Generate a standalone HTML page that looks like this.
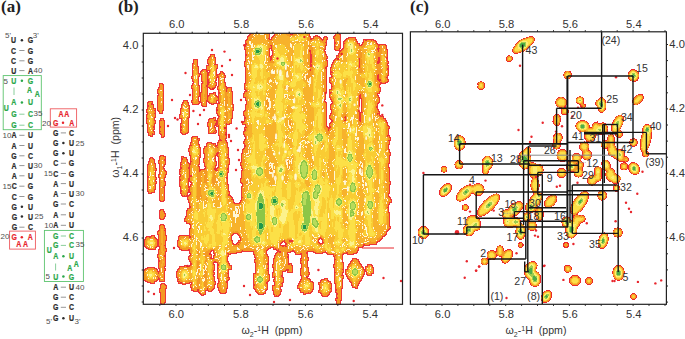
<!DOCTYPE html>
<html><head><meta charset="utf-8"><style>
html,body{margin:0;padding:0;background:#fff;}
body{width:685px;height:339px;overflow:hidden;}
svg{display:block;}
</style></head><body>
<svg width="685" height="339" viewBox="0 0 685 339">
<defs><filter id="fb" filterUnits="userSpaceOnUse" x="143" y="33" width="260" height="272" color-interpolation-filters="sRGB"><feTurbulence type="fractalNoise" baseFrequency="0.3 0.2" numOctaves="2" seed="3" result="t1"/><feGaussianBlur in="SourceAlpha" stdDeviation="1.0" result="b"/><feDisplacementMap in="b" in2="t1" scale="3" xChannelSelector="R" yChannelSelector="G" result="bd"/><feColorMatrix in="bd" type="matrix" values="0 0 0 1 0  0 0 0 1 0  0 0 0 1 0  0 0 0 0 1" result="g"/><feTurbulence type="fractalNoise" baseFrequency="0.18 0.045" numOctaves="3" seed="11" result="t"/><feColorMatrix in="t" type="matrix" values="1 0 0 0 0  1 0 0 0 0  1 0 0 0 0  0 0 0 0 1" result="n"/><feComposite in="g" in2="n" operator="arithmetic" k1="0.5" k2="0.75" k3="0" k4="0" result="d"/><feComponentTransfer in="d" result="col"><feFuncR type="discrete" tableValues="1.000 1.000 1.000 1.000 1.000 1.000 1.000 1.000 1.000 1.000 1.000 1.000 1.000 1.000 1.000 1.000 1.000 1.000 1.000 1.000 1.000 1.000 1.000 1.000 1.000 1.000 0.960 0.960 0.960 0.960 0.960 0.960 0.960 0.960 0.960 0.960 0.960 0.960 0.960 0.960 0.960 0.960 0.960 0.960 0.960 0.960 0.960 0.960 0.960 0.960 0.960 0.960 0.960 0.960 0.960 0.960 0.960 0.960 0.960 0.960 0.960 0.960 0.960 0.960 0.960 0.960 0.960 0.960 0.960 0.960 0.960 0.960 0.960 0.960 0.960 0.960 0.960 0.960 0.960 0.960 1.000 1.000 1.000 1.000 0.970 0.970 0.970 0.970 0.970 0.970 0.970 0.970 0.970 0.970 0.970 0.970 0.970 0.970 0.970 0.970 0.970 0.970 0.970 0.970 1.000 1.000 1.000 1.000 0.980 0.980 0.980 0.980 0.980 0.980 0.980 0.980 0.980 0.980 0.980 0.980 0.980 0.980 0.980 0.980 0.990 0.990 0.990 0.990 0.990 0.990 0.990 0.990 0.990 0.990 0.990 0.990 0.990 0.990 0.990 0.990 0.990 0.990 0.990 0.990 0.990 0.990 0.990 0.990 0.990 0.990 0.990 0.990 0.990 0.990 0.990 0.990 0.990 0.990 0.990 0.990 0.990 0.990 0.990 0.990 0.990 0.990 0.620 0.620 0.620 0.620 0.620 0.620 0.620 0.620 0.620 0.620 0.620 0.620 0.620 0.620 0.620 0.620 0.200 0.200 0.200 0.200 0.200 0.200 0.200 0.200 0.200 0.200 0.200 0.200 0.200 0.200 0.200 0.200 0.200 0.200"/><feFuncG type="discrete" tableValues="1.000 1.000 1.000 1.000 1.000 1.000 1.000 1.000 1.000 1.000 1.000 1.000 1.000 1.000 1.000 1.000 1.000 1.000 1.000 1.000 1.000 1.000 1.000 1.000 1.000 1.000 0.600 0.600 0.600 0.600 0.600 0.600 0.600 0.600 0.600 0.600 0.600 0.600 0.600 0.600 0.600 0.600 0.600 0.600 0.600 0.600 0.600 0.600 0.600 0.600 0.600 0.600 0.600 0.600 0.600 0.600 0.600 0.600 0.600 0.600 0.600 0.600 0.600 0.600 0.600 0.600 0.600 0.600 0.600 0.600 0.600 0.600 0.600 0.600 0.600 0.600 0.600 0.600 0.600 0.600 0.970 0.970 0.970 0.970 0.700 0.700 0.700 0.700 0.700 0.700 0.700 0.700 0.700 0.700 0.700 0.700 0.700 0.700 0.700 0.700 0.700 0.700 0.700 0.700 0.970 0.970 0.970 0.970 0.800 0.800 0.800 0.800 0.800 0.800 0.800 0.800 0.800 0.800 0.800 0.800 0.800 0.800 0.800 0.800 0.880 0.880 0.880 0.880 0.880 0.880 0.880 0.880 0.880 0.880 0.880 0.880 0.880 0.880 0.880 0.880 0.880 0.880 0.880 0.880 0.880 0.880 0.880 0.880 0.950 0.950 0.950 0.950 0.950 0.950 0.950 0.950 0.950 0.950 0.950 0.950 0.950 0.950 0.950 0.950 0.950 0.950 0.800 0.800 0.800 0.800 0.800 0.800 0.800 0.800 0.800 0.800 0.800 0.800 0.800 0.800 0.800 0.800 0.620 0.620 0.620 0.620 0.620 0.620 0.620 0.620 0.620 0.620 0.620 0.620 0.620 0.620 0.620 0.620 0.620 0.620"/><feFuncB type="discrete" tableValues="1.000 1.000 1.000 1.000 1.000 1.000 1.000 1.000 1.000 1.000 1.000 1.000 1.000 1.000 1.000 1.000 1.000 1.000 1.000 1.000 1.000 1.000 1.000 1.000 1.000 1.000 0.140 0.140 0.140 0.140 0.140 0.140 0.140 0.140 0.140 0.140 0.140 0.140 0.140 0.140 0.140 0.140 0.140 0.140 0.140 0.140 0.140 0.140 0.140 0.140 0.140 0.140 0.140 0.140 0.140 0.140 0.140 0.140 0.140 0.140 0.140 0.140 0.140 0.140 0.140 0.140 0.140 0.140 0.140 0.140 0.140 0.140 0.140 0.140 0.140 0.140 0.140 0.140 0.140 0.140 0.850 0.850 0.850 0.850 0.170 0.170 0.170 0.170 0.170 0.170 0.170 0.170 0.170 0.170 0.170 0.170 0.170 0.170 0.170 0.170 0.170 0.170 0.170 0.170 0.850 0.850 0.850 0.850 0.200 0.200 0.200 0.200 0.200 0.200 0.200 0.200 0.200 0.200 0.200 0.200 0.200 0.200 0.200 0.200 0.280 0.280 0.280 0.280 0.280 0.280 0.280 0.280 0.280 0.280 0.280 0.280 0.280 0.280 0.280 0.280 0.280 0.280 0.280 0.280 0.280 0.280 0.280 0.280 0.550 0.550 0.550 0.550 0.550 0.550 0.550 0.550 0.550 0.550 0.550 0.550 0.550 0.550 0.550 0.550 0.550 0.550 0.300 0.300 0.300 0.300 0.300 0.300 0.300 0.300 0.300 0.300 0.300 0.300 0.300 0.300 0.300 0.300 0.300 0.300 0.300 0.300 0.300 0.300 0.300 0.300 0.300 0.300 0.300 0.300 0.300 0.300 0.300 0.300 0.300 0.300"/></feComponentTransfer><feColorMatrix in="d" type="matrix" values="0 0 0 0 0  0 0 0 0 0  0 0 0 0 0  1 0 0 0 0" result="da"/><feComponentTransfer in="da" result="m"><feFuncA type="discrete" tableValues="0 0 0 0 0 0 0 0 0 0 0 0 0 1 1 1 1 1 1 1 1 1 1 1 1 1 1 1 1 1 1 1 1 1 1 1 1 1 1 1 1 1 1 1 1 1 1 1 1 1 1 1 1 1 1 1 1 1 1 1 1 1 1 1 1 1 1 1 1 1 1 1 1 1 1 1 1 1 1 1 1 1 1 1 1 1 1 1 1 1 1 1 1 1 1 1 1 1 1 1"/></feComponentTransfer><feMorphology in="m" operator="dilate" radius="1" result="dil"/><feComposite in="dil" in2="m" operator="out" result="ring"/><feFlood flood-color="#ec2a2e" flood-opacity="0.95" result="rf"/><feComposite in="rf" in2="ring" operator="in" result="red"/><feMerge><feMergeNode in="col"/><feMergeNode in="red"/></feMerge></filter><mask id="mb" maskUnits="userSpaceOnUse" x="143" y="33" width="260" height="272"><rect x="143" y="33" width="260" height="272" fill="#fff"/><ellipse cx="202.3" cy="156" rx="1.6" ry="16" fill="#000"/><ellipse cx="216.5" cy="162" rx="1.3" ry="10" fill="#000"/><ellipse cx="216.5" cy="288" rx="2.2" ry="14" fill="#000"/><ellipse cx="234" cy="280" rx="4" ry="22" fill="#000"/><ellipse cx="378.2" cy="62" rx="0.9" ry="13" fill="#000"/><ellipse cx="271" cy="53" rx="2.6" ry="10" fill="#000"/><ellipse cx="310.8" cy="60" rx="1.8" ry="16" fill="#000"/><ellipse cx="329" cy="50" rx="4.5" ry="15" fill="#000"/><ellipse cx="328" cy="100" rx="3.2" ry="36" fill="#000"/><ellipse cx="345" cy="118.6" rx="1.8" ry="4.5" fill="#000"/><ellipse cx="360.2" cy="108" rx="2.2" ry="18" fill="#000"/><ellipse cx="382" cy="100" rx="4" ry="17" fill="#000"/><ellipse cx="359.5" cy="62" rx="1.5" ry="12" fill="#000"/><ellipse cx="237.5" cy="200" rx="5" ry="5" fill="#000"/><ellipse cx="235.6" cy="239" rx="6" ry="7" fill="#000"/><ellipse cx="235" cy="277" rx="2.5" ry="10" fill="#000"/><ellipse cx="283.4" cy="244" rx="4.5" ry="4" fill="#000"/><ellipse cx="290.5" cy="241" rx="2.5" ry="2.5" fill="#000"/><ellipse cx="272" cy="252" rx="6" ry="6" fill="#000"/><ellipse cx="320.6" cy="241" rx="3.5" ry="5" fill="#000"/><ellipse cx="314.5" cy="264" rx="8.5" ry="9.5" fill="#000"/><ellipse cx="296" cy="264" rx="5" ry="10.5" fill="#000"/><ellipse cx="241" cy="300" rx="8" ry="6" fill="#000"/><ellipse cx="283" cy="292" rx="4" ry="12" fill="#000"/><ellipse cx="212" cy="254" rx="3.5" ry="5.5" fill="#000"/><ellipse cx="237.5" cy="166" rx="4.2" ry="30" fill="#000"/></mask></defs><g filter="url(#fb)"><g mask="url(#mb)"><rect x="143" y="33" width="260" height="272" fill="#fff" fill-opacity="0"/><g opacity="0.45"><rect x="194.3" y="62.5" width="2.5" height="40.0" rx="1.2" ry="1.2"/><ellipse cx="195.8" cy="63.0" rx="1.0" ry="4.0"/><ellipse cx="195.6" cy="67.7" rx="1.4" ry="3.9"/><ellipse cx="195.5" cy="72.2" rx="1.8" ry="3.3"/><ellipse cx="195.9" cy="76.6" rx="1.8" ry="4.4"/><ellipse cx="195.5" cy="80.8" rx="1.8" ry="5.4"/><ellipse cx="195.4" cy="85.2" rx="1.6" ry="4.8"/><ellipse cx="195.9" cy="89.2" rx="2.4" ry="3.8"/><ellipse cx="195.8" cy="95.1" rx="2.2" ry="3.0"/><ellipse cx="195.4" cy="101.0" rx="1.1" ry="3.4"/><rect x="202.8" y="72.5" width="2.4" height="32.0" rx="1.2" ry="1.2"/><ellipse cx="204.3" cy="73.0" rx="1.5" ry="3.2"/><ellipse cx="204.1" cy="79.0" rx="1.5" ry="4.9"/><ellipse cx="204.1" cy="84.9" rx="1.4" ry="4.2"/><ellipse cx="204.3" cy="89.7" rx="1.7" ry="4.5"/><ellipse cx="204.0" cy="94.2" rx="2.0" ry="4.9"/><ellipse cx="203.8" cy="98.4" rx="2.0" ry="3.4"/><ellipse cx="204.0" cy="102.8" rx="1.3" ry="3.7"/><rect x="210.5" y="58.5" width="3.7" height="30.0" rx="1.9" ry="1.9"/><ellipse cx="212.2" cy="59.0" rx="2.1" ry="4.0"/><ellipse cx="212.5" cy="63.2" rx="2.0" ry="4.2"/><ellipse cx="212.2" cy="67.7" rx="3.4" ry="3.3"/><ellipse cx="212.6" cy="72.4" rx="3.1" ry="4.3"/><ellipse cx="212.2" cy="78.4" rx="2.7" ry="3.6"/><ellipse cx="211.9" cy="83.7" rx="2.6" ry="4.4"/><ellipse cx="212.4" cy="98.5" rx="3.6" ry="4.5"/><rect x="220.5" y="76.5" width="4.0" height="62.0" rx="2.0" ry="2.0"/><ellipse cx="222.2" cy="77.0" rx="2.4" ry="3.2"/><ellipse cx="222.5" cy="82.1" rx="2.1" ry="3.0"/><ellipse cx="221.9" cy="88.0" rx="2.8" ry="3.9"/><ellipse cx="222.6" cy="92.3" rx="2.6" ry="3.4"/><ellipse cx="223.0" cy="97.2" rx="2.7" ry="5.4"/><ellipse cx="222.7" cy="101.4" rx="3.1" ry="4.3"/><ellipse cx="222.1" cy="106.4" rx="3.5" ry="4.3"/><ellipse cx="222.1" cy="111.8" rx="3.5" ry="4.5"/><ellipse cx="223.0" cy="116.8" rx="3.3" ry="3.1"/><ellipse cx="221.9" cy="121.7" rx="3.3" ry="5.0"/><ellipse cx="222.9" cy="126.9" rx="2.7" ry="3.1"/><ellipse cx="222.0" cy="131.2" rx="2.2" ry="4.4"/><ellipse cx="223.1" cy="137.6" rx="1.8" ry="3.2"/><rect x="227.5" y="91.5" width="3.0" height="32.0" rx="1.5" ry="1.5"/><ellipse cx="229.2" cy="92.0" rx="1.3" ry="4.4"/><ellipse cx="229.1" cy="98.4" rx="2.2" ry="4.0"/><ellipse cx="229.2" cy="104.4" rx="2.3" ry="4.6"/><ellipse cx="229.2" cy="108.5" rx="2.8" ry="5.3"/><ellipse cx="228.9" cy="113.0" rx="1.7" ry="4.6"/><ellipse cx="228.6" cy="117.5" rx="1.8" ry="4.4"/><rect x="159.6" y="87.5" width="2.1" height="24.0" rx="1.1" ry="1.1"/><ellipse cx="161.0" cy="88.0" rx="1.1" ry="5.0"/><ellipse cx="161.0" cy="93.3" rx="1.6" ry="4.3"/><ellipse cx="160.6" cy="99.0" rx="1.3" ry="5.3"/><ellipse cx="160.5" cy="104.8" rx="1.8" ry="4.8"/><ellipse cx="160.4" cy="109.6" rx="1.1" ry="4.0"/><rect x="149.2" y="105.5" width="3.2" height="27.0" rx="1.6" ry="1.6"/><ellipse cx="150.3" cy="106.0" rx="1.5" ry="4.6"/><ellipse cx="150.6" cy="110.6" rx="2.1" ry="4.5"/><ellipse cx="150.7" cy="115.6" rx="2.8" ry="3.3"/><ellipse cx="151.1" cy="121.3" rx="3.0" ry="4.4"/><ellipse cx="151.1" cy="125.6" rx="1.7" ry="4.1"/><ellipse cx="150.8" cy="130.2" rx="1.6" ry="5.4"/><rect x="183.0" y="103.5" width="3.7" height="29.0" rx="1.9" ry="1.9"/><ellipse cx="185.1" cy="104.0" rx="1.5" ry="3.3"/><ellipse cx="185.1" cy="108.0" rx="2.5" ry="3.8"/><ellipse cx="184.7" cy="113.5" rx="3.6" ry="5.4"/><ellipse cx="184.8" cy="118.3" rx="2.3" ry="3.1"/><ellipse cx="185.1" cy="123.9" rx="2.2" ry="3.6"/><ellipse cx="184.5" cy="129.6" rx="1.8" ry="4.3"/><rect x="161.1" y="123.5" width="1.7" height="11.0" rx="0.9" ry="0.9"/><ellipse cx="162.0" cy="124.0" rx="1.0" ry="5.4"/><ellipse cx="162.1" cy="129.2" rx="1.5" ry="3.3"/><ellipse cx="162.2" cy="133.3" rx="0.9" ry="5.0"/><rect x="149.4" y="161.5" width="4.2" height="31.0" rx="2.1" ry="2.1"/><ellipse cx="151.3" cy="162.0" rx="1.8" ry="3.5"/><ellipse cx="151.6" cy="166.2" rx="2.7" ry="3.4"/><ellipse cx="151.0" cy="171.6" rx="2.4" ry="3.3"/><ellipse cx="151.6" cy="177.8" rx="3.5" ry="3.3"/><ellipse cx="151.8" cy="183.3" rx="2.8" ry="5.3"/><ellipse cx="151.1" cy="188.6" rx="2.5" ry="3.9"/><rect x="161.0" y="158.5" width="2.0" height="43.0" rx="1.0" ry="1.0"/><ellipse cx="161.8" cy="159.0" rx="0.8" ry="4.1"/><ellipse cx="162.2" cy="163.3" rx="1.5" ry="4.3"/><ellipse cx="162.2" cy="168.9" rx="1.3" ry="4.1"/><ellipse cx="162.2" cy="174.6" rx="1.6" ry="4.7"/><ellipse cx="161.9" cy="180.1" rx="1.4" ry="3.7"/><ellipse cx="162.1" cy="184.8" rx="1.7" ry="5.2"/><ellipse cx="162.0" cy="189.9" rx="1.2" ry="4.2"/><ellipse cx="162.3" cy="195.4" rx="1.4" ry="3.9"/><rect x="182.5" y="161.5" width="4.0" height="34.0" rx="2.0" ry="2.0"/><ellipse cx="184.4" cy="162.0" rx="1.6" ry="4.1"/><ellipse cx="184.7" cy="166.4" rx="2.6" ry="3.8"/><ellipse cx="184.4" cy="172.0" rx="3.6" ry="4.3"/><ellipse cx="185.1" cy="176.3" rx="2.8" ry="4.7"/><ellipse cx="185.1" cy="181.3" rx="2.8" ry="3.0"/><ellipse cx="184.6" cy="186.5" rx="2.8" ry="5.1"/><ellipse cx="184.4" cy="190.7" rx="2.1" ry="3.5"/><rect x="210.1" y="123.5" width="3.7" height="8.0" rx="1.9" ry="1.9"/><ellipse cx="211.8" cy="124.0" rx="2.6" ry="5.3"/><ellipse cx="212.1" cy="128.0" rx="2.7" ry="4.9"/><ellipse cx="194.8" cy="150.9" rx="5.0" ry="7.0"/><ellipse cx="210.7" cy="151.0" rx="5.5" ry="6.5"/><ellipse cx="222.6" cy="148.0" rx="5.0" ry="7.0"/><rect x="192.4" y="141.5" width="4.7" height="149.0" rx="2.4" ry="2.4"/><ellipse cx="194.7" cy="142.0" rx="2.5" ry="5.0"/><ellipse cx="194.3" cy="146.3" rx="2.5" ry="3.1"/><ellipse cx="194.5" cy="152.7" rx="2.7" ry="4.4"/><ellipse cx="194.9" cy="157.7" rx="3.4" ry="5.1"/><ellipse cx="195.2" cy="162.4" rx="2.8" ry="3.8"/><ellipse cx="194.2" cy="167.6" rx="3.7" ry="4.8"/><ellipse cx="194.6" cy="172.3" rx="4.1" ry="3.8"/><ellipse cx="194.8" cy="178.7" rx="4.0" ry="5.0"/><ellipse cx="195.3" cy="184.4" rx="2.9" ry="3.8"/><ellipse cx="194.9" cy="189.6" rx="4.1" ry="5.4"/><ellipse cx="194.6" cy="194.6" rx="3.1" ry="4.7"/><ellipse cx="194.2" cy="199.4" rx="4.5" ry="5.0"/><ellipse cx="194.7" cy="203.5" rx="4.0" ry="3.9"/><ellipse cx="195.1" cy="209.4" rx="3.9" ry="5.4"/><ellipse cx="194.3" cy="213.7" rx="3.9" ry="4.5"/><ellipse cx="195.0" cy="217.8" rx="4.5" ry="4.7"/><ellipse cx="194.6" cy="222.3" rx="3.3" ry="5.2"/><ellipse cx="195.4" cy="228.3" rx="4.4" ry="5.0"/><ellipse cx="194.4" cy="232.4" rx="3.8" ry="3.6"/><ellipse cx="195.5" cy="238.5" rx="4.1" ry="4.8"/><ellipse cx="194.2" cy="244.2" rx="3.5" ry="5.4"/><ellipse cx="194.5" cy="249.5" rx="3.8" ry="5.4"/><ellipse cx="195.1" cy="253.8" rx="2.9" ry="3.3"/><ellipse cx="194.5" cy="258.6" rx="4.5" ry="4.1"/><ellipse cx="194.7" cy="264.2" rx="3.4" ry="3.9"/><ellipse cx="194.9" cy="269.4" rx="3.9" ry="3.3"/><ellipse cx="194.5" cy="273.6" rx="4.5" ry="5.4"/><ellipse cx="194.9" cy="278.5" rx="3.6" ry="5.0"/><ellipse cx="194.8" cy="284.4" rx="2.9" ry="4.9"/><rect x="207.4" y="146.5" width="5.2" height="142.0" rx="2.6" ry="2.6"/><ellipse cx="209.5" cy="147.0" rx="2.1" ry="3.4"/><ellipse cx="210.4" cy="152.3" rx="4.2" ry="4.7"/><ellipse cx="209.8" cy="157.9" rx="4.3" ry="4.5"/><ellipse cx="210.4" cy="163.6" rx="4.7" ry="5.1"/><ellipse cx="209.9" cy="169.3" rx="3.6" ry="3.2"/><ellipse cx="210.6" cy="174.0" rx="3.7" ry="3.5"/><ellipse cx="209.9" cy="178.7" rx="3.0" ry="5.3"/><ellipse cx="209.4" cy="184.5" rx="3.0" ry="4.9"/><ellipse cx="209.8" cy="188.7" rx="3.1" ry="4.4"/><ellipse cx="209.9" cy="193.4" rx="3.7" ry="3.3"/><ellipse cx="209.7" cy="198.8" rx="3.1" ry="3.9"/><ellipse cx="209.2" cy="204.6" rx="4.0" ry="3.0"/><ellipse cx="209.3" cy="210.7" rx="4.1" ry="3.5"/><ellipse cx="210.5" cy="216.1" rx="4.9" ry="5.0"/><ellipse cx="209.2" cy="222.3" rx="4.6" ry="3.0"/><ellipse cx="210.2" cy="228.5" rx="4.4" ry="5.5"/><ellipse cx="209.3" cy="234.3" rx="4.8" ry="3.2"/><ellipse cx="209.8" cy="238.9" rx="4.4" ry="3.7"/><ellipse cx="210.6" cy="243.9" rx="4.5" ry="4.3"/><ellipse cx="209.3" cy="250.0" rx="3.1" ry="3.7"/><ellipse cx="210.4" cy="254.3" rx="3.1" ry="4.9"/><ellipse cx="210.2" cy="258.3" rx="3.5" ry="4.7"/><ellipse cx="209.2" cy="264.2" rx="3.1" ry="4.6"/><ellipse cx="209.6" cy="269.2" rx="3.9" ry="5.3"/><ellipse cx="209.4" cy="274.3" rx="3.4" ry="5.1"/><ellipse cx="209.7" cy="280.6" rx="3.8" ry="4.1"/><ellipse cx="209.6" cy="285.2" rx="3.7" ry="5.2"/><rect x="220.4" y="145.5" width="5.2" height="145.0" rx="2.6" ry="2.6"/><ellipse cx="223.7" cy="146.0" rx="2.8" ry="3.4"/><ellipse cx="223.5" cy="150.7" rx="3.9" ry="3.5"/><ellipse cx="223.5" cy="157.0" rx="3.1" ry="4.6"/><ellipse cx="223.8" cy="161.7" rx="4.5" ry="4.4"/><ellipse cx="223.1" cy="167.1" rx="4.0" ry="3.4"/><ellipse cx="222.2" cy="173.0" rx="4.1" ry="3.5"/><ellipse cx="222.5" cy="179.4" rx="4.1" ry="3.1"/><ellipse cx="222.6" cy="184.1" rx="3.5" ry="4.0"/><ellipse cx="222.5" cy="188.9" rx="4.9" ry="4.2"/><ellipse cx="223.5" cy="193.3" rx="4.9" ry="3.1"/><ellipse cx="223.3" cy="199.4" rx="3.9" ry="3.4"/><ellipse cx="223.7" cy="204.7" rx="3.3" ry="4.8"/><ellipse cx="222.9" cy="210.2" rx="4.2" ry="4.5"/><ellipse cx="222.3" cy="214.3" rx="4.0" ry="3.4"/><ellipse cx="222.8" cy="219.7" rx="4.4" ry="3.5"/><ellipse cx="223.3" cy="225.4" rx="3.2" ry="3.7"/><ellipse cx="223.6" cy="231.5" rx="3.0" ry="3.5"/><ellipse cx="222.9" cy="237.3" rx="4.6" ry="4.9"/><ellipse cx="223.7" cy="243.7" rx="4.5" ry="5.0"/><ellipse cx="223.2" cy="250.0" rx="3.1" ry="4.4"/><ellipse cx="223.5" cy="255.2" rx="3.6" ry="3.0"/><ellipse cx="222.5" cy="260.8" rx="4.5" ry="5.3"/><ellipse cx="222.7" cy="266.6" rx="4.8" ry="3.1"/><ellipse cx="222.3" cy="273.0" rx="4.5" ry="3.1"/><ellipse cx="223.1" cy="279.2" rx="4.0" ry="5.0"/><ellipse cx="222.8" cy="283.7" rx="3.0" ry="3.9"/><ellipse cx="222.8" cy="288.0" rx="3.0" ry="4.6"/><rect x="200.8" y="173.5" width="4.3" height="85.0" rx="2.2" ry="2.2"/><ellipse cx="203.4" cy="174.0" rx="2.7" ry="3.9"/><ellipse cx="202.3" cy="178.8" rx="2.3" ry="4.0"/><ellipse cx="202.5" cy="185.2" rx="3.9" ry="3.5"/><ellipse cx="202.7" cy="190.3" rx="2.8" ry="4.4"/><ellipse cx="203.5" cy="194.7" rx="3.1" ry="3.0"/><ellipse cx="203.0" cy="199.2" rx="3.1" ry="4.1"/><ellipse cx="203.7" cy="203.7" rx="3.0" ry="3.1"/><ellipse cx="203.3" cy="209.2" rx="3.0" ry="4.1"/><ellipse cx="202.4" cy="213.6" rx="3.3" ry="4.5"/><ellipse cx="202.9" cy="218.8" rx="2.5" ry="3.8"/><ellipse cx="203.1" cy="223.3" rx="3.7" ry="3.3"/><ellipse cx="202.8" cy="228.3" rx="4.0" ry="4.8"/><ellipse cx="202.9" cy="233.6" rx="2.9" ry="5.2"/><ellipse cx="203.4" cy="238.8" rx="3.4" ry="3.9"/><ellipse cx="203.4" cy="245.0" rx="2.9" ry="4.0"/><ellipse cx="202.6" cy="250.8" rx="3.1" ry="3.7"/><ellipse cx="202.7" cy="256.1" rx="1.9" ry="3.5"/><rect x="214.8" y="173.5" width="4.3" height="85.0" rx="2.2" ry="2.2"/><ellipse cx="216.7" cy="174.0" rx="2.1" ry="3.7"/><ellipse cx="217.6" cy="180.3" rx="2.7" ry="4.9"/><ellipse cx="216.4" cy="185.5" rx="3.3" ry="3.0"/><ellipse cx="217.7" cy="190.2" rx="3.4" ry="5.4"/><ellipse cx="216.6" cy="195.3" rx="2.9" ry="3.8"/><ellipse cx="217.0" cy="201.3" rx="4.0" ry="4.5"/><ellipse cx="217.2" cy="207.4" rx="2.6" ry="5.3"/><ellipse cx="217.2" cy="211.6" rx="2.7" ry="3.9"/><ellipse cx="217.2" cy="215.9" rx="3.7" ry="3.2"/><ellipse cx="217.5" cy="222.0" rx="3.7" ry="5.3"/><ellipse cx="216.9" cy="226.8" rx="3.4" ry="4.1"/><ellipse cx="216.4" cy="231.9" rx="3.4" ry="4.2"/><ellipse cx="216.6" cy="236.3" rx="4.0" ry="4.9"/><ellipse cx="216.9" cy="240.6" rx="4.0" ry="3.6"/><ellipse cx="217.4" cy="247.0" rx="2.7" ry="4.2"/><ellipse cx="217.3" cy="251.3" rx="4.0" ry="4.7"/><ellipse cx="216.6" cy="257.3" rx="1.8" ry="4.1"/><rect x="227.1" y="201.5" width="3.7" height="52.0" rx="1.9" ry="1.9"/><ellipse cx="228.6" cy="202.0" rx="2.0" ry="5.0"/><ellipse cx="229.5" cy="207.2" rx="2.0" ry="5.0"/><ellipse cx="229.4" cy="211.4" rx="2.1" ry="4.8"/><ellipse cx="229.2" cy="216.2" rx="2.2" ry="4.4"/><ellipse cx="228.6" cy="222.7" rx="3.4" ry="3.8"/><ellipse cx="229.3" cy="226.8" rx="2.5" ry="4.7"/><ellipse cx="229.0" cy="230.9" rx="2.6" ry="3.3"/><ellipse cx="228.8" cy="235.5" rx="2.3" ry="3.3"/><ellipse cx="229.0" cy="239.7" rx="2.1" ry="4.4"/><ellipse cx="229.1" cy="244.5" rx="2.1" ry="3.1"/><ellipse cx="228.5" cy="250.3" rx="2.3" ry="3.5"/><ellipse cx="221.2" cy="174.0" rx="5.2" ry="5.8"/><ellipse cx="211.8" cy="193.3" rx="5.6" ry="6.2"/><ellipse cx="223.6" cy="217.2" rx="6.0" ry="7.0"/><ellipse cx="223.6" cy="267.4" rx="5.4" ry="5.9"/><ellipse cx="210.6" cy="193.0" rx="5.2" ry="5.8"/><ellipse cx="184.7" cy="129.7" rx="3.0" ry="3.5"/><ellipse cx="210.6" cy="128.5" rx="1.8" ry="2.5"/><polygon points="196,205 200,201 247,200 247,250 236,252 200,252 196,240"/><rect x="199.8" y="201.5" width="4.3" height="93.0" rx="2.2" ry="2.2"/><ellipse cx="202.0" cy="202.0" rx="1.9" ry="5.0"/><ellipse cx="201.4" cy="208.3" rx="3.6" ry="3.7"/><ellipse cx="201.7" cy="212.9" rx="4.0" ry="4.9"/><ellipse cx="201.8" cy="218.0" rx="2.8" ry="3.8"/><ellipse cx="202.1" cy="224.1" rx="3.9" ry="4.4"/><ellipse cx="202.0" cy="229.8" rx="2.8" ry="4.4"/><ellipse cx="202.6" cy="234.6" rx="3.0" ry="3.6"/><ellipse cx="201.7" cy="241.0" rx="3.4" ry="5.4"/><ellipse cx="202.5" cy="245.9" rx="4.1" ry="3.7"/><ellipse cx="202.3" cy="251.9" rx="3.3" ry="4.3"/><ellipse cx="202.1" cy="258.1" rx="4.1" ry="4.8"/><ellipse cx="202.4" cy="264.2" rx="3.4" ry="4.5"/><ellipse cx="202.7" cy="269.3" rx="2.9" ry="5.1"/><ellipse cx="201.7" cy="275.2" rx="3.6" ry="3.5"/><ellipse cx="202.6" cy="279.4" rx="3.2" ry="3.3"/><ellipse cx="201.5" cy="284.0" rx="3.2" ry="4.4"/><ellipse cx="202.5" cy="289.8" rx="2.1" ry="3.8"/><rect x="160.8" y="227.5" width="2.4" height="53.0" rx="1.2" ry="1.2"/><ellipse cx="162.1" cy="228.0" rx="1.3" ry="3.8"/><ellipse cx="162.1" cy="232.6" rx="1.9" ry="4.9"/><ellipse cx="161.9" cy="238.5" rx="2.1" ry="3.7"/><ellipse cx="162.0" cy="243.3" rx="1.9" ry="4.4"/><ellipse cx="162.3" cy="249.4" rx="1.8" ry="4.9"/><ellipse cx="161.9" cy="254.4" rx="2.3" ry="4.0"/><ellipse cx="161.9" cy="258.7" rx="2.0" ry="5.1"/><ellipse cx="162.0" cy="264.7" rx="1.8" ry="4.7"/><ellipse cx="162.0" cy="271.1" rx="1.4" ry="4.4"/><ellipse cx="161.9" cy="275.8" rx="1.5" ry="5.4"/><rect x="160.9" y="213.5" width="2.2" height="6.0" rx="1.1" ry="1.1"/><ellipse cx="162.2" cy="214.0" rx="1.2" ry="4.6"/><ellipse cx="151.0" cy="243.0" rx="5.8" ry="5.8"/><ellipse cx="151.0" cy="275.0" rx="6.8" ry="6.8"/><rect x="161.9" y="288.5" width="2.2" height="15.0" rx="1.1" ry="1.1"/><ellipse cx="162.8" cy="289.0" rx="1.2" ry="5.5"/><ellipse cx="163.3" cy="295.0" rx="1.3" ry="4.1"/><ellipse cx="162.8" cy="300.2" rx="1.2" ry="3.4"/><ellipse cx="185.0" cy="243.0" rx="6.8" ry="6.8"/><ellipse cx="185.0" cy="275.0" rx="7.5" ry="8.0"/><ellipse cx="193.0" cy="271.0" rx="3.2" ry="5.0"/><rect x="187.5" y="213.5" width="3.0" height="7.0" rx="1.5" ry="1.5"/><ellipse cx="189.2" cy="214.0" rx="1.3" ry="5.0"/><ellipse cx="188.8" cy="218.8" rx="2.2" ry="4.1"/><polygon points="248,44 252,38 258,36 265,39 270,42 275,37 290,35 300,38 305,36 311,41 318,43 325,45 325,250 248,250"/><polygon points="334,64 345,47 358,46 376,48 376,243 360,245 345,252 334,254"/><polygon points="325,128 335,128 335,254 325,252"/><polygon points="376,124 387,127 388,230 376,243"/><rect x="251.4" y="36.5" width="14.3" height="212.0" rx="7.1" ry="7.1"/><ellipse cx="260.0" cy="37.0" rx="8.6" ry="5.3"/><ellipse cx="259.6" cy="42.9" rx="11.3" ry="5.4"/><ellipse cx="258.8" cy="47.6" rx="13.4" ry="4.8"/><ellipse cx="258.6" cy="53.4" rx="10.7" ry="3.4"/><ellipse cx="260.7" cy="59.2" rx="9.4" ry="4.3"/><ellipse cx="257.9" cy="64.4" rx="12.9" ry="3.3"/><ellipse cx="259.3" cy="70.8" rx="12.4" ry="3.1"/><ellipse cx="258.5" cy="76.6" rx="10.9" ry="3.1"/><ellipse cx="257.9" cy="81.3" rx="11.6" ry="3.2"/><ellipse cx="259.2" cy="87.8" rx="10.3" ry="3.6"/><ellipse cx="260.1" cy="92.1" rx="8.6" ry="3.4"/><ellipse cx="259.2" cy="98.1" rx="9.7" ry="3.3"/><ellipse cx="259.8" cy="102.2" rx="9.1" ry="3.2"/><ellipse cx="259.1" cy="106.9" rx="9.0" ry="4.9"/><ellipse cx="258.3" cy="112.5" rx="9.1" ry="4.6"/><ellipse cx="260.4" cy="117.2" rx="10.0" ry="3.8"/><ellipse cx="256.6" cy="121.6" rx="12.5" ry="4.0"/><ellipse cx="260.5" cy="127.6" rx="11.6" ry="5.3"/><ellipse cx="258.5" cy="132.7" rx="13.8" ry="4.9"/><ellipse cx="258.5" cy="137.9" rx="12.1" ry="5.4"/><ellipse cx="258.5" cy="142.8" rx="13.6" ry="4.8"/><ellipse cx="260.0" cy="148.0" rx="8.3" ry="4.3"/><ellipse cx="259.9" cy="153.8" rx="12.1" ry="4.6"/><ellipse cx="258.8" cy="158.9" rx="9.4" ry="4.4"/><ellipse cx="257.5" cy="164.5" rx="9.2" ry="4.4"/><ellipse cx="257.8" cy="168.6" rx="11.4" ry="4.1"/><ellipse cx="257.1" cy="174.3" rx="10.8" ry="4.0"/><ellipse cx="258.2" cy="179.6" rx="9.3" ry="3.5"/><ellipse cx="258.8" cy="185.2" rx="9.4" ry="4.3"/><ellipse cx="260.2" cy="191.0" rx="8.7" ry="3.5"/><ellipse cx="258.6" cy="195.8" rx="10.9" ry="4.4"/><ellipse cx="259.3" cy="200.6" rx="12.1" ry="3.4"/><ellipse cx="258.5" cy="207.0" rx="12.9" ry="4.2"/><ellipse cx="259.7" cy="213.4" rx="9.8" ry="3.4"/><ellipse cx="257.2" cy="218.5" rx="13.1" ry="4.4"/><ellipse cx="260.5" cy="222.6" rx="11.6" ry="3.0"/><ellipse cx="258.5" cy="227.2" rx="10.5" ry="4.3"/><ellipse cx="258.4" cy="233.3" rx="11.4" ry="5.2"/><ellipse cx="258.4" cy="239.6" rx="9.8" ry="4.1"/><ellipse cx="257.9" cy="245.2" rx="9.8" ry="3.6"/><rect x="274.6" y="35.5" width="11.8" height="213.0" rx="5.9" ry="5.9"/><ellipse cx="281.9" cy="36.0" rx="7.0" ry="4.8"/><ellipse cx="280.3" cy="41.2" rx="8.4" ry="4.6"/><ellipse cx="279.9" cy="45.5" rx="9.2" ry="4.4"/><ellipse cx="280.0" cy="51.3" rx="9.1" ry="5.2"/><ellipse cx="281.7" cy="56.6" rx="8.1" ry="4.8"/><ellipse cx="278.9" cy="62.3" rx="9.5" ry="4.8"/><ellipse cx="281.8" cy="67.9" rx="9.8" ry="5.2"/><ellipse cx="282.2" cy="72.2" rx="10.1" ry="4.1"/><ellipse cx="279.6" cy="76.4" rx="7.8" ry="3.5"/><ellipse cx="281.2" cy="82.1" rx="11.0" ry="4.0"/><ellipse cx="278.7" cy="87.8" rx="10.7" ry="5.3"/><ellipse cx="282.0" cy="92.9" rx="10.1" ry="4.6"/><ellipse cx="279.3" cy="97.4" rx="10.9" ry="4.2"/><ellipse cx="278.7" cy="101.5" rx="7.5" ry="4.1"/><ellipse cx="281.9" cy="106.5" rx="9.7" ry="4.6"/><ellipse cx="278.8" cy="111.2" rx="10.9" ry="3.7"/><ellipse cx="279.0" cy="116.7" rx="10.3" ry="3.3"/><ellipse cx="281.0" cy="122.7" rx="11.1" ry="3.7"/><ellipse cx="281.1" cy="128.7" rx="9.8" ry="3.5"/><ellipse cx="281.8" cy="133.7" rx="9.2" ry="4.4"/><ellipse cx="279.0" cy="140.2" rx="9.0" ry="5.0"/><ellipse cx="279.1" cy="145.7" rx="7.7" ry="5.4"/><ellipse cx="279.4" cy="150.2" rx="9.1" ry="3.2"/><ellipse cx="280.6" cy="156.4" rx="10.8" ry="5.2"/><ellipse cx="280.7" cy="161.6" rx="8.6" ry="4.7"/><ellipse cx="279.4" cy="165.7" rx="9.3" ry="4.4"/><ellipse cx="282.4" cy="170.2" rx="10.9" ry="4.1"/><ellipse cx="282.1" cy="175.9" rx="8.2" ry="3.8"/><ellipse cx="279.7" cy="180.6" rx="10.1" ry="4.5"/><ellipse cx="281.3" cy="186.9" rx="11.4" ry="3.6"/><ellipse cx="281.9" cy="192.2" rx="10.9" ry="4.4"/><ellipse cx="280.2" cy="196.3" rx="6.7" ry="3.8"/><ellipse cx="279.2" cy="202.1" rx="9.3" ry="4.0"/><ellipse cx="281.3" cy="206.6" rx="7.9" ry="3.8"/><ellipse cx="279.9" cy="212.6" rx="10.6" ry="3.8"/><ellipse cx="281.5" cy="218.7" rx="9.0" ry="4.8"/><ellipse cx="279.9" cy="224.6" rx="10.9" ry="3.6"/><ellipse cx="281.1" cy="228.8" rx="11.4" ry="5.5"/><ellipse cx="281.2" cy="232.9" rx="10.4" ry="3.0"/><ellipse cx="281.7" cy="239.0" rx="9.6" ry="5.4"/><ellipse cx="279.8" cy="243.9" rx="8.1" ry="4.0"/><rect x="292.7" y="35.5" width="10.5" height="213.0" rx="5.3" ry="5.3"/><ellipse cx="299.2" cy="36.0" rx="4.7" ry="4.8"/><ellipse cx="297.0" cy="40.7" rx="8.0" ry="3.5"/><ellipse cx="297.6" cy="45.4" rx="7.6" ry="4.7"/><ellipse cx="298.2" cy="51.7" rx="10.2" ry="5.2"/><ellipse cx="299.6" cy="56.6" rx="7.7" ry="4.5"/><ellipse cx="297.2" cy="61.3" rx="9.3" ry="5.1"/><ellipse cx="298.1" cy="67.2" rx="9.3" ry="4.7"/><ellipse cx="299.4" cy="71.6" rx="10.0" ry="4.2"/><ellipse cx="298.7" cy="76.4" rx="6.1" ry="4.6"/><ellipse cx="296.6" cy="81.8" rx="7.1" ry="4.0"/><ellipse cx="296.8" cy="86.4" rx="7.8" ry="4.1"/><ellipse cx="297.3" cy="92.2" rx="6.7" ry="3.0"/><ellipse cx="297.9" cy="96.6" rx="10.0" ry="5.0"/><ellipse cx="298.5" cy="101.5" rx="9.2" ry="5.1"/><ellipse cx="297.2" cy="107.8" rx="8.5" ry="3.2"/><ellipse cx="299.4" cy="114.2" rx="9.7" ry="3.2"/><ellipse cx="299.4" cy="118.3" rx="8.1" ry="5.2"/><ellipse cx="297.0" cy="123.5" rx="7.3" ry="5.4"/><ellipse cx="298.6" cy="129.1" rx="7.0" ry="5.4"/><ellipse cx="298.9" cy="133.7" rx="8.6" ry="3.9"/><ellipse cx="296.4" cy="139.0" rx="8.7" ry="5.3"/><ellipse cx="298.1" cy="144.5" rx="7.0" ry="3.1"/><ellipse cx="299.1" cy="149.5" rx="7.7" ry="4.7"/><ellipse cx="298.0" cy="154.9" rx="8.6" ry="4.5"/><ellipse cx="297.4" cy="160.3" rx="6.6" ry="3.0"/><ellipse cx="297.8" cy="164.8" rx="8.9" ry="3.5"/><ellipse cx="297.3" cy="169.2" rx="6.7" ry="4.6"/><ellipse cx="296.3" cy="173.7" rx="8.1" ry="4.7"/><ellipse cx="296.7" cy="179.5" rx="7.1" ry="3.4"/><ellipse cx="299.7" cy="185.0" rx="7.0" ry="4.4"/><ellipse cx="298.0" cy="190.0" rx="9.4" ry="3.3"/><ellipse cx="297.8" cy="195.1" rx="8.0" ry="4.5"/><ellipse cx="298.7" cy="199.3" rx="8.3" ry="5.0"/><ellipse cx="298.1" cy="203.4" rx="7.4" ry="4.2"/><ellipse cx="298.7" cy="209.1" rx="9.1" ry="3.6"/><ellipse cx="297.2" cy="213.3" rx="8.6" ry="5.1"/><ellipse cx="299.2" cy="219.5" rx="8.4" ry="3.1"/><ellipse cx="299.4" cy="225.4" rx="8.0" ry="5.3"/><ellipse cx="298.5" cy="229.5" rx="6.8" ry="5.1"/><ellipse cx="298.6" cy="236.0" rx="9.5" ry="4.2"/><ellipse cx="298.5" cy="242.1" rx="7.4" ry="3.0"/><ellipse cx="298.1" cy="247.9" rx="4.6" ry="5.3"/><rect x="313.0" y="41.5" width="9.9" height="209.0" rx="5.0" ry="5.0"/><ellipse cx="316.6" cy="42.0" rx="4.1" ry="5.3"/><ellipse cx="317.4" cy="46.0" rx="7.6" ry="5.0"/><ellipse cx="318.4" cy="50.5" rx="7.3" ry="3.7"/><ellipse cx="319.4" cy="55.2" rx="8.5" ry="4.9"/><ellipse cx="318.9" cy="61.5" rx="9.4" ry="4.9"/><ellipse cx="319.4" cy="66.5" rx="6.5" ry="3.1"/><ellipse cx="318.9" cy="72.2" rx="5.8" ry="5.0"/><ellipse cx="319.1" cy="76.9" rx="7.3" ry="3.7"/><ellipse cx="317.8" cy="82.6" rx="5.6" ry="5.5"/><ellipse cx="319.3" cy="88.2" rx="7.2" ry="4.1"/><ellipse cx="317.7" cy="93.4" rx="7.2" ry="3.4"/><ellipse cx="318.6" cy="98.2" rx="8.9" ry="3.2"/><ellipse cx="319.3" cy="104.6" rx="7.6" ry="4.7"/><ellipse cx="317.9" cy="110.1" rx="9.2" ry="5.2"/><ellipse cx="317.7" cy="114.7" rx="9.1" ry="3.9"/><ellipse cx="316.4" cy="119.6" rx="8.7" ry="3.6"/><ellipse cx="317.3" cy="125.8" rx="6.5" ry="3.4"/><ellipse cx="317.9" cy="130.9" rx="8.6" ry="4.5"/><ellipse cx="318.3" cy="136.6" rx="8.1" ry="3.1"/><ellipse cx="317.9" cy="140.7" rx="8.0" ry="5.4"/><ellipse cx="318.6" cy="145.3" rx="9.0" ry="4.3"/><ellipse cx="316.7" cy="149.5" rx="9.3" ry="3.8"/><ellipse cx="318.4" cy="155.1" rx="8.3" ry="5.2"/><ellipse cx="317.2" cy="159.2" rx="6.5" ry="3.7"/><ellipse cx="316.6" cy="164.8" rx="5.7" ry="3.8"/><ellipse cx="317.4" cy="169.8" rx="7.8" ry="4.1"/><ellipse cx="319.4" cy="175.8" rx="9.2" ry="5.3"/><ellipse cx="316.9" cy="180.8" rx="9.1" ry="4.1"/><ellipse cx="316.4" cy="187.0" rx="6.8" ry="5.0"/><ellipse cx="317.6" cy="192.4" rx="6.3" ry="3.5"/><ellipse cx="319.0" cy="197.4" rx="8.4" ry="4.9"/><ellipse cx="317.6" cy="203.3" rx="7.0" ry="4.0"/><ellipse cx="319.3" cy="208.6" rx="7.9" ry="4.2"/><ellipse cx="318.2" cy="213.5" rx="6.4" ry="4.4"/><ellipse cx="316.8" cy="219.0" rx="7.4" ry="4.7"/><ellipse cx="319.4" cy="223.9" rx="6.3" ry="3.7"/><ellipse cx="317.3" cy="229.6" rx="9.4" ry="5.4"/><ellipse cx="317.7" cy="234.4" rx="7.2" ry="4.2"/><ellipse cx="318.3" cy="238.6" rx="9.0" ry="5.3"/><ellipse cx="317.6" cy="243.5" rx="7.3" ry="4.5"/><ellipse cx="319.1" cy="249.3" rx="5.0" ry="3.6"/><rect x="303.5" y="35.5" width="5.0" height="213.0" rx="2.5" ry="2.5"/><ellipse cx="306.2" cy="36.0" rx="2.6" ry="3.2"/><ellipse cx="306.2" cy="40.6" rx="2.5" ry="4.3"/><ellipse cx="306.1" cy="46.1" rx="2.9" ry="4.6"/><ellipse cx="306.0" cy="51.0" rx="4.8" ry="3.6"/><ellipse cx="305.5" cy="56.7" rx="4.6" ry="4.2"/><ellipse cx="305.4" cy="61.9" rx="3.1" ry="4.8"/><ellipse cx="306.2" cy="67.2" rx="4.5" ry="4.3"/><ellipse cx="305.5" cy="71.8" rx="4.5" ry="3.8"/><ellipse cx="306.3" cy="76.5" rx="4.0" ry="3.8"/><ellipse cx="306.3" cy="80.9" rx="4.5" ry="4.1"/><ellipse cx="305.6" cy="87.1" rx="3.9" ry="5.1"/><ellipse cx="305.6" cy="91.9" rx="4.6" ry="4.3"/><ellipse cx="305.3" cy="97.8" rx="3.3" ry="3.6"/><ellipse cx="306.2" cy="102.8" rx="3.6" ry="5.0"/><ellipse cx="305.2" cy="107.0" rx="3.8" ry="3.8"/><ellipse cx="306.5" cy="111.7" rx="3.0" ry="5.0"/><ellipse cx="306.3" cy="117.3" rx="3.2" ry="3.6"/><ellipse cx="306.1" cy="122.7" rx="4.4" ry="3.9"/><ellipse cx="306.5" cy="129.1" rx="3.7" ry="3.9"/><ellipse cx="306.3" cy="133.8" rx="4.4" ry="4.9"/><ellipse cx="306.7" cy="139.3" rx="3.1" ry="5.2"/><ellipse cx="306.8" cy="145.5" rx="2.8" ry="3.9"/><ellipse cx="305.5" cy="151.7" rx="4.7" ry="4.6"/><ellipse cx="305.5" cy="156.5" rx="3.1" ry="4.0"/><ellipse cx="305.9" cy="162.7" rx="3.6" ry="4.3"/><ellipse cx="305.4" cy="168.4" rx="3.6" ry="4.8"/><ellipse cx="306.1" cy="173.2" rx="3.2" ry="3.8"/><ellipse cx="305.4" cy="179.6" rx="2.9" ry="4.4"/><ellipse cx="305.9" cy="185.9" rx="3.6" ry="5.4"/><ellipse cx="306.1" cy="190.6" rx="4.6" ry="4.7"/><ellipse cx="306.1" cy="196.4" rx="4.5" ry="3.0"/><ellipse cx="305.5" cy="200.5" rx="4.3" ry="3.8"/><ellipse cx="306.6" cy="206.5" rx="4.1" ry="4.5"/><ellipse cx="306.3" cy="212.8" rx="3.1" ry="3.8"/><ellipse cx="306.6" cy="218.6" rx="3.6" ry="3.7"/><ellipse cx="305.2" cy="223.1" rx="4.7" ry="3.2"/><ellipse cx="306.3" cy="227.6" rx="3.7" ry="3.1"/><ellipse cx="305.5" cy="232.1" rx="3.8" ry="3.3"/><ellipse cx="306.5" cy="237.6" rx="3.3" ry="4.1"/><ellipse cx="306.6" cy="242.2" rx="2.6" ry="4.4"/><ellipse cx="305.6" cy="246.7" rx="3.5" ry="4.7"/><rect x="324.6" y="39.5" width="3.7" height="19.0" rx="1.9" ry="1.9"/><ellipse cx="326.7" cy="40.0" rx="2.4" ry="3.2"/><ellipse cx="326.6" cy="45.8" rx="2.4" ry="3.1"/><ellipse cx="326.2" cy="50.4" rx="2.9" ry="4.9"/><ellipse cx="326.3" cy="56.6" rx="1.8" ry="4.6"/><rect x="323.7" y="131.5" width="5.6" height="119.0" rx="2.8" ry="2.8"/><ellipse cx="326.8" cy="132.0" rx="2.8" ry="4.6"/><ellipse cx="326.8" cy="136.2" rx="2.8" ry="3.6"/><ellipse cx="326.2" cy="142.0" rx="4.6" ry="4.8"/><ellipse cx="327.1" cy="147.2" rx="3.5" ry="4.1"/><ellipse cx="327.2" cy="151.6" rx="4.8" ry="3.7"/><ellipse cx="327.2" cy="155.8" rx="3.7" ry="4.9"/><ellipse cx="326.1" cy="160.0" rx="3.8" ry="5.5"/><ellipse cx="326.1" cy="166.1" rx="3.5" ry="3.8"/><ellipse cx="326.6" cy="172.5" rx="4.2" ry="4.4"/><ellipse cx="325.6" cy="176.7" rx="4.8" ry="4.4"/><ellipse cx="326.1" cy="181.2" rx="4.3" ry="5.3"/><ellipse cx="327.3" cy="186.7" rx="3.3" ry="4.0"/><ellipse cx="327.1" cy="191.6" rx="4.0" ry="4.2"/><ellipse cx="327.4" cy="196.5" rx="4.2" ry="3.8"/><ellipse cx="326.7" cy="202.7" rx="5.2" ry="3.1"/><ellipse cx="327.3" cy="207.1" rx="4.7" ry="3.8"/><ellipse cx="327.0" cy="213.1" rx="4.2" ry="3.9"/><ellipse cx="325.9" cy="218.5" rx="3.3" ry="4.3"/><ellipse cx="326.6" cy="222.9" rx="4.7" ry="3.6"/><ellipse cx="325.9" cy="228.1" rx="3.5" ry="4.4"/><ellipse cx="326.6" cy="233.6" rx="3.6" ry="5.4"/><ellipse cx="327.0" cy="238.1" rx="5.4" ry="3.2"/><ellipse cx="326.2" cy="244.1" rx="3.0" ry="4.6"/><rect x="324.8" y="101.5" width="1.9" height="19.0" rx="0.9" ry="0.9"/><ellipse cx="325.5" cy="102.0" rx="1.1" ry="4.0"/><ellipse cx="325.8" cy="108.1" rx="1.3" ry="5.1"/><ellipse cx="325.9" cy="113.9" rx="1.1" ry="3.0"/><ellipse cx="325.8" cy="118.6" rx="1.2" ry="4.0"/><rect x="333.9" y="63.5" width="9.3" height="189.0" rx="4.7" ry="4.7"/><ellipse cx="338.3" cy="64.0" rx="4.1" ry="4.0"/><ellipse cx="338.4" cy="69.0" rx="7.2" ry="3.9"/><ellipse cx="338.4" cy="74.6" rx="6.4" ry="3.5"/><ellipse cx="338.1" cy="80.1" rx="8.2" ry="4.1"/><ellipse cx="339.5" cy="84.7" rx="7.0" ry="3.8"/><ellipse cx="339.7" cy="90.5" rx="8.9" ry="3.5"/><ellipse cx="339.0" cy="96.1" rx="8.5" ry="4.3"/><ellipse cx="339.5" cy="101.6" rx="7.2" ry="3.1"/><ellipse cx="338.3" cy="106.7" rx="6.7" ry="5.4"/><ellipse cx="338.9" cy="112.7" rx="6.0" ry="4.1"/><ellipse cx="338.6" cy="116.9" rx="7.6" ry="3.3"/><ellipse cx="339.6" cy="121.2" rx="5.3" ry="4.0"/><ellipse cx="337.7" cy="127.3" rx="6.6" ry="3.2"/><ellipse cx="339.6" cy="133.0" rx="7.3" ry="4.3"/><ellipse cx="337.7" cy="138.4" rx="8.0" ry="4.4"/><ellipse cx="339.7" cy="144.3" rx="7.6" ry="5.3"/><ellipse cx="337.2" cy="149.1" rx="7.4" ry="3.8"/><ellipse cx="339.8" cy="154.4" rx="7.5" ry="3.3"/><ellipse cx="338.0" cy="158.4" rx="5.3" ry="3.8"/><ellipse cx="338.9" cy="163.3" rx="5.8" ry="3.0"/><ellipse cx="339.1" cy="168.5" rx="6.6" ry="4.7"/><ellipse cx="338.5" cy="174.1" rx="6.4" ry="4.9"/><ellipse cx="339.5" cy="178.3" rx="7.1" ry="3.8"/><ellipse cx="338.2" cy="184.6" rx="6.3" ry="4.8"/><ellipse cx="338.1" cy="190.5" rx="8.8" ry="5.2"/><ellipse cx="339.5" cy="195.3" rx="7.1" ry="4.9"/><ellipse cx="338.6" cy="200.4" rx="6.7" ry="3.4"/><ellipse cx="337.4" cy="206.2" rx="8.9" ry="3.9"/><ellipse cx="339.6" cy="211.1" rx="5.9" ry="3.5"/><ellipse cx="337.1" cy="217.4" rx="7.3" ry="5.4"/><ellipse cx="338.0" cy="221.5" rx="8.8" ry="3.6"/><ellipse cx="339.4" cy="227.9" rx="5.4" ry="3.9"/><ellipse cx="339.1" cy="233.7" rx="7.3" ry="4.5"/><ellipse cx="337.4" cy="238.2" rx="6.7" ry="3.9"/><ellipse cx="339.6" cy="243.7" rx="5.8" ry="4.4"/><ellipse cx="339.3" cy="247.9" rx="5.1" ry="3.9"/><rect x="336.1" y="35.5" width="2.7" height="15.0" rx="1.4" ry="1.4"/><ellipse cx="337.7" cy="36.0" rx="1.2" ry="4.9"/><ellipse cx="337.4" cy="41.2" rx="1.8" ry="5.4"/><ellipse cx="337.2" cy="46.0" rx="1.9" ry="3.5"/><rect x="347.2" y="42.5" width="8.7" height="207.0" rx="4.3" ry="4.3"/><ellipse cx="350.7" cy="43.0" rx="5.4" ry="4.3"/><ellipse cx="351.2" cy="47.4" rx="6.3" ry="5.3"/><ellipse cx="350.3" cy="51.6" rx="5.6" ry="3.8"/><ellipse cx="352.8" cy="56.4" rx="7.5" ry="4.0"/><ellipse cx="350.6" cy="61.1" rx="5.6" ry="3.6"/><ellipse cx="351.3" cy="66.9" rx="5.5" ry="4.4"/><ellipse cx="352.5" cy="71.8" rx="7.5" ry="4.2"/><ellipse cx="352.9" cy="77.9" rx="7.5" ry="4.2"/><ellipse cx="350.5" cy="84.3" rx="7.9" ry="4.3"/><ellipse cx="351.7" cy="89.5" rx="6.5" ry="4.2"/><ellipse cx="352.4" cy="95.8" rx="6.3" ry="3.8"/><ellipse cx="350.1" cy="101.1" rx="8.1" ry="4.4"/><ellipse cx="351.1" cy="106.2" rx="6.7" ry="5.0"/><ellipse cx="350.5" cy="110.5" rx="7.0" ry="4.7"/><ellipse cx="352.3" cy="114.5" rx="6.8" ry="4.3"/><ellipse cx="351.0" cy="120.0" rx="7.4" ry="3.1"/><ellipse cx="350.9" cy="125.8" rx="7.7" ry="4.7"/><ellipse cx="351.1" cy="130.9" rx="6.5" ry="4.1"/><ellipse cx="350.7" cy="135.0" rx="6.4" ry="3.5"/><ellipse cx="350.7" cy="140.4" rx="7.1" ry="3.9"/><ellipse cx="352.2" cy="145.9" rx="8.2" ry="4.4"/><ellipse cx="350.2" cy="152.1" rx="6.8" ry="4.3"/><ellipse cx="351.3" cy="157.3" rx="5.1" ry="4.1"/><ellipse cx="350.3" cy="162.5" rx="8.4" ry="4.2"/><ellipse cx="351.3" cy="167.9" rx="6.1" ry="3.8"/><ellipse cx="350.9" cy="174.1" rx="5.5" ry="5.2"/><ellipse cx="350.8" cy="179.6" rx="7.0" ry="4.7"/><ellipse cx="352.7" cy="185.3" rx="6.5" ry="4.2"/><ellipse cx="352.0" cy="190.0" rx="7.3" ry="5.1"/><ellipse cx="351.7" cy="194.9" rx="7.3" ry="3.8"/><ellipse cx="350.2" cy="199.0" rx="7.3" ry="3.3"/><ellipse cx="350.9" cy="204.3" rx="7.3" ry="3.3"/><ellipse cx="350.2" cy="209.8" rx="7.8" ry="3.9"/><ellipse cx="350.3" cy="216.2" rx="4.9" ry="4.8"/><ellipse cx="350.1" cy="221.4" rx="6.1" ry="5.2"/><ellipse cx="352.3" cy="227.4" rx="5.7" ry="3.4"/><ellipse cx="350.2" cy="232.9" rx="7.8" ry="5.2"/><ellipse cx="352.3" cy="238.5" rx="6.9" ry="5.0"/><ellipse cx="352.0" cy="244.2" rx="6.9" ry="4.3"/><ellipse cx="351.9" cy="248.9" rx="5.5" ry="4.4"/><rect x="363.9" y="44.5" width="11.2" height="197.0" rx="5.6" ry="5.6"/><ellipse cx="369.9" cy="45.0" rx="6.6" ry="4.3"/><ellipse cx="369.8" cy="49.0" rx="5.5" ry="4.9"/><ellipse cx="370.0" cy="54.3" rx="10.1" ry="5.1"/><ellipse cx="370.7" cy="59.5" rx="7.6" ry="3.3"/><ellipse cx="368.4" cy="64.4" rx="8.1" ry="5.0"/><ellipse cx="369.8" cy="69.6" rx="10.3" ry="5.3"/><ellipse cx="368.9" cy="74.1" rx="8.1" ry="5.5"/><ellipse cx="369.1" cy="78.8" rx="6.5" ry="3.6"/><ellipse cx="369.6" cy="83.8" rx="9.5" ry="5.2"/><ellipse cx="371.2" cy="90.2" rx="8.7" ry="3.5"/><ellipse cx="368.3" cy="94.3" rx="7.0" ry="3.4"/><ellipse cx="369.0" cy="99.5" rx="10.7" ry="4.5"/><ellipse cx="370.0" cy="105.8" rx="6.7" ry="3.5"/><ellipse cx="369.5" cy="111.9" rx="7.8" ry="4.6"/><ellipse cx="369.9" cy="118.2" rx="10.4" ry="3.8"/><ellipse cx="370.0" cy="122.8" rx="9.0" ry="3.4"/><ellipse cx="370.2" cy="128.2" rx="8.2" ry="3.6"/><ellipse cx="368.4" cy="133.4" rx="9.3" ry="3.2"/><ellipse cx="370.4" cy="139.6" rx="8.7" ry="3.9"/><ellipse cx="371.2" cy="145.0" rx="8.6" ry="3.3"/><ellipse cx="370.0" cy="150.2" rx="10.3" ry="3.2"/><ellipse cx="370.2" cy="155.0" rx="7.3" ry="5.3"/><ellipse cx="369.8" cy="159.8" rx="7.3" ry="3.5"/><ellipse cx="369.7" cy="165.7" rx="10.5" ry="3.8"/><ellipse cx="370.4" cy="170.8" rx="8.8" ry="4.6"/><ellipse cx="370.6" cy="177.1" rx="6.5" ry="5.1"/><ellipse cx="368.4" cy="181.6" rx="6.5" ry="4.8"/><ellipse cx="369.9" cy="186.5" rx="9.2" ry="3.5"/><ellipse cx="369.7" cy="192.1" rx="6.6" ry="5.4"/><ellipse cx="370.4" cy="196.4" rx="8.1" ry="3.7"/><ellipse cx="369.1" cy="202.2" rx="9.8" ry="4.3"/><ellipse cx="370.4" cy="207.0" rx="10.3" ry="4.1"/><ellipse cx="368.8" cy="212.2" rx="8.2" ry="4.0"/><ellipse cx="368.5" cy="217.5" rx="10.5" ry="3.0"/><ellipse cx="369.5" cy="222.1" rx="6.7" ry="5.2"/><ellipse cx="368.4" cy="226.7" rx="7.2" ry="3.4"/><ellipse cx="370.1" cy="231.7" rx="10.5" ry="5.2"/><ellipse cx="369.0" cy="236.4" rx="6.4" ry="3.8"/><rect x="381.3" y="49.5" width="4.5" height="33.0" rx="2.2" ry="2.2"/><ellipse cx="382.9" cy="50.0" rx="2.9" ry="4.7"/><ellipse cx="383.9" cy="54.3" rx="2.4" ry="3.8"/><ellipse cx="383.4" cy="60.4" rx="2.6" ry="3.5"/><ellipse cx="383.5" cy="64.9" rx="4.2" ry="4.5"/><ellipse cx="384.2" cy="70.3" rx="2.7" ry="4.6"/><ellipse cx="383.5" cy="74.6" rx="3.5" ry="3.8"/><ellipse cx="383.3" cy="78.7" rx="3.0" ry="3.7"/><rect x="378.3" y="121.5" width="7.4" height="103.0" rx="3.7" ry="3.7"/><ellipse cx="381.1" cy="122.0" rx="3.9" ry="3.1"/><ellipse cx="381.3" cy="127.9" rx="5.8" ry="4.8"/><ellipse cx="380.8" cy="133.0" rx="6.3" ry="3.5"/><ellipse cx="382.5" cy="139.1" rx="6.7" ry="5.4"/><ellipse cx="382.0" cy="144.6" rx="5.9" ry="4.1"/><ellipse cx="381.0" cy="149.5" rx="4.6" ry="4.4"/><ellipse cx="383.0" cy="154.2" rx="6.0" ry="5.4"/><ellipse cx="382.3" cy="160.0" rx="5.7" ry="4.9"/><ellipse cx="381.8" cy="164.1" rx="4.2" ry="3.2"/><ellipse cx="383.1" cy="168.2" rx="4.5" ry="3.4"/><ellipse cx="382.3" cy="172.9" rx="6.6" ry="3.6"/><ellipse cx="381.2" cy="177.8" rx="6.9" ry="3.7"/><ellipse cx="382.5" cy="181.9" rx="6.3" ry="4.0"/><ellipse cx="382.5" cy="186.1" rx="5.9" ry="4.1"/><ellipse cx="382.0" cy="191.8" rx="6.5" ry="4.1"/><ellipse cx="382.4" cy="196.1" rx="4.6" ry="3.4"/><ellipse cx="382.8" cy="200.2" rx="7.2" ry="3.6"/><ellipse cx="381.3" cy="205.4" rx="5.3" ry="3.2"/><ellipse cx="381.1" cy="210.1" rx="6.8" ry="4.3"/><ellipse cx="382.0" cy="215.7" rx="4.6" ry="3.3"/><ellipse cx="383.0" cy="221.7" rx="4.7" ry="3.7"/><rect x="358.1" y="121.5" width="3.7" height="122.0" rx="1.9" ry="1.9"/><ellipse cx="359.4" cy="122.0" rx="1.8" ry="3.8"/><ellipse cx="359.5" cy="128.0" rx="3.0" ry="3.0"/><ellipse cx="359.6" cy="132.4" rx="2.5" ry="3.6"/><ellipse cx="359.5" cy="137.4" rx="2.2" ry="3.2"/><ellipse cx="360.1" cy="142.1" rx="3.1" ry="3.2"/><ellipse cx="359.6" cy="148.2" rx="3.1" ry="3.1"/><ellipse cx="360.5" cy="154.7" rx="2.5" ry="3.4"/><ellipse cx="359.4" cy="160.9" rx="2.1" ry="5.1"/><ellipse cx="359.6" cy="164.9" rx="3.5" ry="4.3"/><ellipse cx="360.5" cy="169.7" rx="2.9" ry="4.2"/><ellipse cx="359.9" cy="174.4" rx="3.1" ry="3.9"/><ellipse cx="359.8" cy="179.2" rx="2.4" ry="4.4"/><ellipse cx="360.2" cy="185.7" rx="2.4" ry="3.2"/><ellipse cx="359.6" cy="190.4" rx="3.1" ry="4.3"/><ellipse cx="360.1" cy="194.8" rx="3.2" ry="3.6"/><ellipse cx="359.6" cy="201.3" rx="2.8" ry="3.9"/><ellipse cx="359.6" cy="207.7" rx="3.1" ry="4.7"/><ellipse cx="359.6" cy="213.7" rx="2.3" ry="5.1"/><ellipse cx="360.5" cy="219.9" rx="3.2" ry="4.3"/><ellipse cx="360.2" cy="225.9" rx="2.4" ry="3.4"/><ellipse cx="359.8" cy="231.4" rx="3.2" ry="5.2"/><ellipse cx="360.6" cy="237.0" rx="3.3" ry="4.5"/><ellipse cx="360.0" cy="242.2" rx="2.2" ry="4.1"/><rect x="329.1" y="131.5" width="3.7" height="119.0" rx="1.9" ry="1.9"/><ellipse cx="331.0" cy="132.0" rx="1.6" ry="3.5"/><ellipse cx="330.6" cy="137.0" rx="2.8" ry="4.3"/><ellipse cx="330.8" cy="141.7" rx="2.6" ry="5.0"/><ellipse cx="330.6" cy="147.9" rx="2.7" ry="3.0"/><ellipse cx="331.0" cy="154.4" rx="3.5" ry="5.3"/><ellipse cx="331.3" cy="159.8" rx="3.2" ry="4.5"/><ellipse cx="331.3" cy="166.0" rx="2.2" ry="4.5"/><ellipse cx="331.5" cy="171.0" rx="3.2" ry="4.3"/><ellipse cx="330.4" cy="176.7" rx="3.6" ry="4.6"/><ellipse cx="330.7" cy="182.5" rx="2.9" ry="3.2"/><ellipse cx="331.5" cy="187.4" rx="2.6" ry="5.1"/><ellipse cx="331.1" cy="193.0" rx="3.0" ry="5.3"/><ellipse cx="330.5" cy="198.4" rx="2.1" ry="5.3"/><ellipse cx="330.6" cy="202.9" rx="3.5" ry="5.2"/><ellipse cx="330.7" cy="207.6" rx="2.4" ry="4.2"/><ellipse cx="331.1" cy="212.1" rx="2.3" ry="5.0"/><ellipse cx="330.4" cy="218.2" rx="2.7" ry="3.5"/><ellipse cx="330.6" cy="222.5" rx="3.0" ry="4.1"/><ellipse cx="331.0" cy="228.8" rx="3.6" ry="4.4"/><ellipse cx="331.1" cy="234.3" rx="3.1" ry="4.7"/><ellipse cx="331.3" cy="239.8" rx="3.2" ry="3.6"/><ellipse cx="330.7" cy="245.3" rx="2.3" ry="3.9"/><ellipse cx="331.1" cy="249.4" rx="2.4" ry="4.4"/><rect x="243.6" y="151.5" width="3.7" height="97.0" rx="1.9" ry="1.9"/><ellipse cx="245.6" cy="152.0" rx="1.5" ry="4.4"/><ellipse cx="245.9" cy="156.1" rx="3.0" ry="3.9"/><ellipse cx="245.1" cy="161.0" rx="2.2" ry="3.5"/><ellipse cx="245.9" cy="165.6" rx="2.6" ry="5.1"/><ellipse cx="245.8" cy="171.9" rx="2.6" ry="5.5"/><ellipse cx="245.6" cy="177.6" rx="3.3" ry="3.4"/><ellipse cx="245.5" cy="181.9" rx="2.5" ry="4.0"/><ellipse cx="245.7" cy="186.5" rx="2.1" ry="3.5"/><ellipse cx="245.8" cy="191.2" rx="3.1" ry="3.8"/><ellipse cx="245.2" cy="196.2" rx="2.3" ry="5.4"/><ellipse cx="245.8" cy="202.2" rx="2.3" ry="4.0"/><ellipse cx="245.8" cy="206.4" rx="2.6" ry="5.2"/><ellipse cx="245.9" cy="211.4" rx="2.5" ry="4.3"/><ellipse cx="245.8" cy="216.3" rx="3.5" ry="3.3"/><ellipse cx="245.1" cy="221.1" rx="2.7" ry="4.1"/><ellipse cx="245.1" cy="227.0" rx="3.3" ry="4.9"/><ellipse cx="245.8" cy="232.0" rx="2.2" ry="4.7"/><ellipse cx="246.0" cy="236.8" rx="2.6" ry="3.0"/><ellipse cx="245.4" cy="241.7" rx="2.1" ry="3.8"/><ellipse cx="245.9" cy="246.0" rx="2.3" ry="3.0"/><rect x="248.1" y="41.5" width="3.7" height="207.0" rx="1.9" ry="1.9"/><ellipse cx="250.0" cy="42.0" rx="1.9" ry="5.3"/><ellipse cx="249.9" cy="47.2" rx="2.5" ry="5.2"/><ellipse cx="249.9" cy="51.9" rx="3.0" ry="4.3"/><ellipse cx="249.5" cy="58.2" rx="2.8" ry="3.1"/><ellipse cx="249.8" cy="63.1" rx="3.6" ry="5.1"/><ellipse cx="249.4" cy="68.7" rx="2.2" ry="3.6"/><ellipse cx="250.3" cy="74.2" rx="3.3" ry="4.4"/><ellipse cx="249.7" cy="78.7" rx="3.2" ry="3.2"/><ellipse cx="249.6" cy="84.7" rx="3.3" ry="4.4"/><ellipse cx="250.0" cy="89.6" rx="2.3" ry="5.2"/><ellipse cx="250.2" cy="94.7" rx="2.4" ry="5.3"/><ellipse cx="249.6" cy="99.1" rx="2.6" ry="4.1"/><ellipse cx="250.5" cy="104.9" rx="3.2" ry="4.1"/><ellipse cx="249.9" cy="109.2" rx="3.5" ry="5.3"/><ellipse cx="249.6" cy="113.3" rx="2.3" ry="3.6"/><ellipse cx="250.5" cy="118.0" rx="2.2" ry="4.4"/><ellipse cx="250.1" cy="123.2" rx="2.1" ry="3.6"/><ellipse cx="250.1" cy="129.2" rx="3.0" ry="5.1"/><ellipse cx="249.6" cy="133.2" rx="3.6" ry="4.0"/><ellipse cx="250.0" cy="139.3" rx="3.1" ry="4.6"/><ellipse cx="250.0" cy="144.3" rx="3.2" ry="4.9"/><ellipse cx="249.5" cy="148.3" rx="2.5" ry="4.1"/><ellipse cx="249.8" cy="153.6" rx="3.6" ry="4.0"/><ellipse cx="249.8" cy="159.7" rx="2.9" ry="3.4"/><ellipse cx="250.4" cy="163.8" rx="3.0" ry="3.2"/><ellipse cx="250.2" cy="167.9" rx="3.3" ry="3.5"/><ellipse cx="250.0" cy="173.6" rx="2.5" ry="4.3"/><ellipse cx="249.4" cy="177.7" rx="2.1" ry="5.1"/><ellipse cx="250.3" cy="183.1" rx="2.6" ry="3.2"/><ellipse cx="250.6" cy="188.1" rx="2.5" ry="4.7"/><ellipse cx="249.9" cy="192.3" rx="2.4" ry="4.5"/><ellipse cx="250.2" cy="197.0" rx="3.6" ry="3.0"/><ellipse cx="250.2" cy="203.0" rx="3.1" ry="3.0"/><ellipse cx="249.9" cy="207.5" rx="3.1" ry="3.2"/><ellipse cx="249.6" cy="212.4" rx="3.4" ry="5.3"/><ellipse cx="249.4" cy="218.3" rx="2.5" ry="3.1"/><ellipse cx="249.8" cy="224.0" rx="2.8" ry="3.5"/><ellipse cx="250.2" cy="228.5" rx="2.5" ry="4.9"/><ellipse cx="249.5" cy="234.0" rx="2.4" ry="5.3"/><ellipse cx="249.8" cy="239.9" rx="3.3" ry="3.9"/><ellipse cx="250.6" cy="244.1" rx="2.7" ry="5.3"/><rect x="268.1" y="73.5" width="3.7" height="175.0" rx="1.9" ry="1.9"/><ellipse cx="269.7" cy="74.0" rx="1.5" ry="3.5"/><ellipse cx="269.7" cy="78.7" rx="2.7" ry="5.0"/><ellipse cx="270.4" cy="84.4" rx="3.5" ry="3.9"/><ellipse cx="270.4" cy="88.7" rx="2.3" ry="4.4"/><ellipse cx="269.6" cy="95.1" rx="3.3" ry="4.8"/><ellipse cx="270.4" cy="100.0" rx="2.6" ry="5.5"/><ellipse cx="270.4" cy="105.2" rx="3.5" ry="5.2"/><ellipse cx="270.3" cy="111.5" rx="2.3" ry="3.9"/><ellipse cx="270.2" cy="117.7" rx="2.7" ry="4.1"/><ellipse cx="270.4" cy="124.1" rx="3.3" ry="3.3"/><ellipse cx="270.4" cy="129.8" rx="3.0" ry="5.0"/><ellipse cx="269.5" cy="135.3" rx="3.5" ry="5.2"/><ellipse cx="269.4" cy="140.8" rx="2.7" ry="5.4"/><ellipse cx="270.5" cy="145.8" rx="2.5" ry="4.5"/><ellipse cx="269.7" cy="149.8" rx="3.3" ry="3.7"/><ellipse cx="270.3" cy="154.3" rx="2.4" ry="3.8"/><ellipse cx="270.4" cy="160.5" rx="3.4" ry="3.6"/><ellipse cx="269.7" cy="165.5" rx="3.4" ry="4.0"/><ellipse cx="269.7" cy="171.2" rx="3.0" ry="5.4"/><ellipse cx="269.6" cy="176.5" rx="2.8" ry="4.4"/><ellipse cx="270.2" cy="180.6" rx="2.1" ry="5.1"/><ellipse cx="270.1" cy="185.3" rx="2.2" ry="3.8"/><ellipse cx="269.9" cy="189.8" rx="2.9" ry="3.4"/><ellipse cx="270.3" cy="194.6" rx="2.8" ry="3.6"/><ellipse cx="269.6" cy="201.0" rx="2.6" ry="4.3"/><ellipse cx="270.1" cy="206.9" rx="2.3" ry="3.5"/><ellipse cx="269.4" cy="212.1" rx="2.1" ry="3.1"/><ellipse cx="269.8" cy="216.8" rx="3.3" ry="5.1"/><ellipse cx="270.3" cy="223.1" rx="3.0" ry="4.1"/><ellipse cx="269.7" cy="227.4" rx="3.4" ry="3.5"/><ellipse cx="270.5" cy="233.3" rx="2.6" ry="4.1"/><ellipse cx="269.7" cy="238.9" rx="2.5" ry="3.2"/><ellipse cx="269.9" cy="245.2" rx="1.9" ry="4.6"/><rect x="286.6" y="37.5" width="3.7" height="211.0" rx="1.9" ry="1.9"/><ellipse cx="288.4" cy="38.0" rx="2.0" ry="3.0"/><ellipse cx="288.9" cy="42.9" rx="2.9" ry="5.1"/><ellipse cx="288.4" cy="48.6" rx="3.4" ry="5.3"/><ellipse cx="287.9" cy="54.4" rx="2.2" ry="3.5"/><ellipse cx="288.7" cy="59.5" rx="2.7" ry="3.7"/><ellipse cx="287.9" cy="63.6" rx="2.7" ry="4.7"/><ellipse cx="288.8" cy="68.8" rx="2.3" ry="4.9"/><ellipse cx="288.2" cy="75.0" rx="3.5" ry="3.6"/><ellipse cx="288.4" cy="80.0" rx="2.4" ry="4.7"/><ellipse cx="288.8" cy="85.6" rx="2.2" ry="3.8"/><ellipse cx="288.2" cy="91.4" rx="2.6" ry="3.5"/><ellipse cx="288.8" cy="96.7" rx="3.1" ry="5.1"/><ellipse cx="288.0" cy="102.3" rx="2.5" ry="4.0"/><ellipse cx="288.3" cy="108.0" rx="2.1" ry="3.9"/><ellipse cx="288.0" cy="114.3" rx="2.7" ry="4.6"/><ellipse cx="288.7" cy="120.2" rx="2.3" ry="4.4"/><ellipse cx="288.6" cy="126.1" rx="3.5" ry="3.5"/><ellipse cx="288.5" cy="132.6" rx="3.0" ry="3.6"/><ellipse cx="289.0" cy="137.0" rx="2.2" ry="3.3"/><ellipse cx="288.6" cy="143.4" rx="2.8" ry="3.1"/><ellipse cx="288.2" cy="148.8" rx="3.1" ry="4.5"/><ellipse cx="289.0" cy="152.8" rx="3.6" ry="4.8"/><ellipse cx="288.7" cy="159.3" rx="3.2" ry="3.7"/><ellipse cx="288.8" cy="163.4" rx="2.4" ry="4.1"/><ellipse cx="288.6" cy="168.0" rx="2.9" ry="4.4"/><ellipse cx="288.5" cy="174.3" rx="3.2" ry="3.3"/><ellipse cx="288.6" cy="178.6" rx="2.6" ry="5.3"/><ellipse cx="288.0" cy="183.3" rx="3.3" ry="3.3"/><ellipse cx="288.0" cy="189.1" rx="2.4" ry="5.4"/><ellipse cx="288.0" cy="193.9" rx="3.6" ry="3.3"/><ellipse cx="288.6" cy="198.3" rx="3.6" ry="3.1"/><ellipse cx="288.2" cy="202.5" rx="2.7" ry="3.0"/><ellipse cx="287.9" cy="208.6" rx="2.5" ry="5.0"/><ellipse cx="288.2" cy="213.3" rx="2.4" ry="3.4"/><ellipse cx="288.9" cy="219.0" rx="3.5" ry="4.1"/><ellipse cx="289.1" cy="224.2" rx="2.9" ry="4.2"/><ellipse cx="289.0" cy="229.2" rx="2.3" ry="4.1"/><ellipse cx="288.4" cy="235.2" rx="3.3" ry="4.7"/><ellipse cx="288.7" cy="241.3" rx="2.0" ry="3.5"/><ellipse cx="288.6" cy="247.1" rx="2.1" ry="4.4"/><ellipse cx="292.0" cy="39.3" rx="4.0" ry="4.0"/><ellipse cx="257.8" cy="51.5" rx="6.2" ry="6.7"/><ellipse cx="257.7" cy="104.0" rx="6.2" ry="6.6"/><ellipse cx="283.0" cy="64.0" rx="4.8" ry="4.9"/><ellipse cx="369.9" cy="84.0" rx="5.4" ry="5.8"/><ellipse cx="259.6" cy="171.6" rx="6.4" ry="7.2"/><ellipse cx="274.7" cy="201.0" rx="6.4" ry="7.4"/><ellipse cx="304.0" cy="169.6" rx="6.8" ry="12.4"/><ellipse cx="314.4" cy="174.8" rx="5.8" ry="8.4"/><ellipse cx="319.5" cy="137.6" rx="6.0" ry="7.0"/><ellipse cx="305.4" cy="196.0" rx="6.0" ry="7.4"/><ellipse cx="317.5" cy="189.0" rx="6.0" ry="7.4"/><ellipse cx="249.0" cy="195.7" rx="5.0" ry="5.4"/><ellipse cx="350.0" cy="157.7" rx="5.4" ry="7.0"/><ellipse cx="370.8" cy="148.8" rx="4.7" ry="4.7"/><ellipse cx="369.6" cy="171.9" rx="6.2" ry="9.6"/><ellipse cx="352.8" cy="187.4" rx="5.8" ry="7.8"/><ellipse cx="339.0" cy="202.0" rx="5.6" ry="6.4"/><ellipse cx="352.8" cy="206.0" rx="5.8" ry="7.4"/><ellipse cx="370.2" cy="204.8" rx="5.6" ry="7.0"/><ellipse cx="248.6" cy="217.0" rx="5.2" ry="6.0"/><ellipse cx="260.7" cy="206.0" rx="6.8" ry="8.0"/><ellipse cx="260.7" cy="226.0" rx="6.8" ry="8.0"/><ellipse cx="274.7" cy="221.0" rx="5.4" ry="6.9"/><ellipse cx="304.4" cy="202.0" rx="5.8" ry="7.4"/><ellipse cx="304.4" cy="227.0" rx="6.2" ry="7.4"/><ellipse cx="314.4" cy="222.0" rx="5.2" ry="6.9"/><ellipse cx="257.3" cy="239.6" rx="6.0" ry="6.0"/><ellipse cx="315.6" cy="195.0" rx="5.8" ry="6.8"/><ellipse cx="352.0" cy="214.0" rx="5.0" ry="5.0"/><ellipse cx="316.0" cy="224.0" rx="5.4" ry="6.4"/><rect x="257.3" y="251.5" width="7.4" height="42.0" rx="3.7" ry="3.7"/><ellipse cx="259.8" cy="252.0" rx="4.6" ry="4.4"/><ellipse cx="261.4" cy="256.6" rx="4.7" ry="4.3"/><ellipse cx="261.7" cy="261.0" rx="5.7" ry="4.5"/><ellipse cx="262.0" cy="266.6" rx="5.1" ry="4.7"/><ellipse cx="261.8" cy="271.5" rx="5.2" ry="4.5"/><ellipse cx="262.0" cy="277.3" rx="7.0" ry="4.4"/><ellipse cx="260.4" cy="282.3" rx="5.2" ry="3.7"/><ellipse cx="260.7" cy="287.0" rx="6.0" ry="3.3"/><ellipse cx="260.0" cy="279.4" rx="5.6" ry="6.0"/><rect x="275.5" y="256.5" width="5.0" height="38.0" rx="2.5" ry="2.5"/><ellipse cx="278.7" cy="257.0" rx="2.5" ry="4.6"/><ellipse cx="277.7" cy="263.0" rx="3.4" ry="3.0"/><ellipse cx="278.7" cy="269.0" rx="3.5" ry="3.8"/><ellipse cx="277.2" cy="274.4" rx="3.3" ry="3.8"/><ellipse cx="278.7" cy="278.9" rx="4.3" ry="3.5"/><ellipse cx="278.8" cy="283.9" rx="2.8" ry="3.2"/><ellipse cx="278.0" cy="290.1" rx="3.5" ry="5.2"/><rect x="282.6" y="253.5" width="3.7" height="17.0" rx="1.9" ry="1.9"/><ellipse cx="284.4" cy="254.0" rx="2.3" ry="4.8"/><ellipse cx="284.9" cy="259.5" rx="3.1" ry="3.7"/><ellipse cx="284.3" cy="264.7" rx="3.2" ry="4.6"/><ellipse cx="290.8" cy="267.7" rx="2.0" ry="3.0"/><ellipse cx="306.0" cy="286.0" rx="6.5" ry="6.5"/><rect x="303.1" y="256.5" width="3.7" height="22.0" rx="1.9" ry="1.9"/><ellipse cx="304.5" cy="257.0" rx="2.0" ry="5.2"/><ellipse cx="304.5" cy="261.5" rx="2.3" ry="3.2"/><ellipse cx="304.5" cy="267.3" rx="2.1" ry="3.4"/><ellipse cx="304.8" cy="271.4" rx="2.0" ry="5.1"/><ellipse cx="304.4" cy="277.5" rx="1.8" ry="5.1"/><ellipse cx="325.3" cy="287.5" rx="5.0" ry="8.0"/><rect x="336.9" y="255.5" width="3.7" height="33.0" rx="1.9" ry="1.9"/><ellipse cx="339.0" cy="256.0" rx="2.4" ry="4.6"/><ellipse cx="338.9" cy="261.9" rx="2.9" ry="4.5"/><ellipse cx="339.3" cy="266.2" rx="3.2" ry="3.6"/><ellipse cx="338.9" cy="270.6" rx="2.6" ry="3.5"/><ellipse cx="338.8" cy="276.8" rx="3.5" ry="3.4"/><ellipse cx="338.7" cy="280.9" rx="2.5" ry="4.3"/><ellipse cx="338.9" cy="287.2" rx="1.8" ry="3.1"/><rect x="337.8" y="289.5" width="2.0" height="14.0" rx="1.0" ry="1.0"/><ellipse cx="338.6" cy="290.0" rx="1.1" ry="3.8"/><ellipse cx="338.8" cy="295.4" rx="1.4" ry="5.2"/><ellipse cx="338.5" cy="300.4" rx="1.3" ry="3.3"/><polygon points="355,258 364,272 355,288 346,272"/><ellipse cx="355.0" cy="272.0" rx="5.8" ry="6.6"/><ellipse cx="369.4" cy="270.0" rx="3.0" ry="4.5"/></g><g opacity="0.3"><rect x="194.7" y="64.6" width="1.6" height="35.8" rx="0.8" ry="0.8"/><ellipse cx="195.5" cy="72.9" rx="1.6" ry="4.6"/><ellipse cx="195.9" cy="81.2" rx="1.2" ry="4.5"/><ellipse cx="195.6" cy="88.4" rx="1.4" ry="4.9"/><ellipse cx="196.1" cy="93.6" rx="1.7" ry="2.9"/><ellipse cx="195.1" cy="99.5" rx="1.3" ry="2.6"/><rect x="203.2" y="74.5" width="1.5" height="28.0" rx="0.8" ry="0.8"/><ellipse cx="204.0" cy="75.0" rx="1.1" ry="4.0"/><ellipse cx="204.0" cy="83.2" rx="1.3" ry="4.5"/><ellipse cx="203.7" cy="92.0" rx="1.6" ry="2.6"/><ellipse cx="203.6" cy="98.3" rx="1.5" ry="3.8"/><rect x="211.2" y="61.4" width="2.4" height="24.2" rx="1.2" ry="1.2"/><ellipse cx="212.8" cy="67.8" rx="2.1" ry="3.2"/><ellipse cx="213.1" cy="81.0" rx="2.4" ry="4.6"/><ellipse cx="212.4" cy="98.5" rx="2.2" ry="2.7"/><rect x="221.2" y="79.6" width="2.6" height="55.9" rx="1.3" ry="1.3"/><ellipse cx="221.7" cy="79.0" rx="2.2" ry="2.6"/><ellipse cx="223.0" cy="111.8" rx="2.6" ry="3.9"/><ellipse cx="222.9" cy="117.7" rx="2.4" ry="3.9"/><ellipse cx="222.9" cy="132.6" rx="2.1" ry="2.8"/><rect x="228.0" y="93.9" width="1.9" height="27.2" rx="1.0" ry="1.0"/><ellipse cx="229.1" cy="94.0" rx="1.2" ry="3.9"/><ellipse cx="229.2" cy="108.5" rx="1.5" ry="3.2"/><ellipse cx="229.3" cy="114.3" rx="1.6" ry="4.1"/><rect x="160.0" y="89.4" width="1.4" height="20.3" rx="0.7" ry="0.7"/><ellipse cx="160.8" cy="98.0" rx="1.4" ry="2.9"/><ellipse cx="160.9" cy="103.0" rx="1.5" ry="3.5"/><rect x="149.8" y="108.1" width="2.1" height="21.8" rx="1.0" ry="1.0"/><ellipse cx="150.3" cy="121.7" rx="1.3" ry="4.3"/><rect x="183.7" y="106.4" width="2.4" height="23.2" rx="1.2" ry="1.2"/><ellipse cx="185.7" cy="114.7" rx="2.6" ry="4.5"/><ellipse cx="184.1" cy="128.9" rx="2.0" ry="3.9"/><rect x="150.1" y="164.7" width="2.7" height="24.6" rx="1.4" ry="1.4"/><ellipse cx="152.1" cy="171.6" rx="2.0" ry="4.2"/><rect x="161.3" y="160.3" width="1.4" height="39.4" rx="0.7" ry="0.7"/><ellipse cx="162.4" cy="161.0" rx="1.3" ry="4.5"/><ellipse cx="161.6" cy="169.2" rx="1.2" ry="4.6"/><ellipse cx="162.4" cy="174.6" rx="1.4" ry="3.2"/><ellipse cx="162.3" cy="182.9" rx="1.0" ry="4.0"/><rect x="183.2" y="164.6" width="2.6" height="27.9" rx="1.3" ry="1.3"/><ellipse cx="184.1" cy="171.6" rx="1.6" ry="2.8"/><ellipse cx="183.6" cy="183.9" rx="2.4" ry="3.6"/><ellipse cx="184.1" cy="190.2" rx="2.1" ry="3.0"/><ellipse cx="194.8" cy="150.9" rx="3.0" ry="4.2"/><ellipse cx="210.7" cy="151.0" rx="3.3" ry="3.9"/><ellipse cx="222.6" cy="148.0" rx="3.0" ry="4.2"/><rect x="193.3" y="145.0" width="3.0" height="141.9" rx="1.5" ry="1.5"/><ellipse cx="195.2" cy="192.2" rx="2.1" ry="3.6"/><ellipse cx="195.8" cy="215.6" rx="3.0" ry="4.8"/><ellipse cx="195.8" cy="233.3" rx="2.5" ry="4.9"/><ellipse cx="194.4" cy="240.8" rx="2.3" ry="2.5"/><ellipse cx="194.2" cy="246.9" rx="3.2" ry="3.0"/><ellipse cx="195.3" cy="255.8" rx="2.1" ry="3.0"/><rect x="208.3" y="150.4" width="3.4" height="134.3" rx="1.7" ry="1.7"/><ellipse cx="210.9" cy="157.9" rx="3.5" ry="3.1"/><ellipse cx="210.8" cy="164.0" rx="3.3" ry="4.5"/><ellipse cx="209.4" cy="170.1" rx="3.4" ry="2.5"/><ellipse cx="209.6" cy="176.3" rx="3.1" ry="2.9"/><ellipse cx="210.3" cy="190.5" rx="2.7" ry="4.3"/><ellipse cx="209.5" cy="202.5" rx="2.4" ry="4.6"/><ellipse cx="209.1" cy="208.7" rx="2.8" ry="4.9"/><ellipse cx="211.1" cy="217.5" rx="3.6" ry="4.5"/><ellipse cx="211.0" cy="224.5" rx="3.1" ry="3.3"/><ellipse cx="209.9" cy="230.1" rx="3.5" ry="3.7"/><ellipse cx="209.7" cy="238.7" rx="2.2" ry="4.2"/><ellipse cx="209.8" cy="247.4" rx="2.8" ry="3.5"/><ellipse cx="210.9" cy="253.7" rx="2.4" ry="3.8"/><ellipse cx="210.4" cy="261.1" rx="2.3" ry="4.1"/><ellipse cx="210.6" cy="283.2" rx="3.7" ry="2.7"/><rect x="221.3" y="149.4" width="3.4" height="137.3" rx="1.7" ry="1.7"/><ellipse cx="221.9" cy="156.9" rx="2.4" ry="4.7"/><ellipse cx="222.0" cy="177.4" rx="2.8" ry="4.1"/><ellipse cx="223.6" cy="191.1" rx="3.1" ry="4.3"/><ellipse cx="223.9" cy="198.4" rx="3.7" ry="4.9"/><ellipse cx="223.5" cy="204.2" rx="3.7" ry="3.1"/><ellipse cx="223.1" cy="211.4" rx="2.7" ry="4.0"/><ellipse cx="222.3" cy="225.1" rx="3.4" ry="3.1"/><ellipse cx="222.3" cy="233.8" rx="3.6" ry="4.9"/><ellipse cx="222.3" cy="240.2" rx="3.4" ry="3.6"/><ellipse cx="222.4" cy="252.9" rx="3.4" ry="4.8"/><ellipse cx="223.8" cy="266.5" rx="2.7" ry="2.9"/><ellipse cx="223.1" cy="278.9" rx="2.5" ry="4.8"/><ellipse cx="221.2" cy="174.0" rx="4.2" ry="4.8"/><ellipse cx="211.8" cy="193.3" rx="4.6" ry="5.2"/><ellipse cx="223.6" cy="217.2" rx="5.0" ry="6.0"/><ellipse cx="223.6" cy="267.4" rx="4.4" ry="4.9"/><ellipse cx="210.6" cy="193.0" rx="4.2" ry="4.8"/><ellipse cx="184.7" cy="129.7" rx="1.8" ry="2.1"/><polygon points="199,212 230,205 232,245 200,248"/><rect x="200.6" y="204.8" width="2.8" height="86.4" rx="1.4" ry="1.4"/><ellipse cx="201.9" cy="204.0" rx="2.2" ry="4.1"/><ellipse cx="202.9" cy="211.8" rx="2.7" ry="3.5"/><ellipse cx="201.1" cy="219.8" rx="2.6" ry="3.6"/><ellipse cx="202.2" cy="231.2" rx="2.1" ry="3.7"/><ellipse cx="201.5" cy="237.7" rx="2.9" ry="4.5"/><ellipse cx="201.6" cy="262.2" rx="3.0" ry="4.2"/><ellipse cx="201.3" cy="269.4" rx="1.8" ry="4.6"/><ellipse cx="201.3" cy="274.7" rx="2.5" ry="3.4"/><ellipse cx="202.7" cy="282.6" rx="1.9" ry="3.5"/><ellipse cx="202.5" cy="287.7" rx="2.7" ry="4.5"/><rect x="161.2" y="229.5" width="1.5" height="49.0" rx="0.8" ry="0.8"/><ellipse cx="161.5" cy="258.2" rx="1.2" ry="2.6"/><ellipse cx="151.0" cy="243.0" rx="3.5" ry="3.5"/><ellipse cx="151.0" cy="275.0" rx="4.1" ry="4.1"/><ellipse cx="185.0" cy="243.0" rx="4.1" ry="4.1"/><ellipse cx="185.0" cy="275.0" rx="4.5" ry="4.8"/><ellipse cx="193.0" cy="271.0" rx="1.9" ry="3.0"/><rect x="252.1" y="46.2" width="12.9" height="192.6" rx="6.4" ry="6.4"/><ellipse cx="260.0" cy="66.7" rx="8.1" ry="3.9"/><ellipse cx="261.0" cy="74.7" rx="10.6" ry="4.2"/><ellipse cx="259.3" cy="81.0" rx="8.4" ry="3.7"/><ellipse cx="258.4" cy="87.1" rx="13.7" ry="4.5"/><ellipse cx="256.0" cy="94.6" rx="13.1" ry="3.2"/><ellipse cx="256.8" cy="114.7" rx="13.6" ry="4.2"/><ellipse cx="259.6" cy="121.3" rx="13.7" ry="3.2"/><ellipse cx="257.4" cy="139.9" rx="10.1" ry="3.6"/><ellipse cx="258.0" cy="146.1" rx="10.2" ry="3.5"/><ellipse cx="256.3" cy="159.5" rx="12.8" ry="4.7"/><ellipse cx="257.1" cy="167.4" rx="12.5" ry="2.6"/><ellipse cx="260.0" cy="181.5" rx="9.1" ry="4.1"/><ellipse cx="257.3" cy="186.8" rx="13.7" ry="2.7"/><ellipse cx="261.6" cy="195.7" rx="8.5" ry="3.9"/><ellipse cx="258.3" cy="203.5" rx="13.6" ry="2.9"/><ellipse cx="256.6" cy="208.8" rx="11.5" ry="3.3"/><ellipse cx="255.1" cy="214.1" rx="8.8" ry="4.1"/><ellipse cx="260.3" cy="220.9" rx="8.7" ry="4.2"/><ellipse cx="257.5" cy="229.4" rx="8.3" ry="4.8"/><ellipse cx="261.2" cy="235.8" rx="10.3" ry="2.8"/><rect x="275.9" y="43.6" width="9.1" height="196.8" rx="4.6" ry="4.6"/><ellipse cx="281.0" cy="51.8" rx="8.4" ry="2.9"/><ellipse cx="278.3" cy="58.1" rx="8.9" ry="3.1"/><ellipse cx="281.3" cy="63.3" rx="8.9" ry="3.7"/><ellipse cx="278.6" cy="77.6" rx="7.9" ry="2.7"/><ellipse cx="281.1" cy="82.8" rx="8.3" ry="4.0"/><ellipse cx="280.5" cy="91.6" rx="6.0" ry="4.4"/><ellipse cx="280.7" cy="100.5" rx="6.9" ry="3.5"/><ellipse cx="280.0" cy="106.4" rx="6.9" ry="4.4"/><ellipse cx="282.2" cy="128.6" rx="6.5" ry="2.6"/><ellipse cx="279.8" cy="147.0" rx="9.0" ry="4.9"/><ellipse cx="282.5" cy="154.2" rx="9.3" ry="4.9"/><ellipse cx="279.0" cy="189.9" rx="7.9" ry="2.9"/><ellipse cx="279.1" cy="198.2" rx="6.3" ry="3.0"/><ellipse cx="282.7" cy="212.0" rx="8.0" ry="3.4"/><ellipse cx="278.7" cy="219.0" rx="6.2" ry="3.3"/><ellipse cx="279.3" cy="226.0" rx="6.3" ry="3.2"/><ellipse cx="280.6" cy="233.0" rx="8.0" ry="2.9"/><rect x="293.2" y="42.8" width="9.5" height="198.4" rx="4.8" ry="4.8"/><ellipse cx="300.1" cy="38.0" rx="8.3" ry="2.7"/><ellipse cx="299.3" cy="69.4" rx="9.6" ry="4.4"/><ellipse cx="297.5" cy="84.7" rx="9.7" ry="4.1"/><ellipse cx="295.9" cy="93.5" rx="7.7" ry="3.4"/><ellipse cx="296.9" cy="102.2" rx="9.0" ry="4.3"/><ellipse cx="296.5" cy="116.2" rx="10.3" ry="4.3"/><ellipse cx="299.5" cy="127.4" rx="8.2" ry="4.8"/><ellipse cx="296.1" cy="134.8" rx="8.5" ry="4.6"/><ellipse cx="300.1" cy="142.7" rx="8.8" ry="2.8"/><ellipse cx="298.4" cy="151.5" rx="8.9" ry="4.0"/><ellipse cx="295.9" cy="175.5" rx="10.0" ry="4.5"/><ellipse cx="295.5" cy="184.4" rx="9.9" ry="4.4"/><ellipse cx="297.6" cy="200.0" rx="6.7" ry="4.0"/><ellipse cx="297.3" cy="207.7" rx="9.0" ry="2.9"/><ellipse cx="297.5" cy="214.4" rx="6.3" ry="4.2"/><ellipse cx="299.7" cy="220.4" rx="9.5" ry="2.5"/><ellipse cx="299.3" cy="234.3" rx="6.6" ry="3.0"/><ellipse cx="299.8" cy="241.7" rx="9.4" ry="4.9"/><rect x="313.5" y="48.4" width="9.0" height="195.2" rx="4.5" ry="4.5"/><ellipse cx="317.2" cy="44.0" rx="7.9" ry="2.9"/><ellipse cx="317.2" cy="51.5" rx="6.4" ry="3.0"/><ellipse cx="317.7" cy="104.6" rx="7.8" ry="4.0"/><ellipse cx="317.5" cy="129.8" rx="6.4" ry="3.3"/><ellipse cx="316.1" cy="137.4" rx="9.4" ry="4.8"/><ellipse cx="317.4" cy="151.3" rx="6.3" ry="4.3"/><ellipse cx="318.4" cy="181.0" rx="9.5" ry="4.4"/><ellipse cx="316.3" cy="201.4" rx="6.9" ry="3.0"/><ellipse cx="318.3" cy="210.2" rx="8.1" ry="4.2"/><ellipse cx="318.0" cy="218.5" rx="7.7" ry="2.9"/><ellipse cx="317.7" cy="223.7" rx="8.2" ry="4.8"/><ellipse cx="316.9" cy="244.6" rx="6.5" ry="4.6"/><rect x="324.7" y="135.6" width="3.6" height="110.8" rx="1.8" ry="1.8"/><ellipse cx="327.1" cy="134.0" rx="4.0" ry="4.3"/><ellipse cx="325.3" cy="147.7" rx="2.8" ry="3.6"/><ellipse cx="326.4" cy="153.7" rx="2.6" ry="4.7"/><ellipse cx="325.3" cy="168.7" rx="2.8" ry="3.9"/><ellipse cx="325.6" cy="192.9" rx="2.3" ry="4.4"/><ellipse cx="325.5" cy="200.4" rx="2.3" ry="3.6"/><ellipse cx="326.4" cy="211.6" rx="3.4" ry="3.0"/><ellipse cx="326.2" cy="219.0" rx="2.7" ry="4.6"/><ellipse cx="326.4" cy="226.1" rx="3.8" ry="2.8"/><ellipse cx="327.4" cy="247.5" rx="3.5" ry="4.4"/><rect x="334.3" y="70.0" width="8.4" height="176.0" rx="4.2" ry="4.2"/><ellipse cx="339.9" cy="66.0" rx="6.8" ry="4.4"/><ellipse cx="339.9" cy="74.5" rx="7.4" ry="4.6"/><ellipse cx="337.8" cy="92.3" rx="7.0" ry="4.0"/><ellipse cx="339.6" cy="125.2" rx="9.1" ry="4.7"/><ellipse cx="336.4" cy="141.9" rx="5.7" ry="4.1"/><ellipse cx="340.0" cy="162.9" rx="7.7" ry="3.9"/><ellipse cx="338.1" cy="187.1" rx="8.1" ry="4.8"/><ellipse cx="337.5" cy="204.6" rx="6.6" ry="3.7"/><ellipse cx="340.7" cy="234.8" rx="7.4" ry="4.9"/><ellipse cx="340.1" cy="249.7" rx="6.2" ry="3.3"/><rect x="347.6" y="48.6" width="7.8" height="194.8" rx="3.9" ry="3.9"/><ellipse cx="350.4" cy="45.0" rx="6.3" ry="4.0"/><ellipse cx="352.2" cy="57.6" rx="5.5" ry="4.9"/><ellipse cx="353.5" cy="64.2" rx="5.3" ry="4.3"/><ellipse cx="351.6" cy="71.7" rx="8.1" ry="2.6"/><ellipse cx="353.2" cy="86.4" rx="7.9" ry="3.8"/><ellipse cx="352.5" cy="91.7" rx="7.5" ry="4.9"/><ellipse cx="351.2" cy="99.3" rx="8.6" ry="3.2"/><ellipse cx="353.4" cy="105.5" rx="5.8" ry="4.7"/><ellipse cx="350.5" cy="122.5" rx="7.9" ry="4.4"/><ellipse cx="352.1" cy="146.1" rx="5.6" ry="2.9"/><ellipse cx="352.1" cy="164.8" rx="8.8" ry="3.4"/><ellipse cx="352.2" cy="178.7" rx="5.0" ry="4.4"/><ellipse cx="351.9" cy="185.4" rx="8.8" ry="4.7"/><ellipse cx="351.9" cy="192.4" rx="5.7" ry="2.7"/><ellipse cx="351.7" cy="197.6" rx="8.1" ry="3.3"/><ellipse cx="350.7" cy="203.8" rx="6.6" ry="2.7"/><ellipse cx="351.9" cy="212.4" rx="7.1" ry="3.9"/><ellipse cx="352.5" cy="222.6" rx="7.5" ry="3.5"/><ellipse cx="350.2" cy="229.8" rx="8.2" ry="3.1"/><ellipse cx="351.2" cy="243.6" rx="7.4" ry="4.4"/><rect x="365.2" y="52.2" width="8.6" height="181.6" rx="4.3" ry="4.3"/><ellipse cx="371.0" cy="47.0" rx="7.5" ry="2.5"/><ellipse cx="370.6" cy="66.6" rx="8.3" ry="4.2"/><ellipse cx="366.9" cy="75.5" rx="6.4" ry="2.9"/><ellipse cx="369.7" cy="89.1" rx="9.5" ry="4.2"/><ellipse cx="370.2" cy="106.8" rx="5.5" ry="3.7"/><ellipse cx="368.1" cy="129.1" rx="9.2" ry="4.0"/><ellipse cx="368.9" cy="134.4" rx="5.6" ry="4.6"/><ellipse cx="370.1" cy="154.8" rx="7.1" ry="4.7"/><ellipse cx="370.7" cy="175.8" rx="6.5" ry="4.4"/><ellipse cx="369.8" cy="191.1" rx="7.4" ry="3.1"/><ellipse cx="369.9" cy="198.3" rx="5.6" ry="3.0"/><ellipse cx="368.9" cy="233.9" rx="7.7" ry="4.4"/><rect x="382.1" y="52.9" width="2.9" height="26.2" rx="1.4" ry="1.4"/><ellipse cx="382.8" cy="57.4" rx="3.2" ry="3.9"/><ellipse cx="383.5" cy="77.4" rx="2.2" ry="4.2"/><rect x="379.1" y="126.8" width="5.8" height="92.4" rx="2.9" ry="2.9"/><ellipse cx="381.3" cy="124.0" rx="5.8" ry="4.2"/><ellipse cx="383.7" cy="139.2" rx="3.9" ry="2.6"/><ellipse cx="382.9" cy="159.6" rx="6.3" ry="3.8"/><ellipse cx="382.7" cy="214.4" rx="4.7" ry="3.5"/><ellipse cx="382.2" cy="220.0" rx="4.8" ry="4.9"/><ellipse cx="292.0" cy="39.3" rx="2.4" ry="2.4"/><polygon points="246,186 335,186 336,232 322,244 300,246 250,246 245,230"/><ellipse cx="257.8" cy="51.5" rx="5.2" ry="5.7"/><ellipse cx="257.7" cy="104.0" rx="5.2" ry="5.6"/><ellipse cx="283.0" cy="64.0" rx="3.8" ry="3.9"/><ellipse cx="369.9" cy="84.0" rx="4.4" ry="4.8"/><ellipse cx="259.6" cy="171.6" rx="5.4" ry="6.2"/><ellipse cx="274.7" cy="201.0" rx="5.4" ry="6.4"/><ellipse cx="304.0" cy="169.6" rx="5.8" ry="11.4"/><ellipse cx="314.4" cy="174.8" rx="4.8" ry="7.4"/><ellipse cx="319.5" cy="137.6" rx="5.0" ry="6.0"/><ellipse cx="305.4" cy="196.0" rx="5.0" ry="6.4"/><ellipse cx="317.5" cy="189.0" rx="5.0" ry="6.4"/><ellipse cx="249.0" cy="195.7" rx="4.0" ry="4.4"/><ellipse cx="350.0" cy="157.7" rx="4.4" ry="6.0"/><ellipse cx="370.8" cy="148.8" rx="3.7" ry="3.7"/><ellipse cx="369.6" cy="171.9" rx="5.2" ry="8.6"/><ellipse cx="352.8" cy="187.4" rx="4.8" ry="6.8"/><ellipse cx="339.0" cy="202.0" rx="4.6" ry="5.4"/><ellipse cx="352.8" cy="206.0" rx="4.8" ry="6.4"/><ellipse cx="370.2" cy="204.8" rx="4.6" ry="6.0"/><ellipse cx="248.6" cy="217.0" rx="4.2" ry="5.0"/><ellipse cx="260.7" cy="206.0" rx="5.8" ry="7.0"/><ellipse cx="260.7" cy="226.0" rx="5.8" ry="7.0"/><ellipse cx="274.7" cy="221.0" rx="4.4" ry="5.9"/><ellipse cx="304.4" cy="202.0" rx="4.8" ry="6.4"/><ellipse cx="304.4" cy="227.0" rx="5.2" ry="6.4"/><ellipse cx="314.4" cy="222.0" rx="4.2" ry="5.9"/><ellipse cx="257.3" cy="239.6" rx="5.0" ry="5.0"/><ellipse cx="315.6" cy="195.0" rx="4.8" ry="5.8"/><ellipse cx="352.0" cy="214.0" rx="4.0" ry="4.0"/><ellipse cx="316.0" cy="224.0" rx="4.4" ry="5.4"/><rect x="258.6" y="256.8" width="4.8" height="31.4" rx="2.4" ry="2.4"/><ellipse cx="260.3" cy="254.0" rx="5.3" ry="4.7"/><ellipse cx="260.9" cy="271.7" rx="4.4" ry="4.5"/><ellipse cx="262.7" cy="285.1" rx="3.1" ry="5.0"/><ellipse cx="260.0" cy="279.4" rx="4.6" ry="5.0"/><rect x="276.4" y="260.2" width="3.2" height="30.6" rx="1.6" ry="1.6"/><ellipse cx="278.0" cy="259.0" rx="2.3" ry="3.6"/><ellipse cx="278.0" cy="267.8" rx="2.8" ry="3.8"/><ellipse cx="306.0" cy="286.0" rx="3.9" ry="3.9"/><ellipse cx="325.3" cy="287.5" rx="3.0" ry="4.8"/><rect x="337.6" y="258.4" width="2.4" height="27.2" rx="1.2" ry="1.2"/><ellipse cx="339.1" cy="258.0" rx="2.1" ry="2.7"/><ellipse cx="338.5" cy="265.2" rx="2.4" ry="3.1"/><ellipse cx="337.9" cy="271.1" rx="2.2" ry="3.0"/><ellipse cx="338.1" cy="279.1" rx="2.3" ry="4.0"/><ellipse cx="339.4" cy="285.2" rx="2.2" ry="3.7"/><polygon points="355,262 361,272 355,284 349,272"/><ellipse cx="355.0" cy="272.0" rx="4.8" ry="5.6"/><ellipse cx="369.4" cy="270.0" rx="1.8" ry="2.7"/></g><g opacity="0.5"><ellipse cx="212.7" cy="61.0" rx="1.0" ry="2.3"/><ellipse cx="212.2" cy="67.8" rx="1.2" ry="2.9"/><ellipse cx="212.5" cy="75.3" rx="0.8" ry="2.3"/><ellipse cx="212.2" cy="81.0" rx="1.1" ry="1.6"/><ellipse cx="212.4" cy="98.5" rx="1.2" ry="1.4"/><ellipse cx="222.6" cy="84.9" rx="0.8" ry="3.5"/><ellipse cx="222.2" cy="111.8" rx="0.8" ry="3.5"/><ellipse cx="221.9" cy="126.1" rx="1.2" ry="3.3"/><ellipse cx="194.8" cy="150.9" rx="1.6" ry="2.2"/><ellipse cx="210.7" cy="151.0" rx="1.8" ry="2.1"/><ellipse cx="194.6" cy="152.2" rx="1.3" ry="2.0"/><ellipse cx="194.5" cy="178.6" rx="1.2" ry="3.1"/><ellipse cx="195.4" cy="200.6" rx="1.1" ry="1.8"/><ellipse cx="195.2" cy="264.5" rx="0.8" ry="2.2"/><ellipse cx="194.9" cy="273.5" rx="1.1" ry="2.9"/><ellipse cx="210.6" cy="176.3" rx="1.5" ry="2.2"/><ellipse cx="210.6" cy="217.5" rx="1.7" ry="3.0"/><ellipse cx="209.2" cy="224.5" rx="1.4" ry="2.1"/><ellipse cx="210.6" cy="230.1" rx="1.4" ry="2.6"/><ellipse cx="210.5" cy="247.4" rx="0.9" ry="2.8"/><ellipse cx="223.1" cy="162.5" rx="1.2" ry="1.8"/><ellipse cx="223.5" cy="233.8" rx="1.7" ry="2.1"/><ellipse cx="222.3" cy="252.9" rx="1.1" ry="3.2"/><ellipse cx="221.2" cy="174.0" rx="3.3" ry="3.9"/><ellipse cx="211.8" cy="193.3" rx="3.7" ry="4.3"/><ellipse cx="223.6" cy="217.2" rx="4.1" ry="5.1"/><ellipse cx="223.6" cy="267.4" rx="3.5" ry="4.0"/><ellipse cx="210.6" cy="193.0" rx="3.3" ry="3.9"/><ellipse cx="202.3" cy="237.7" rx="1.3" ry="2.7"/><ellipse cx="201.8" cy="269.4" rx="0.9" ry="2.9"/><ellipse cx="201.7" cy="274.7" rx="0.9" ry="3.0"/><ellipse cx="162.1" cy="230.0" rx="0.8" ry="2.7"/><ellipse cx="162.0" cy="236.1" rx="0.8" ry="2.6"/><ellipse cx="162.0" cy="242.7" rx="0.8" ry="1.7"/><ellipse cx="162.3" cy="258.2" rx="0.8" ry="2.1"/><ellipse cx="161.8" cy="263.3" rx="0.8" ry="2.6"/><ellipse cx="162.0" cy="277.4" rx="0.8" ry="3.2"/><ellipse cx="151.0" cy="243.0" rx="1.9" ry="1.9"/><ellipse cx="151.0" cy="275.0" rx="2.2" ry="2.2"/><ellipse cx="185.0" cy="243.0" rx="2.2" ry="2.2"/><ellipse cx="185.0" cy="275.0" rx="2.4" ry="2.6"/><ellipse cx="260.7" cy="47.6" rx="6.1" ry="3.3"/><ellipse cx="260.3" cy="52.7" rx="4.1" ry="1.6"/><ellipse cx="258.3" cy="66.7" rx="5.1" ry="2.0"/><ellipse cx="258.9" cy="87.1" rx="5.3" ry="2.9"/><ellipse cx="256.4" cy="99.8" rx="3.3" ry="2.0"/><ellipse cx="258.5" cy="106.9" rx="4.3" ry="2.7"/><ellipse cx="258.7" cy="114.7" rx="4.4" ry="1.8"/><ellipse cx="258.0" cy="167.4" rx="5.8" ry="1.6"/><ellipse cx="257.6" cy="173.5" rx="5.6" ry="2.4"/><ellipse cx="259.7" cy="242.2" rx="6.1" ry="1.6"/><ellipse cx="282.0" cy="58.1" rx="3.0" ry="3.1"/><ellipse cx="280.7" cy="63.3" rx="4.3" ry="2.1"/><ellipse cx="280.2" cy="77.6" rx="3.1" ry="3.1"/><ellipse cx="278.8" cy="112.5" rx="2.7" ry="2.7"/><ellipse cx="280.1" cy="120.6" rx="4.1" ry="2.8"/><ellipse cx="281.2" cy="169.1" rx="4.4" ry="3.1"/><ellipse cx="280.7" cy="204.4" rx="4.1" ry="2.0"/><ellipse cx="281.9" cy="219.0" rx="4.3" ry="3.2"/><ellipse cx="298.7" cy="60.7" rx="4.4" ry="3.0"/><ellipse cx="297.4" cy="76.4" rx="2.8" ry="3.2"/><ellipse cx="298.4" cy="93.5" rx="3.7" ry="2.9"/><ellipse cx="296.5" cy="107.4" rx="4.7" ry="1.7"/><ellipse cx="297.4" cy="184.4" rx="2.6" ry="2.6"/><ellipse cx="298.2" cy="207.7" rx="4.0" ry="1.7"/><ellipse cx="297.9" cy="241.7" rx="3.3" ry="2.3"/><ellipse cx="317.8" cy="66.6" rx="4.2" ry="3.1"/><ellipse cx="317.1" cy="104.6" rx="4.1" ry="1.6"/><ellipse cx="317.0" cy="142.6" rx="3.3" ry="2.1"/><ellipse cx="316.4" cy="187.0" rx="2.3" ry="1.9"/><ellipse cx="319.0" cy="218.5" rx="3.2" ry="1.8"/><ellipse cx="316.9" cy="230.3" rx="3.2" ry="2.7"/><ellipse cx="337.3" cy="74.5" rx="3.4" ry="3.3"/><ellipse cx="337.1" cy="92.3" rx="4.0" ry="2.6"/><ellipse cx="339.1" cy="99.0" rx="3.9" ry="2.3"/><ellipse cx="338.9" cy="105.6" rx="3.1" ry="2.5"/><ellipse cx="339.1" cy="148.8" rx="3.4" ry="1.8"/><ellipse cx="338.2" cy="213.1" rx="3.6" ry="3.2"/><ellipse cx="337.4" cy="242.9" rx="4.0" ry="1.6"/><ellipse cx="350.4" cy="45.0" rx="3.4" ry="2.4"/><ellipse cx="352.0" cy="50.7" rx="3.7" ry="3.0"/><ellipse cx="350.8" cy="64.2" rx="2.4" ry="2.8"/><ellipse cx="350.1" cy="99.3" rx="2.1" ry="3.2"/><ellipse cx="352.8" cy="129.4" rx="2.4" ry="2.9"/><ellipse cx="350.6" cy="153.3" rx="3.4" ry="2.5"/><ellipse cx="351.9" cy="164.8" rx="3.3" ry="2.8"/><ellipse cx="352.4" cy="171.5" rx="3.8" ry="3.4"/><ellipse cx="352.6" cy="178.7" rx="2.0" ry="3.4"/><ellipse cx="350.2" cy="212.4" rx="2.5" ry="3.2"/><ellipse cx="350.1" cy="217.5" rx="2.2" ry="2.9"/><ellipse cx="351.2" cy="243.6" rx="2.3" ry="3.2"/><ellipse cx="368.8" cy="53.8" rx="2.6" ry="3.0"/><ellipse cx="369.1" cy="129.1" rx="3.1" ry="2.2"/><ellipse cx="368.0" cy="134.4" rx="4.3" ry="3.2"/><ellipse cx="370.6" cy="146.1" rx="3.0" ry="2.0"/><ellipse cx="367.8" cy="198.3" rx="2.2" ry="2.5"/><ellipse cx="368.6" cy="212.3" rx="2.3" ry="3.3"/><ellipse cx="292.0" cy="39.3" rx="1.3" ry="1.3"/><ellipse cx="260.7" cy="211.0" rx="5.0" ry="21.0"/><ellipse cx="305.0" cy="211.0" rx="4.5" ry="21.0"/><ellipse cx="284.0" cy="212.0" rx="3.0" ry="14.0"/><ellipse cx="274.0" cy="212.0" rx="3.0" ry="14.0"/><ellipse cx="318.0" cy="205.0" rx="3.0" ry="12.0"/><ellipse cx="257.8" cy="51.5" rx="4.3" ry="4.8"/><ellipse cx="257.7" cy="104.0" rx="4.3" ry="4.7"/><ellipse cx="283.0" cy="64.0" rx="2.9" ry="3.0"/><ellipse cx="369.9" cy="84.0" rx="3.5" ry="3.9"/><ellipse cx="259.6" cy="171.6" rx="4.5" ry="5.3"/><ellipse cx="274.7" cy="201.0" rx="4.5" ry="5.5"/><ellipse cx="304.0" cy="169.6" rx="4.9" ry="10.5"/><ellipse cx="314.4" cy="174.8" rx="3.9" ry="6.5"/><ellipse cx="319.5" cy="137.6" rx="4.1" ry="5.1"/><ellipse cx="305.4" cy="196.0" rx="4.1" ry="5.5"/><ellipse cx="317.5" cy="189.0" rx="4.1" ry="5.5"/><ellipse cx="249.0" cy="195.7" rx="3.1" ry="3.5"/><ellipse cx="350.0" cy="157.7" rx="3.5" ry="5.1"/><ellipse cx="370.8" cy="148.8" rx="2.8" ry="2.8"/><ellipse cx="369.6" cy="171.9" rx="4.3" ry="7.7"/><ellipse cx="352.8" cy="187.4" rx="3.9" ry="5.9"/><ellipse cx="339.0" cy="202.0" rx="3.7" ry="4.5"/><ellipse cx="352.8" cy="206.0" rx="3.9" ry="5.5"/><ellipse cx="370.2" cy="204.8" rx="3.7" ry="5.1"/><ellipse cx="248.6" cy="217.0" rx="3.3" ry="4.1"/><ellipse cx="260.7" cy="206.0" rx="4.9" ry="6.1"/><ellipse cx="260.7" cy="226.0" rx="4.9" ry="6.1"/><ellipse cx="274.7" cy="221.0" rx="3.5" ry="5.0"/><ellipse cx="304.4" cy="202.0" rx="3.9" ry="5.5"/><ellipse cx="304.4" cy="227.0" rx="4.3" ry="5.5"/><ellipse cx="314.4" cy="222.0" rx="3.3" ry="5.0"/><ellipse cx="257.3" cy="239.6" rx="4.1" ry="4.1"/><ellipse cx="315.6" cy="195.0" rx="3.9" ry="4.9"/><ellipse cx="352.0" cy="214.0" rx="3.1" ry="3.1"/><ellipse cx="316.0" cy="224.0" rx="3.5" ry="4.5"/><ellipse cx="260.0" cy="279.4" rx="3.7" ry="4.1"/><ellipse cx="306.0" cy="286.0" rx="2.1" ry="2.1"/><ellipse cx="325.3" cy="287.5" rx="1.6" ry="2.6"/><ellipse cx="355.0" cy="272.0" rx="3.9" ry="4.7"/></g></g></g><g fill="#fffdf2" opacity="0.85"><ellipse cx="294.4" cy="100.5" rx="0.9" ry="3.1"/><ellipse cx="275.2" cy="118.2" rx="1.1" ry="2.6"/><ellipse cx="276.1" cy="136.4" rx="1.1" ry="3.2"/><ellipse cx="272.8" cy="174.9" rx="0.8" ry="3.1"/><ellipse cx="286.2" cy="160.6" rx="0.8" ry="1.9"/><ellipse cx="274.4" cy="153.9" rx="1.1" ry="1.7"/><ellipse cx="277.4" cy="71.6" rx="0.9" ry="2.5"/><ellipse cx="284.3" cy="145.1" rx="0.8" ry="3.1"/><ellipse cx="299.5" cy="149.3" rx="1.3" ry="3.2"/><ellipse cx="274.7" cy="116.4" rx="0.8" ry="3.0"/><ellipse cx="287.1" cy="74.6" rx="1.1" ry="3.0"/><ellipse cx="287.5" cy="76.3" rx="1.4" ry="1.3"/><ellipse cx="295.6" cy="176.9" rx="1.3" ry="3.4"/><ellipse cx="286.9" cy="87.9" rx="1.1" ry="2.9"/><ellipse cx="293.5" cy="107.4" rx="1.5" ry="1.3"/><ellipse cx="285.9" cy="66.7" rx="1.0" ry="3.5"/><ellipse cx="275.3" cy="178.3" rx="1.4" ry="2.8"/><ellipse cx="273.6" cy="117.6" rx="1.3" ry="1.4"/><ellipse cx="280.4" cy="72.8" rx="1.4" ry="3.3"/><ellipse cx="297.9" cy="150.6" rx="1.2" ry="1.3"/><ellipse cx="285.5" cy="151.8" rx="1.3" ry="1.3"/><ellipse cx="272.2" cy="72.4" rx="1.4" ry="1.5"/><ellipse cx="282.9" cy="118.2" rx="1.4" ry="1.5"/><ellipse cx="279.3" cy="153.1" rx="0.8" ry="1.6"/><ellipse cx="272.7" cy="175.1" rx="0.9" ry="2.4"/><ellipse cx="282.6" cy="177.8" rx="1.3" ry="2.6"/><ellipse cx="354.6" cy="104.8" rx="1.1" ry="1.4"/><ellipse cx="359.9" cy="108.4" rx="0.8" ry="2.0"/><ellipse cx="342.6" cy="146.9" rx="0.6" ry="1.2"/><ellipse cx="340.7" cy="81.7" rx="1.1" ry="2.1"/><ellipse cx="362.1" cy="171.3" rx="0.7" ry="2.9"/><ellipse cx="350.4" cy="129.8" rx="0.9" ry="2.5"/><ellipse cx="365.7" cy="95.2" rx="1.1" ry="2.0"/><ellipse cx="345.0" cy="182.4" rx="1.1" ry="2.7"/><ellipse cx="347.9" cy="188.8" rx="1.1" ry="2.9"/><ellipse cx="365.2" cy="200.0" rx="0.9" ry="2.5"/><ellipse cx="366.2" cy="138.2" rx="0.9" ry="1.9"/><ellipse cx="369.7" cy="119.2" rx="1.0" ry="2.2"/></g><line x1="362" y1="248" x2="394" y2="248" stroke="#e8262d" stroke-width="1"/><g fill="#e8262d"><circle cx="212.0" cy="50.0" r="1.2"/><circle cx="224.5" cy="51.6" r="1.2"/><circle cx="222.0" cy="66.0" r="1.2"/><circle cx="185.5" cy="73.0" r="1.2"/><circle cx="193.4" cy="111.0" r="1.2"/><circle cx="204.0" cy="110.0" r="1.2"/><circle cx="175.0" cy="118.0" r="1.2"/><circle cx="177.5" cy="119.5" r="1.2"/><circle cx="213.0" cy="88.7" r="1.2"/><circle cx="229.0" cy="135.0" r="1.2"/><circle cx="225.0" cy="128.0" r="1.2"/><circle cx="231.0" cy="141.0" r="1.2"/><circle cx="198.0" cy="124.0" r="1.2"/><circle cx="168.0" cy="126.0" r="1.2"/><circle cx="239.0" cy="160.0" r="1.2"/><circle cx="236.0" cy="170.0" r="1.2"/><circle cx="242.0" cy="122.0" r="1.2"/><circle cx="241.0" cy="100.0" r="1.2"/><circle cx="238.0" cy="150.0" r="1.2"/><circle cx="217.0" cy="110.0" r="1.2"/><circle cx="200.0" cy="115.0" r="1.2"/><circle cx="190.0" cy="95.0" r="1.2"/><circle cx="172.0" cy="100.0" r="1.2"/><circle cx="232.0" cy="75.0" r="1.2"/><circle cx="230.0" cy="60.0" r="1.2"/><circle cx="226.0" cy="134.4" r="1.2"/><circle cx="236.6" cy="128.5" r="1.2"/><circle cx="229.0" cy="137.0" r="1.2"/><circle cx="148.4" cy="291.6" r="1.2"/><circle cx="154.0" cy="294.0" r="1.2"/><circle cx="174.0" cy="248.0" r="1.2"/><circle cx="187.7" cy="266.0" r="1.2"/><circle cx="304.4" cy="37.0" r="1.2"/><circle cx="341.6" cy="54.0" r="1.2"/><circle cx="338.0" cy="59.0" r="1.2"/><circle cx="382.3" cy="105.4" r="1.2"/><circle cx="382.3" cy="115.0" r="1.2"/><circle cx="325.7" cy="93.0" r="1.2"/><circle cx="244.3" cy="45.3" r="1.2"/><circle cx="277.5" cy="58.5" r="1.2"/><circle cx="318.4" cy="270.0" r="1.2"/><circle cx="383.5" cy="278.0" r="1.2"/><circle cx="353.7" cy="301.0" r="1.2"/><circle cx="250.0" cy="295.0" r="1.2"/><circle cx="244.0" cy="286.0" r="1.2"/><circle cx="290.0" cy="300.0" r="1.2"/><circle cx="274.0" cy="302.0" r="1.2"/><circle cx="401.0" cy="281.0" r="1.2"/></g><defs><filter id="fp" filterUnits="userSpaceOnUse" x="143" y="33" width="260" height="272" color-interpolation-filters="sRGB"><feGaussianBlur in="SourceAlpha" stdDeviation="0.7" result="b"/><feColorMatrix in="b" type="matrix" values="0 0 0 1 0  0 0 0 1 0  0 0 0 1 0  0 0 0 0 1" result="g"/><feComponentTransfer in="g" result="c"><feFuncR type="discrete" tableValues="0.000 0.000 0.000 0.000 0.000 0.000 0.000 0.000 0.000 0.000 0.000 0.000 0.000 0.000 0.000 0.000 0.000 0.000 0.000 0.000 0.000 0.000 0.000 0.000 0.000 0.990 0.990 0.990 0.990 0.990 0.990 0.990 0.990 0.990 0.990 0.990 0.990 0.990 0.550 0.550 0.550 0.550 0.550 0.550 0.550 0.550 0.550 0.550 0.550 0.550 0.550 0.550 0.550 0.550 0.550 0.550 0.550 0.550 0.550 0.550 0.550 0.550 0.720 0.720 0.720 0.720 0.720 0.720 0.720 0.720 0.720 0.720 0.720 0.720 0.720 0.720 0.720 0.720 0.720 0.720 0.720 0.720 0.720 0.720 0.720 0.130 0.130 0.130 0.130 0.130 0.130 0.130 0.130 0.130 0.130 0.130 0.130 0.130 0.130 0.130"/><feFuncG type="discrete" tableValues="0.000 0.000 0.000 0.000 0.000 0.000 0.000 0.000 0.000 0.000 0.000 0.000 0.000 0.000 0.000 0.000 0.000 0.000 0.000 0.000 0.000 0.000 0.000 0.000 0.000 0.950 0.950 0.950 0.950 0.950 0.950 0.950 0.950 0.950 0.950 0.950 0.950 0.950 0.780 0.780 0.780 0.780 0.780 0.780 0.780 0.780 0.780 0.780 0.780 0.780 0.780 0.780 0.780 0.780 0.780 0.780 0.780 0.780 0.780 0.780 0.780 0.780 0.860 0.860 0.860 0.860 0.860 0.860 0.860 0.860 0.860 0.860 0.860 0.860 0.860 0.860 0.860 0.860 0.860 0.860 0.860 0.860 0.860 0.860 0.860 0.600 0.600 0.600 0.600 0.600 0.600 0.600 0.600 0.600 0.600 0.600 0.600 0.600 0.600 0.600"/><feFuncB type="discrete" tableValues="0.000 0.000 0.000 0.000 0.000 0.000 0.000 0.000 0.000 0.000 0.000 0.000 0.000 0.000 0.000 0.000 0.000 0.000 0.000 0.000 0.000 0.000 0.000 0.000 0.000 0.450 0.450 0.450 0.450 0.450 0.450 0.450 0.450 0.450 0.450 0.450 0.450 0.450 0.280 0.280 0.280 0.280 0.280 0.280 0.280 0.280 0.280 0.280 0.280 0.280 0.280 0.280 0.280 0.280 0.280 0.280 0.280 0.280 0.280 0.280 0.280 0.280 0.360 0.360 0.360 0.360 0.360 0.360 0.360 0.360 0.360 0.360 0.360 0.360 0.360 0.360 0.360 0.360 0.360 0.360 0.360 0.360 0.360 0.360 0.360 0.300 0.300 0.300 0.300 0.300 0.300 0.300 0.300 0.300 0.300 0.300 0.300 0.300 0.300 0.300"/></feComponentTransfer><feColorMatrix in="b" type="matrix" values="0 0 0 0 0  0 0 0 0 0  0 0 0 0 0  0 0 0 1 0" result="a0"/><feComponentTransfer in="a0" result="a"><feFuncA type="discrete" tableValues="0.000 0.000 0.000 0.000 0.000 0.000 0.000 0.000 0.000 0.000 0.000 0.000 0.000 0.000 0.000 0.000 0.000 0.000 0.000 0.000 0.000 0.000 0.000 0.000 0.000 1.000 1.000 1.000 1.000 1.000 1.000 1.000 1.000 1.000 1.000 1.000 1.000 1.000 1.000 1.000 1.000 1.000 1.000 1.000 1.000 1.000 1.000 1.000 1.000 1.000 1.000 1.000 1.000 1.000 1.000 1.000 1.000 1.000 1.000 1.000 1.000 1.000 1.000 1.000 1.000 1.000 1.000 1.000 1.000 1.000 1.000 1.000 1.000 1.000 1.000 1.000 1.000 1.000 1.000 1.000 1.000 1.000 1.000 1.000 1.000 1.000 1.000 1.000 1.000 1.000 1.000 1.000 1.000 1.000 1.000 1.000 1.000 1.000 1.000 1.000"/></feComponentTransfer><feComposite in="c" in2="a" operator="in"/></filter></defs><g filter="url(#fp)"><g opacity="0.45"><ellipse cx="221.2" cy="174.0" rx="2.7" ry="3.3"/><ellipse cx="211.8" cy="193.3" rx="3.1" ry="3.7"/><ellipse cx="223.6" cy="217.2" rx="3.5" ry="4.5"/><ellipse cx="223.6" cy="267.4" rx="2.9" ry="3.4"/><ellipse cx="210.6" cy="193.0" rx="2.7" ry="3.3"/><ellipse cx="260.7" cy="214.0" rx="4.6" ry="21.0"/><ellipse cx="307.0" cy="209.0" rx="4.2" ry="19.0"/><ellipse cx="257.8" cy="51.5" rx="3.7" ry="4.2"/><ellipse cx="257.7" cy="104.0" rx="3.7" ry="4.1"/><ellipse cx="283.0" cy="64.0" rx="2.3" ry="2.4"/><ellipse cx="369.9" cy="84.0" rx="2.9" ry="3.3"/><ellipse cx="259.6" cy="171.6" rx="3.9" ry="4.7"/><ellipse cx="274.7" cy="201.0" rx="3.9" ry="4.9"/><ellipse cx="304.0" cy="169.6" rx="4.3" ry="9.9"/><ellipse cx="314.4" cy="174.8" rx="3.3" ry="5.9"/><ellipse cx="319.5" cy="137.6" rx="3.5" ry="4.5"/><ellipse cx="305.4" cy="196.0" rx="3.5" ry="4.9"/><ellipse cx="317.5" cy="189.0" rx="3.5" ry="4.9"/><ellipse cx="249.0" cy="195.7" rx="2.5" ry="2.9"/><ellipse cx="350.0" cy="157.7" rx="2.9" ry="4.5"/><ellipse cx="370.8" cy="148.8" rx="2.2" ry="2.2"/><ellipse cx="369.6" cy="171.9" rx="3.7" ry="7.1"/><ellipse cx="352.8" cy="187.4" rx="3.3" ry="5.3"/><ellipse cx="339.0" cy="202.0" rx="3.1" ry="3.9"/><ellipse cx="352.8" cy="206.0" rx="3.3" ry="4.9"/><ellipse cx="370.2" cy="204.8" rx="3.1" ry="4.5"/><ellipse cx="248.6" cy="217.0" rx="2.7" ry="3.5"/><ellipse cx="260.7" cy="206.0" rx="4.3" ry="5.5"/><ellipse cx="260.7" cy="226.0" rx="4.3" ry="5.5"/><ellipse cx="274.7" cy="221.0" rx="2.9" ry="4.4"/><ellipse cx="304.4" cy="202.0" rx="3.3" ry="4.9"/><ellipse cx="304.4" cy="227.0" rx="3.7" ry="4.9"/><ellipse cx="314.4" cy="222.0" rx="2.7" ry="4.4"/><ellipse cx="257.3" cy="239.6" rx="3.5" ry="3.5"/><ellipse cx="315.6" cy="195.0" rx="3.3" ry="4.3"/><ellipse cx="352.0" cy="214.0" rx="2.5" ry="2.5"/><ellipse cx="316.0" cy="224.0" rx="2.9" ry="3.9"/><ellipse cx="260.0" cy="279.4" rx="3.1" ry="3.5"/><ellipse cx="355.0" cy="272.0" rx="3.3" ry="4.1"/></g><g opacity="0.5"><ellipse cx="221.2" cy="174.0" rx="1.5" ry="2.0"/><ellipse cx="211.8" cy="193.3" rx="1.9" ry="2.4"/><ellipse cx="223.6" cy="217.2" rx="2.2" ry="3.1"/><ellipse cx="223.6" cy="267.4" rx="1.7" ry="2.1"/><ellipse cx="210.6" cy="193.0" rx="1.5" ry="2.0"/><ellipse cx="257.8" cy="51.5" rx="2.4" ry="2.8"/><ellipse cx="257.7" cy="104.0" rx="2.4" ry="2.7"/><ellipse cx="283.0" cy="64.0" rx="1.2" ry="1.3"/><ellipse cx="369.9" cy="84.0" rx="1.7" ry="2.0"/><ellipse cx="259.6" cy="171.6" rx="2.5" ry="3.2"/><ellipse cx="274.7" cy="201.0" rx="2.5" ry="3.4"/><ellipse cx="304.0" cy="169.6" rx="2.9" ry="7.6"/><ellipse cx="314.4" cy="174.8" rx="2.0" ry="4.2"/><ellipse cx="319.5" cy="137.6" rx="2.2" ry="3.1"/><ellipse cx="305.4" cy="196.0" rx="2.2" ry="3.4"/><ellipse cx="317.5" cy="189.0" rx="2.2" ry="3.4"/><ellipse cx="249.0" cy="195.7" rx="1.4" ry="1.7"/><ellipse cx="350.0" cy="157.7" rx="1.7" ry="3.1"/><ellipse cx="370.8" cy="148.8" rx="1.1" ry="1.1"/><ellipse cx="369.6" cy="171.9" rx="2.4" ry="5.3"/><ellipse cx="352.8" cy="187.4" rx="2.0" ry="3.7"/><ellipse cx="339.0" cy="202.0" rx="1.9" ry="2.5"/><ellipse cx="352.8" cy="206.0" rx="2.0" ry="3.4"/><ellipse cx="370.2" cy="204.8" rx="1.9" ry="3.1"/><ellipse cx="248.6" cy="217.0" rx="1.5" ry="2.2"/><ellipse cx="260.7" cy="206.0" rx="2.9" ry="3.9"/><ellipse cx="260.7" cy="226.0" rx="2.9" ry="3.9"/><ellipse cx="274.7" cy="221.0" rx="1.7" ry="3.0"/><ellipse cx="304.4" cy="202.0" rx="2.0" ry="3.4"/><ellipse cx="304.4" cy="227.0" rx="2.4" ry="3.4"/><ellipse cx="314.4" cy="222.0" rx="1.5" ry="3.0"/><ellipse cx="257.3" cy="239.6" rx="2.2" ry="2.2"/><ellipse cx="315.6" cy="195.0" rx="2.0" ry="2.9"/><ellipse cx="352.0" cy="214.0" rx="1.4" ry="1.4"/><ellipse cx="316.0" cy="224.0" rx="1.7" ry="2.5"/><ellipse cx="260.0" cy="279.4" rx="1.9" ry="2.2"/><ellipse cx="355.0" cy="272.0" rx="2.0" ry="2.7"/></g><g opacity="0.95"><ellipse cx="221.2" cy="174.0" rx="1.1" ry="1.5"/><ellipse cx="211.8" cy="193.3" rx="1.4" ry="1.7"/><ellipse cx="257.8" cy="51.5" rx="1.7" ry="2.0"/><ellipse cx="257.7" cy="104.0" rx="1.7" ry="2.0"/><ellipse cx="369.9" cy="84.0" rx="1.2" ry="1.5"/><ellipse cx="274.7" cy="201.0" rx="1.9" ry="2.5"/><ellipse cx="260.7" cy="206.0" rx="2.1" ry="2.9"/><ellipse cx="260.7" cy="226.0" rx="2.1" ry="2.9"/><ellipse cx="304.4" cy="227.0" rx="1.7" ry="2.5"/></g></g>
<defs><filter id="fc" filterUnits="userSpaceOnUse" x="411" y="32.5" width="255" height="271" color-interpolation-filters="sRGB"><feTurbulence type="fractalNoise" baseFrequency="0.3" numOctaves="2" seed="5" result="t1"/><feGaussianBlur in="SourceAlpha" stdDeviation="1.0" result="b"/><feDisplacementMap in="b" in2="t1" scale="1.6" xChannelSelector="R" yChannelSelector="G" result="bd"/><feColorMatrix in="bd" type="matrix" values="0 0 0 1 0  0 0 0 1 0  0 0 0 1 0  0 0 0 0 1" result="g"/><feComponentTransfer in="g"><feFuncR type="discrete" tableValues="1.000 1.000 1.000 1.000 1.000 1.000 1.000 1.000 1.000 0.930 0.930 0.930 0.930 0.930 0.930 0.930 0.930 0.930 0.930 0.960 0.960 0.960 0.960 0.960 0.960 0.960 0.960 0.960 0.960 0.960 0.960 0.960 0.960 0.960 0.960 0.960 0.960 0.960 0.960 0.960 0.980 0.980 0.980 0.980 0.980 0.980 0.980 0.980 0.980 0.980 0.990 0.990 0.990 0.990 0.990 0.990 0.990 0.990 0.990 0.990 0.990 0.990 0.990 0.990 0.990 0.990 0.990 0.990 0.990 0.990 0.990 0.990 0.990 0.990 0.990 0.620 0.620 0.620 0.620 0.620 0.620 0.620 0.620 0.620 0.620 0.620 0.300 0.300 0.300 0.300 0.300 0.300 0.300 0.300 0.300 0.300 0.300 0.300 0.300 0.300"/><feFuncG type="discrete" tableValues="1.000 1.000 1.000 1.000 1.000 1.000 1.000 1.000 1.000 0.160 0.160 0.160 0.160 0.160 0.160 0.160 0.160 0.160 0.160 0.600 0.600 0.600 0.600 0.600 0.600 0.600 0.600 0.600 0.600 0.600 0.600 0.600 0.600 0.600 0.600 0.600 0.600 0.600 0.600 0.600 0.760 0.760 0.760 0.760 0.760 0.760 0.760 0.760 0.760 0.760 0.880 0.880 0.880 0.880 0.880 0.880 0.880 0.880 0.880 0.880 0.880 0.880 0.940 0.940 0.940 0.940 0.940 0.940 0.940 0.940 0.940 0.940 0.940 0.940 0.940 0.800 0.800 0.800 0.800 0.800 0.800 0.800 0.800 0.800 0.800 0.800 0.680 0.680 0.680 0.680 0.680 0.680 0.680 0.680 0.680 0.680 0.680 0.680 0.680 0.680"/><feFuncB type="discrete" tableValues="1.000 1.000 1.000 1.000 1.000 1.000 1.000 1.000 1.000 0.170 0.170 0.170 0.170 0.170 0.170 0.170 0.170 0.170 0.170 0.140 0.140 0.140 0.140 0.140 0.140 0.140 0.140 0.140 0.140 0.140 0.140 0.140 0.140 0.140 0.140 0.140 0.140 0.140 0.140 0.140 0.200 0.200 0.200 0.200 0.200 0.200 0.200 0.200 0.200 0.200 0.280 0.280 0.280 0.280 0.280 0.280 0.280 0.280 0.280 0.280 0.280 0.280 0.450 0.450 0.450 0.450 0.450 0.450 0.450 0.450 0.450 0.450 0.450 0.450 0.450 0.300 0.300 0.300 0.300 0.300 0.300 0.300 0.300 0.300 0.300 0.300 0.280 0.280 0.280 0.280 0.280 0.280 0.280 0.280 0.280 0.280 0.280 0.280 0.280 0.280"/></feComponentTransfer></filter></defs><g filter="url(#fc)"><rect x="411" y="32.5" width="255" height="271" fill="#fff" fill-opacity="0"/><ellipse cx="523.5" cy="45" rx="12" ry="4.4" fill="#000" fill-opacity="0.6" transform="rotate(-34 523.5 45)"/><ellipse cx="522.5" cy="44.8" rx="4.6" ry="4.2" fill="#000" fill-opacity="0.62" transform="rotate(-34 522.5 44.8)"/><ellipse cx="522.5" cy="44.8" rx="2.07" ry="1.8900000000000001" fill="#000" fill-opacity="0.97" transform="rotate(-34 522.5 44.8)"/><ellipse cx="509.3" cy="58.7" rx="2.5" ry="2.5" fill="#000" fill-opacity="0.55"/><ellipse cx="481" cy="85.7" rx="3" ry="3.4" fill="#000" fill-opacity="0.55"/><ellipse cx="567.7" cy="75" rx="3.2" ry="3.6" fill="#000" fill-opacity="0.55"/><ellipse cx="633.5" cy="75.5" rx="4.8" ry="5.2" fill="#000" fill-opacity="0.62" transform="rotate(-20 633.5 75.5)"/><ellipse cx="633.5" cy="75.5" rx="2.16" ry="2.3400000000000003" fill="#000" fill-opacity="0.97" transform="rotate(-20 633.5 75.5)"/><ellipse cx="638" cy="99.6" rx="6" ry="3.2" fill="#000" fill-opacity="0.55" transform="rotate(-45 638 99.6)"/><ellipse cx="601.8" cy="105" rx="3.4" ry="7" fill="#000" fill-opacity="0.62"/><ellipse cx="601.8" cy="105" rx="1.53" ry="3.15" fill="#000" fill-opacity="0.97"/><ellipse cx="580" cy="100.3" rx="2.6" ry="2.6" fill="#000" fill-opacity="0.55"/><ellipse cx="583" cy="106" rx="2.0" ry="2.0" fill="#000" fill-opacity="0.55"/><ellipse cx="561.2" cy="102.4" rx="5" ry="4.6" fill="#000" fill-opacity="0.55"/><ellipse cx="564.8" cy="111.2" rx="3" ry="3" fill="#000" fill-opacity="0.55"/><ellipse cx="556.8" cy="120" rx="2.8" ry="5.5" fill="#000" fill-opacity="0.55"/><ellipse cx="579.8" cy="100.6" rx="3" ry="3" fill="#000" fill-opacity="0.55"/><ellipse cx="582.5" cy="126.3" rx="6" ry="5" fill="#000" fill-opacity="0.62"/><ellipse cx="582.5" cy="126.3" rx="2.7" ry="2.25" fill="#000" fill-opacity="0.97"/><ellipse cx="590" cy="135" rx="5" ry="6.5" fill="#000" fill-opacity="0.55"/><ellipse cx="596" cy="128" rx="3.5" ry="5" fill="#000" fill-opacity="0.55"/><ellipse cx="599.3" cy="103.3" rx="3" ry="3" fill="#000" fill-opacity="0.55"/><ellipse cx="599.3" cy="130.7" rx="3" ry="3" fill="#000" fill-opacity="0.55"/><ellipse cx="603" cy="128.6" rx="4.2" ry="5" fill="#000" fill-opacity="0.55"/><ellipse cx="617.4" cy="124" rx="9" ry="4" fill="#000" fill-opacity="0.62" transform="rotate(-65 617.4 124)"/><ellipse cx="617.4" cy="124" rx="3.15" ry="1.4" fill="#000" fill-opacity="0.97" transform="rotate(-65 617.4 124)"/><ellipse cx="619" cy="134" rx="3" ry="3" fill="#000" fill-opacity="0.55"/><ellipse cx="604.8" cy="144.5" rx="3.2" ry="3.2" fill="#000" fill-opacity="0.55"/><ellipse cx="646" cy="139" rx="4.2" ry="13" fill="#000" fill-opacity="0.6" transform="rotate(12 646 139)"/><ellipse cx="647" cy="129" rx="3.5" ry="4" fill="#000" fill-opacity="0.62"/><ellipse cx="647" cy="129" rx="1.575" ry="1.8" fill="#000" fill-opacity="0.97"/><ellipse cx="633.5" cy="142.5" rx="3.2" ry="3.2" fill="#000" fill-opacity="0.55"/><ellipse cx="617.4" cy="154.6" rx="4" ry="4" fill="#000" fill-opacity="0.55"/><ellipse cx="587" cy="155" rx="4.2" ry="4.2" fill="#000" fill-opacity="0.55"/><ellipse cx="557.7" cy="137.8" rx="4" ry="4" fill="#000" fill-opacity="0.55"/><ellipse cx="556.5" cy="145" rx="3.5" ry="3.5" fill="#000" fill-opacity="0.55"/><ellipse cx="562.5" cy="155.4" rx="5" ry="5.5" fill="#000" fill-opacity="0.55"/><ellipse cx="584.2" cy="146.6" rx="4.2" ry="4.2" fill="#000" fill-opacity="0.55"/><ellipse cx="576.6" cy="158" rx="4" ry="4" fill="#000" fill-opacity="0.55"/><ellipse cx="571.3" cy="166.2" rx="4.2" ry="4.4" fill="#000" fill-opacity="0.62"/><ellipse cx="571.3" cy="166.2" rx="1.8900000000000001" ry="1.9800000000000002" fill="#000" fill-opacity="0.97"/><ellipse cx="578.5" cy="172.4" rx="4" ry="4" fill="#000" fill-opacity="0.55"/><ellipse cx="459.6" cy="143" rx="5" ry="6.8" fill="#000" fill-opacity="0.62"/><ellipse cx="459.6" cy="143" rx="2.25" ry="3.06" fill="#000" fill-opacity="0.97"/><ellipse cx="459" cy="164.7" rx="3.5" ry="3.5" fill="#000" fill-opacity="0.55"/><ellipse cx="444" cy="169.3" rx="2.5" ry="2.5" fill="#000" fill-opacity="0.55"/><ellipse cx="487.5" cy="163" rx="4.6" ry="6.5" fill="#000" fill-opacity="0.62"/><ellipse cx="487.5" cy="163" rx="2.07" ry="2.9250000000000003" fill="#000" fill-opacity="0.97"/><ellipse cx="485.5" cy="170.3" rx="2.5" ry="4" fill="#000" fill-opacity="0.55"/><ellipse cx="524.7" cy="159.6" rx="5.5" ry="9" fill="#000" fill-opacity="0.62"/><ellipse cx="524.7" cy="159.6" rx="2.475" ry="4.05" fill="#000" fill-opacity="0.97"/><ellipse cx="538" cy="170" rx="4.5" ry="5.5" fill="#000" fill-opacity="0.55"/><ellipse cx="561.6" cy="173" rx="4" ry="4" fill="#000" fill-opacity="0.55"/><ellipse cx="528" cy="150" rx="2.5" ry="2.5" fill="#000" fill-opacity="0.55"/><ellipse cx="445.5" cy="190" rx="4" ry="7" fill="#000" fill-opacity="0.62" transform="rotate(40 445.5 190)"/><ellipse cx="445.5" cy="190" rx="1.8" ry="3.15" fill="#000" fill-opacity="0.97" transform="rotate(40 445.5 190)"/><ellipse cx="465" cy="193" rx="10" ry="4.6" fill="#000" fill-opacity="0.58" transform="rotate(-42 465 193)"/><ellipse cx="466" cy="192" rx="4" ry="2.5" fill="#000" fill-opacity="0.62" transform="rotate(-42 466 192)"/><ellipse cx="466" cy="192" rx="1.8" ry="1.125" fill="#000" fill-opacity="0.97" transform="rotate(-42 466 192)"/><ellipse cx="478" cy="189.5" rx="5.5" ry="5.5" fill="#000" fill-opacity="0.55"/><ellipse cx="465.3" cy="207.5" rx="2.5" ry="2.5" fill="#000" fill-opacity="0.55"/><ellipse cx="473" cy="222" rx="6.5" ry="6" fill="#000" fill-opacity="0.55"/><ellipse cx="468.8" cy="230.3" rx="5" ry="5" fill="#000" fill-opacity="0.62"/><ellipse cx="468.8" cy="230.3" rx="2.25" ry="2.25" fill="#000" fill-opacity="0.97"/><ellipse cx="476" cy="226" rx="4" ry="4" fill="#000" fill-opacity="0.55"/><ellipse cx="488.6" cy="205" rx="14" ry="5" fill="#000" fill-opacity="0.58" transform="rotate(-45 488.6 205)"/><ellipse cx="489" cy="205" rx="5" ry="2.2" fill="#000" fill-opacity="0.62" transform="rotate(-45 489 205)"/><ellipse cx="489" cy="205" rx="2.25" ry="0.9900000000000001" fill="#000" fill-opacity="0.97" transform="rotate(-45 489 205)"/><ellipse cx="514.4" cy="209.6" rx="5" ry="5.5" fill="#000" fill-opacity="0.62"/><ellipse cx="514.4" cy="209.6" rx="2.25" ry="2.475" fill="#000" fill-opacity="0.97"/><ellipse cx="519" cy="205.5" rx="3.5" ry="3.5" fill="#000" fill-opacity="0.55"/><ellipse cx="516.5" cy="222" rx="3.5" ry="3.5" fill="#000" fill-opacity="0.62"/><ellipse cx="516.5" cy="222" rx="1.575" ry="1.575" fill="#000" fill-opacity="0.97"/><ellipse cx="507" cy="221.5" rx="2.2" ry="2.2" fill="#000" fill-opacity="0.55"/><ellipse cx="520.6" cy="231.5" rx="4" ry="7.5" fill="#000" fill-opacity="0.62"/><ellipse cx="520.6" cy="231.5" rx="1.8" ry="3.375" fill="#000" fill-opacity="0.97"/><ellipse cx="520.6" cy="245" rx="2.6" ry="2.6" fill="#000" fill-opacity="0.3"/><ellipse cx="526.8" cy="217" rx="3" ry="3.5" fill="#000" fill-opacity="0.62"/><ellipse cx="526.8" cy="217" rx="1.35" ry="1.575" fill="#000" fill-opacity="0.97"/><ellipse cx="530" cy="207.5" rx="4" ry="4.5" fill="#000" fill-opacity="0.62"/><ellipse cx="530" cy="207.5" rx="1.8" ry="2.025" fill="#000" fill-opacity="0.97"/><ellipse cx="532" cy="226" rx="4" ry="4" fill="#000" fill-opacity="0.55"/><ellipse cx="539.3" cy="196" rx="2.5" ry="2.5" fill="#000" fill-opacity="0.62"/><ellipse cx="539.3" cy="196" rx="1.125" ry="1.125" fill="#000" fill-opacity="0.97"/><ellipse cx="550.6" cy="201.3" rx="7" ry="4" fill="#000" fill-opacity="0.55" transform="rotate(-45 550.6 201.3)"/><ellipse cx="533" cy="204" rx="3.2" ry="7" fill="#000" fill-opacity="0.55"/><ellipse cx="566.5" cy="222" rx="4" ry="4.5" fill="#000" fill-opacity="0.62"/><ellipse cx="566.5" cy="222" rx="1.8" ry="2.025" fill="#000" fill-opacity="0.97"/><ellipse cx="571.3" cy="229.5" rx="5" ry="8" fill="#000" fill-opacity="0.62"/><ellipse cx="571.3" cy="229.5" rx="2.25" ry="3.6" fill="#000" fill-opacity="0.97"/><ellipse cx="576.5" cy="221.2" rx="3" ry="6" fill="#000" fill-opacity="0.55"/><ellipse cx="579.5" cy="203" rx="13" ry="5.2" fill="#000" fill-opacity="0.58" transform="rotate(-56 579.5 203)"/><ellipse cx="580.5" cy="201.5" rx="4.5" ry="2.2" fill="#000" fill-opacity="0.62" transform="rotate(-56 580.5 201.5)"/><ellipse cx="580.5" cy="201.5" rx="2.025" ry="0.9900000000000001" fill="#000" fill-opacity="0.97" transform="rotate(-56 580.5 201.5)"/><ellipse cx="592" cy="180.6" rx="4" ry="4" fill="#000" fill-opacity="0.55"/><ellipse cx="581.6" cy="218.8" rx="3" ry="3" fill="#000" fill-opacity="0.55"/><ellipse cx="598" cy="170.3" rx="3" ry="3" fill="#000" fill-opacity="0.55"/><ellipse cx="566" cy="245" rx="2.8" ry="2.8" fill="#000" fill-opacity="0.3"/><ellipse cx="423.4" cy="232.4" rx="4.6" ry="5.6" fill="#000" fill-opacity="0.62"/><ellipse cx="423.4" cy="232.4" rx="2.07" ry="2.52" fill="#000" fill-opacity="0.97"/><ellipse cx="491.7" cy="255.3" rx="4" ry="4" fill="#000" fill-opacity="0.55"/><ellipse cx="500" cy="251" rx="3" ry="5" fill="#000" fill-opacity="0.55"/><ellipse cx="507.2" cy="256.3" rx="4" ry="7" fill="#000" fill-opacity="0.58" transform="rotate(30 507.2 256.3)"/><ellipse cx="484.6" cy="261.5" rx="3" ry="3" fill="#000" fill-opacity="0.55"/><ellipse cx="530" cy="271" rx="5" ry="7.5" fill="#000" fill-opacity="0.62"/><ellipse cx="530" cy="271" rx="2.25" ry="3.375" fill="#000" fill-opacity="0.97"/><ellipse cx="533" cy="265.6" rx="3.5" ry="3.5" fill="#000" fill-opacity="0.55"/><ellipse cx="535" cy="279" rx="5" ry="7" fill="#000" fill-opacity="0.62"/><ellipse cx="535" cy="279" rx="2.25" ry="3.15" fill="#000" fill-opacity="0.97"/><ellipse cx="546.5" cy="296.5" rx="4" ry="6" fill="#000" fill-opacity="0.62" transform="rotate(30 546.5 296.5)"/><ellipse cx="546.5" cy="296.5" rx="1.8" ry="2.7" fill="#000" fill-opacity="0.97" transform="rotate(30 546.5 296.5)"/><ellipse cx="567.8" cy="268.8" rx="3" ry="3" fill="#000" fill-opacity="0.55"/><ellipse cx="575" cy="280.5" rx="5" ry="4.5" fill="#000" fill-opacity="0.55"/><ellipse cx="589" cy="281" rx="3" ry="3" fill="#000" fill-opacity="0.55"/><ellipse cx="603.2" cy="240.8" rx="4" ry="7.5" fill="#000" fill-opacity="0.62" transform="rotate(15 603.2 240.8)"/><ellipse cx="603.2" cy="240.8" rx="1.8" ry="3.375" fill="#000" fill-opacity="0.97" transform="rotate(15 603.2 240.8)"/><ellipse cx="617.7" cy="232.6" rx="4" ry="4" fill="#000" fill-opacity="0.55"/><ellipse cx="618.5" cy="272.8" rx="5" ry="7" fill="#000" fill-opacity="0.62"/><ellipse cx="618.5" cy="272.8" rx="2.25" ry="3.15" fill="#000" fill-opacity="0.97"/><ellipse cx="633.5" cy="296.5" rx="2.5" ry="2.5" fill="#000" fill-opacity="0.55"/><ellipse cx="605.3" cy="163.4" rx="3" ry="3" fill="#000" fill-opacity="0.55"/><ellipse cx="610.5" cy="174.8" rx="4" ry="6" fill="#000" fill-opacity="0.55"/><ellipse cx="615.6" cy="179" rx="4" ry="4" fill="#000" fill-opacity="0.55"/><ellipse cx="616.6" cy="188.2" rx="2.5" ry="2.5" fill="#000" fill-opacity="0.62"/><ellipse cx="616.6" cy="188.2" rx="1.125" ry="1.125" fill="#000" fill-opacity="0.97"/><ellipse cx="602.2" cy="195.4" rx="4" ry="4" fill="#000" fill-opacity="0.55"/><ellipse cx="598" cy="176" rx="3" ry="5" fill="#000" fill-opacity="0.55"/><ellipse cx="634.2" cy="168.6" rx="4.5" ry="5.8" fill="#000" fill-opacity="0.62" transform="rotate(-30 634.2 168.6)"/><ellipse cx="634.2" cy="168.6" rx="2.025" ry="2.61" fill="#000" fill-opacity="0.97" transform="rotate(-30 634.2 168.6)"/><ellipse cx="645.6" cy="154" rx="2.5" ry="2.5" fill="#000" fill-opacity="0.55"/><ellipse cx="626" cy="159.3" rx="2" ry="2" fill="#000" fill-opacity="0.55"/><ellipse cx="620.8" cy="153" rx="3" ry="3" fill="#000" fill-opacity="0.55"/><ellipse cx="606.5" cy="166.6" rx="3.5" ry="3.5" fill="#000" fill-opacity="0.55"/><ellipse cx="620.7" cy="157.8" rx="3" ry="3" fill="#000" fill-opacity="0.55"/><ellipse cx="624" cy="166.6" rx="3" ry="3" fill="#000" fill-opacity="0.55"/><ellipse cx="580" cy="165" rx="3" ry="3" fill="#000" fill-opacity="0.55"/><ellipse cx="533" cy="170" rx="3.5" ry="7" fill="#000" fill-opacity="0.55"/><ellipse cx="535" cy="185" rx="3.5" ry="7" fill="#000" fill-opacity="0.55"/><ellipse cx="536.5" cy="199" rx="4" ry="6" fill="#000" fill-opacity="0.55"/><ellipse cx="539.5" cy="214" rx="3.5" ry="6" fill="#000" fill-opacity="0.55"/><ellipse cx="510" cy="222" rx="6" ry="5" fill="#000" fill-opacity="0.55"/><ellipse cx="507" cy="214" rx="4.5" ry="4" fill="#000" fill-opacity="0.55"/><ellipse cx="612" cy="150" rx="3.5" ry="6" fill="#000" fill-opacity="0.55"/><ellipse cx="611" cy="140" rx="3" ry="5" fill="#000" fill-opacity="0.55"/></g><g fill="#e8262d"><circle cx="520.0" cy="65.8" r="1.2"/><circle cx="616.0" cy="77.2" r="1.2"/><circle cx="578.0" cy="107.7" r="1.2"/><circle cx="581.6" cy="106.8" r="1.2"/><circle cx="572.4" cy="116.5" r="1.2"/><circle cx="542.7" cy="122.7" r="1.2"/><circle cx="562.0" cy="126.3" r="1.2"/><circle cx="556.0" cy="131.6" r="1.2"/><circle cx="423.4" cy="173.0" r="1.2"/><circle cx="518.5" cy="130.0" r="1.2"/><circle cx="531.5" cy="136.8" r="1.2"/><circle cx="530.0" cy="142.0" r="1.2"/><circle cx="470.0" cy="184.8" r="1.2"/><circle cx="485.5" cy="180.6" r="1.2"/><circle cx="470.0" cy="211.6" r="1.2"/><circle cx="493.7" cy="210.6" r="1.2"/><circle cx="577.5" cy="182.7" r="1.2"/><circle cx="556.8" cy="186.8" r="1.2"/><circle cx="560.0" cy="185.8" r="1.2"/><circle cx="573.4" cy="244.0" r="1.2"/><circle cx="586.8" cy="223.3" r="1.2"/><circle cx="457.0" cy="232.4" r="2.3"/><circle cx="466.8" cy="261.3" r="1.2"/><circle cx="476.0" cy="270.6" r="1.2"/><circle cx="464.7" cy="277.8" r="1.2"/><circle cx="479.0" cy="266.5" r="1.2"/><circle cx="479.3" cy="266.6" r="1.2"/><circle cx="476.2" cy="270.7" r="1.2"/><circle cx="516.5" cy="253.2" r="1.2"/><circle cx="544.5" cy="265.6" r="1.2"/><circle cx="536.0" cy="230.5" r="1.2"/><circle cx="535.0" cy="235.6" r="1.2"/><circle cx="538.0" cy="236.7" r="1.2"/><circle cx="506.5" cy="298.0" r="1.2"/><circle cx="563.4" cy="279.9" r="1.2"/><circle cx="615.6" cy="221.2" r="1.2"/><circle cx="614.5" cy="281.0" r="1.2"/><circle cx="612.5" cy="281.0" r="1.2"/><circle cx="637.9" cy="281.9" r="1.2"/><circle cx="655.4" cy="283.4" r="1.2"/><circle cx="661.2" cy="280.4" r="1.2"/><circle cx="642.5" cy="171.7" r="1.2"/><circle cx="637.3" cy="193.8" r="1.2"/><circle cx="629.0" cy="208.8" r="1.2"/><circle cx="631.0" cy="212.0" r="1.2"/><circle cx="626.0" cy="202.7" r="1.2"/><circle cx="544.0" cy="266.0" r="1.2"/></g><line x1="522.6" y1="44.6" x2="522.6" y2="160" stroke="#151515" stroke-width="1.4"/><line x1="601.6" y1="31.8" x2="601.6" y2="107" stroke="#151515" stroke-width="1.4"/><line x1="567.6" y1="76" x2="633" y2="76" stroke="#151515" stroke-width="1.4"/><line x1="567.4" y1="76" x2="567.4" y2="227" stroke="#151515" stroke-width="2.0"/><line x1="633" y1="76" x2="633" y2="142.5" stroke="#151515" stroke-width="1.4"/><line x1="556.6" y1="108.3" x2="601.6" y2="108.3" stroke="#151515" stroke-width="1.4"/><line x1="556.6" y1="108.3" x2="556.6" y2="144" stroke="#151515" stroke-width="1.4"/><line x1="459.6" y1="143.9" x2="567.4" y2="143.9" stroke="#151515" stroke-width="1.8"/><line x1="459.6" y1="143.9" x2="459.6" y2="164" stroke="#151515" stroke-width="1.4"/><line x1="459.6" y1="164" x2="530" y2="164" stroke="#151515" stroke-width="1.4"/><line x1="584" y1="132.4" x2="646.4" y2="132.4" stroke="#151515" stroke-width="1.4"/><line x1="584" y1="133.8" x2="617.5" y2="133.8" stroke="#151515" stroke-width="1.4"/><line x1="646.4" y1="132.4" x2="646.4" y2="153.8" stroke="#151515" stroke-width="1.4"/><line x1="646.4" y1="153.8" x2="666" y2="153.8" stroke="#151515" stroke-width="1.4"/><line x1="567.4" y1="142.5" x2="633" y2="142.5" stroke="#151515" stroke-width="1.4"/><line x1="602.7" y1="124.5" x2="602.7" y2="233.6" stroke="#151515" stroke-width="1.4"/><line x1="617.5" y1="124.5" x2="617.5" y2="183" stroke="#151515" stroke-width="1.4"/><line x1="602.7" y1="124.5" x2="617.5" y2="124.5" stroke="#151515" stroke-width="1.4"/><line x1="604.3" y1="124.5" x2="604.3" y2="183" stroke="#151515" stroke-width="1.4"/><line x1="618.2" y1="183" x2="618.2" y2="272" stroke="#151515" stroke-width="1.4"/><line x1="522" y1="155.2" x2="615.5" y2="155.2" stroke="#8a8a8a" stroke-width="1.0"/><line x1="523.6" y1="160.8" x2="578.4" y2="160.8" stroke="#151515" stroke-width="1.4"/><line x1="528.3" y1="165.3" x2="578.4" y2="165.3" stroke="#151515" stroke-width="1.4"/><line x1="578.4" y1="160.8" x2="578.4" y2="172.4" stroke="#151515" stroke-width="1.4"/><line x1="537.8" y1="172.4" x2="578.4" y2="172.4" stroke="#151515" stroke-width="1.4"/><line x1="537.8" y1="172.4" x2="537.8" y2="194.8" stroke="#151515" stroke-width="1.4"/><line x1="542.3" y1="174.5" x2="542.3" y2="304" stroke="#151515" stroke-width="1.4"/><line x1="423.4" y1="174.7" x2="542.3" y2="174.7" stroke="#151515" stroke-width="1.4"/><line x1="423.4" y1="174.7" x2="423.4" y2="234" stroke="#151515" stroke-width="1.4"/><line x1="423.4" y1="234" x2="466.8" y2="234" stroke="#151515" stroke-width="1.4"/><line x1="466.8" y1="227" x2="466.8" y2="234" stroke="#151515" stroke-width="1.4"/><line x1="466.8" y1="227" x2="568.2" y2="227" stroke="#151515" stroke-width="1.4"/><line x1="476.2" y1="192" x2="567.4" y2="192" stroke="#151515" stroke-width="1.4"/><line x1="476.2" y1="218.3" x2="523.6" y2="218.3" stroke="#151515" stroke-width="1.4"/><line x1="476.2" y1="192" x2="476.2" y2="218.2" stroke="#151515" stroke-width="1.4"/><line x1="572.3" y1="185" x2="616.6" y2="185" stroke="#151515" stroke-width="1.4"/><line x1="572.3" y1="185" x2="572.3" y2="233.4" stroke="#151515" stroke-width="1.4"/><line x1="572.3" y1="233.4" x2="618.2" y2="233.4" stroke="#151515" stroke-width="1.4"/><line x1="567.4" y1="190.7" x2="618.2" y2="190.7" stroke="#151515" stroke-width="1.4"/><line x1="537.8" y1="194.8" x2="602.7" y2="194.8" stroke="#151515" stroke-width="1.4"/><line x1="488.6" y1="259" x2="488.6" y2="304" stroke="#151515" stroke-width="1.4"/><line x1="488.6" y1="259" x2="525.8" y2="259" stroke="#151515" stroke-width="1.4"/><line x1="525.8" y1="221" x2="525.8" y2="259" stroke="#151515" stroke-width="1.4"/><line x1="527.8" y1="219" x2="527.8" y2="271.8" stroke="#151515" stroke-width="1.4"/><line x1="520.6" y1="221.2" x2="568.2" y2="221.2" stroke="#151515" stroke-width="1.4"/><line x1="520.6" y1="221.2" x2="520.6" y2="232.6" stroke="#151515" stroke-width="1.4"/><line x1="520.6" y1="232.6" x2="525.8" y2="232.6" stroke="#151515" stroke-width="1.4"/><line x1="514.4" y1="211.6" x2="514.4" y2="218.2" stroke="#151515" stroke-width="1.4"/><line x1="514.4" y1="211.6" x2="567.4" y2="211.6" stroke="#151515" stroke-width="1.4"/><line x1="528.3" y1="207.8" x2="566" y2="207.8" stroke="#151515" stroke-width="1.4"/><line x1="523.6" y1="160.8" x2="523.6" y2="225" stroke="#151515" stroke-width="1.4"/><line x1="528.3" y1="146" x2="528.3" y2="221" stroke="#151515" stroke-width="1.4"/><line x1="570" y1="150" x2="570" y2="223" stroke="#151515" stroke-width="1.4"/><line x1="528.8" y1="146" x2="556.6" y2="146" stroke="#151515" stroke-width="1.4"/><line x1="524.7" y1="271.8" x2="528.8" y2="271.8" stroke="#151515" stroke-width="1.4"/><line x1="524.7" y1="261.5" x2="524.7" y2="271.8" stroke="#151515" stroke-width="1.4"/><line x1="504" y1="213.3" x2="514" y2="213.3" stroke="#999" stroke-width="0.8" stroke-dasharray="1.5,1.2"/><line x1="580" y1="162.5" x2="586" y2="162.5" stroke="#999" stroke-width="0.8" stroke-dasharray="1.5,1.2"/><text x="531.4" y="53.7" font-family="Liberation Sans" font-size="10.6" fill="#333" text-anchor="middle">43</text><text x="610.8" y="44.300000000000004" font-family="Liberation Sans" font-size="10.6" fill="#333" text-anchor="middle">(24)</text><text x="642" y="72.4" font-family="Liberation Sans" font-size="10.6" fill="#333" text-anchor="middle">15</text><text x="612.2" y="103.10000000000001" font-family="Liberation Sans" font-size="10.6" fill="#333" text-anchor="middle">25</text><text x="576" y="119.3" font-family="Liberation Sans" font-size="10.6" fill="#333" text-anchor="middle">20</text><text x="626.8" y="121.3" font-family="Liberation Sans" font-size="10.6" fill="#333" text-anchor="middle">34</text><text x="655.6" y="130.2" font-family="Liberation Sans" font-size="10.6" fill="#333" text-anchor="middle">40</text><text x="578" y="139.89999999999998" font-family="Liberation Sans" font-size="10.6" fill="#333" text-anchor="middle">41</text><text x="595.3" y="142.2" font-family="Liberation Sans" font-size="10.6" fill="#333" text-anchor="middle">31</text><text x="626.4" y="152.7" font-family="Liberation Sans" font-size="10.6" fill="#333" text-anchor="middle">42</text><text x="654.6" y="166.1" font-family="Liberation Sans" font-size="10.6" fill="#333" text-anchor="middle">(39)</text><text x="453.8" y="141.6" font-family="Liberation Sans" font-size="10.6" fill="#333" text-anchor="middle">14</text><text x="496.8" y="162.0" font-family="Liberation Sans" font-size="10.6" fill="#333" text-anchor="middle">13</text><text x="516" y="162.7" font-family="Liberation Sans" font-size="10.6" fill="#333" text-anchor="middle">28</text><text x="549.8" y="153.5" font-family="Liberation Sans" font-size="10.6" fill="#333" text-anchor="middle">26</text><text x="592.2" y="166.5" font-family="Liberation Sans" font-size="10.6" fill="#333" text-anchor="middle">12</text><text x="549.6" y="181.7" font-family="Liberation Sans" font-size="10.6" fill="#333" text-anchor="middle">9</text><text x="588" y="179.0" font-family="Liberation Sans" font-size="10.6" fill="#333" text-anchor="middle">29</text><text x="626" y="190.7" font-family="Liberation Sans" font-size="10.6" fill="#333" text-anchor="middle">32</text><text x="472" y="184.29999999999998" font-family="Liberation Sans" font-size="10.6" fill="#333" text-anchor="middle">4</text><text x="510.3" y="207.7" font-family="Liberation Sans" font-size="10.6" fill="#333" text-anchor="middle">19</text><text x="501.2" y="216.1" font-family="Liberation Sans" font-size="10.6" fill="#333" text-anchor="middle">3</text><text x="535" y="206.7" font-family="Liberation Sans" font-size="10.6" fill="#333" text-anchor="middle">30</text><text x="533.5" y="219.7" font-family="Liberation Sans" font-size="10.6" fill="#333" text-anchor="middle">18</text><text x="560" y="219.7" font-family="Liberation Sans" font-size="10.6" fill="#333" text-anchor="middle">16</text><text x="462.6" y="224.7" font-family="Liberation Sans" font-size="10.6" fill="#333" text-anchor="middle">11</text><text x="417.8" y="244.0" font-family="Liberation Sans" font-size="10.6" fill="#333" text-anchor="middle">10</text><text x="512.5" y="241.2" font-family="Liberation Sans" font-size="10.6" fill="#333" text-anchor="middle">17</text><text x="563" y="240.2" font-family="Liberation Sans" font-size="10.6" fill="#333" text-anchor="middle">33</text><text x="595" y="247.7" font-family="Liberation Sans" font-size="10.6" fill="#333" text-anchor="middle">35</text><text x="483.2" y="256.7" font-family="Liberation Sans" font-size="10.6" fill="#333" text-anchor="middle">2</text><text x="625.4" y="281.0" font-family="Liberation Sans" font-size="10.6" fill="#333" text-anchor="middle">5</text><text x="520.2" y="285.2" font-family="Liberation Sans" font-size="10.6" fill="#333" text-anchor="middle">27</text><text x="496.9" y="300.3" font-family="Liberation Sans" font-size="10.6" fill="#333" text-anchor="middle">(1)</text><text x="533.6" y="299.5" font-family="Liberation Sans" font-size="10.6" fill="#333" text-anchor="middle">(8)</text>
<text x="1" y="12.2" font-family="Liberation Serif" font-weight="bold" font-size="17" fill="#222">(a)</text>
<text x="118" y="12.2" font-family="Liberation Serif" font-weight="bold" font-size="17" fill="#222">(b)</text>
<text x="410" y="12.2" font-family="Liberation Serif" font-weight="bold" font-size="17" fill="#222">(c)</text>
<text x="5.0" y="38.2" font-family="Liberation Sans" font-size="8.0" fill="#505050" text-anchor="start">5'</text>
<text x="13.5" y="43.3" font-family="Liberation Sans" font-weight="bold" font-size="8.2" text-anchor="middle" fill="#2c2c2c" stroke="#2c2c2c" stroke-width="0.22" transform="translate(13.5,0) scale(0.85,1) translate(-13.5,0)">U</text>
<text x="30.4" y="43.3" font-family="Liberation Sans" font-weight="bold" font-size="8.2" text-anchor="middle" fill="#2c2c2c" stroke="#2c2c2c" stroke-width="0.22" transform="translate(30.4,0) scale(0.85,1) translate(-30.4,0)">G</text>
<circle cx="21.9" cy="40.2" r="1.25" fill="#2c2c2c"/>
<text x="32.8" y="38.2" font-family="Liberation Sans" font-size="8.0" fill="#505050" text-anchor="start">3'</text>
<text x="13.6" y="53.6" font-family="Liberation Sans" font-weight="bold" font-size="8.2" text-anchor="middle" fill="#2c2c2c" stroke="#2c2c2c" stroke-width="0.22" transform="translate(13.6,0) scale(0.85,1) translate(-13.6,0)">C</text>
<text x="30.4" y="53.6" font-family="Liberation Sans" font-weight="bold" font-size="8.2" text-anchor="middle" fill="#2c2c2c" stroke="#2c2c2c" stroke-width="0.22" transform="translate(30.4,0) scale(0.85,1) translate(-30.4,0)">G</text>
<line x1="19.3" y1="50.5" x2="24.5" y2="50.5" stroke="#8a8a8a" stroke-width="0.9"/>
<text x="13.6" y="63.9" font-family="Liberation Sans" font-weight="bold" font-size="8.2" text-anchor="middle" fill="#2c2c2c" stroke="#2c2c2c" stroke-width="0.22" transform="translate(13.6,0) scale(0.85,1) translate(-13.6,0)">C</text>
<text x="30.4" y="63.9" font-family="Liberation Sans" font-weight="bold" font-size="8.2" text-anchor="middle" fill="#2c2c2c" stroke="#2c2c2c" stroke-width="0.22" transform="translate(30.4,0) scale(0.85,1) translate(-30.4,0)">G</text>
<line x1="19.3" y1="60.8" x2="24.5" y2="60.8" stroke="#8a8a8a" stroke-width="0.9"/>
<text x="13.7" y="73.7" font-family="Liberation Sans" font-weight="bold" font-size="8.2" text-anchor="middle" fill="#2c2c2c" stroke="#2c2c2c" stroke-width="0.22" transform="translate(13.7,0) scale(0.85,1) translate(-13.7,0)">U</text>
<text x="30.4" y="73.7" font-family="Liberation Sans" font-weight="bold" font-size="8.2" text-anchor="middle" fill="#2c2c2c" stroke="#2c2c2c" stroke-width="0.22" transform="translate(30.4,0) scale(0.85,1) translate(-30.4,0)">A</text>
<line x1="19.3" y1="70.6" x2="24.5" y2="70.6" stroke="#8a8a8a" stroke-width="0.9"/>
<text x="33.6" y="73.3" font-family="Liberation Sans" font-size="8.0" fill="#505050" text-anchor="start">40</text>
<rect x="3.2" y="75.6" width="38.1" height="54.1" fill="none" stroke="#5cc46e" stroke-width="0.9"/>
<text x="3.6" y="83.5" font-family="Liberation Sans" font-size="8.0" fill="#505050" text-anchor="start">5</text>
<text x="13.7" y="83.9" font-family="Liberation Sans" font-weight="bold" font-size="8.2" text-anchor="middle" fill="#2aa84a" stroke="#2aa84a" stroke-width="0.22" transform="translate(13.7,0) scale(0.85,1) translate(-13.7,0)">U</text>
<text x="30.4" y="83.9" font-family="Liberation Sans" font-weight="bold" font-size="8.2" text-anchor="middle" fill="#2aa84a" stroke="#2aa84a" stroke-width="0.22" transform="translate(30.4,0) scale(0.85,1) translate(-30.4,0)">G</text>
<circle cx="21.9" cy="80.8" r="1.25" fill="#2aa84a"/>
<line x1="14" y1="87.5" x2="14" y2="95" stroke="#7cc88f" stroke-width="0.9"/>
<text x="29.5" y="92.8" font-family="Liberation Sans" font-weight="bold" font-size="8.2" text-anchor="middle" fill="#2aa84a" stroke="#2aa84a" stroke-width="0.22" transform="translate(29.5,0) scale(0.85,1) translate(-29.5,0)">A</text>
<text x="37.2" y="97.1" font-family="Liberation Sans" font-weight="bold" font-size="8.2" text-anchor="middle" fill="#2aa84a" stroke="#2aa84a" stroke-width="0.22" transform="translate(37.2,0) scale(0.85,1) translate(-37.2,0)">A</text>
<text x="13.8" y="105.5" font-family="Liberation Sans" font-weight="bold" font-size="8.2" text-anchor="middle" fill="#2aa84a" stroke="#2aa84a" stroke-width="0.22" transform="translate(13.8,0) scale(0.85,1) translate(-13.8,0)">A</text>
<text x="30.4" y="105.5" font-family="Liberation Sans" font-weight="bold" font-size="8.2" text-anchor="middle" fill="#2aa84a" stroke="#2aa84a" stroke-width="0.22" transform="translate(30.4,0) scale(0.85,1) translate(-30.4,0)">U</text>
<circle cx="21.9" cy="102.4" r="1.25" fill="#2aa84a"/>
<text x="6.2" y="111.4" font-family="Liberation Sans" font-weight="bold" font-size="8.2" text-anchor="middle" fill="#2aa84a" stroke="#2aa84a" stroke-width="0.22" transform="translate(6.2,0) scale(0.85,1) translate(-6.2,0)">U</text>
<text x="13.9" y="117.3" font-family="Liberation Sans" font-weight="bold" font-size="8.2" text-anchor="middle" fill="#2aa84a" stroke="#2aa84a" stroke-width="0.22" transform="translate(13.9,0) scale(0.85,1) translate(-13.9,0)">G</text>
<text x="30.4" y="117.3" font-family="Liberation Sans" font-weight="bold" font-size="8.2" text-anchor="middle" fill="#2aa84a" stroke="#2aa84a" stroke-width="0.22" transform="translate(30.4,0) scale(0.85,1) translate(-30.4,0)">C</text>
<line x1="19.3" y1="114.2" x2="24.5" y2="114.2" stroke="#7cc88f" stroke-width="0.9"/>
<text x="33.6" y="115.9" font-family="Liberation Sans" font-size="8.0" fill="#505050" text-anchor="start">35</text>
<text x="13.9" y="128.3" font-family="Liberation Sans" font-weight="bold" font-size="8.2" text-anchor="middle" fill="#2aa84a" stroke="#2aa84a" stroke-width="0.22" transform="translate(13.9,0) scale(0.85,1) translate(-13.9,0)">G</text>
<text x="30.4" y="128.3" font-family="Liberation Sans" font-weight="bold" font-size="8.2" text-anchor="middle" fill="#2aa84a" stroke="#2aa84a" stroke-width="0.22" transform="translate(30.4,0) scale(0.85,1) translate(-30.4,0)">C</text>
<line x1="19.3" y1="125.2" x2="24.5" y2="125.2" stroke="#7cc88f" stroke-width="0.9"/>
<text x="2.5" y="138.0" font-family="Liberation Sans" font-size="8.0" fill="#505050" text-anchor="start">10</text>
<text x="14.0" y="138.4" font-family="Liberation Sans" font-weight="bold" font-size="8.2" text-anchor="middle" fill="#2c2c2c" stroke="#2c2c2c" stroke-width="0.22" transform="translate(14.0,0) scale(0.85,1) translate(-14.0,0)">A</text>
<text x="30.4" y="138.4" font-family="Liberation Sans" font-weight="bold" font-size="8.2" text-anchor="middle" fill="#2c2c2c" stroke="#2c2c2c" stroke-width="0.22" transform="translate(30.4,0) scale(0.85,1) translate(-30.4,0)">U</text>
<line x1="19.3" y1="135.3" x2="24.5" y2="135.3" stroke="#8a8a8a" stroke-width="0.9"/>
<text x="14.0" y="148.6" font-family="Liberation Sans" font-weight="bold" font-size="8.2" text-anchor="middle" fill="#2c2c2c" stroke="#2c2c2c" stroke-width="0.22" transform="translate(14.0,0) scale(0.85,1) translate(-14.0,0)">A</text>
<text x="30.4" y="148.6" font-family="Liberation Sans" font-weight="bold" font-size="8.2" text-anchor="middle" fill="#2c2c2c" stroke="#2c2c2c" stroke-width="0.22" transform="translate(30.4,0) scale(0.85,1) translate(-30.4,0)">U</text>
<line x1="19.3" y1="145.5" x2="24.5" y2="145.5" stroke="#8a8a8a" stroke-width="0.9"/>
<text x="14.1" y="158.9" font-family="Liberation Sans" font-weight="bold" font-size="8.2" text-anchor="middle" fill="#2c2c2c" stroke="#2c2c2c" stroke-width="0.22" transform="translate(14.1,0) scale(0.85,1) translate(-14.1,0)">G</text>
<text x="30.4" y="158.9" font-family="Liberation Sans" font-weight="bold" font-size="8.2" text-anchor="middle" fill="#2c2c2c" stroke="#2c2c2c" stroke-width="0.22" transform="translate(30.4,0) scale(0.85,1) translate(-30.4,0)">C</text>
<line x1="19.3" y1="155.8" x2="24.5" y2="155.8" stroke="#8a8a8a" stroke-width="0.9"/>
<text x="14.1" y="168.7" font-family="Liberation Sans" font-weight="bold" font-size="8.2" text-anchor="middle" fill="#2c2c2c" stroke="#2c2c2c" stroke-width="0.22" transform="translate(14.1,0) scale(0.85,1) translate(-14.1,0)">A</text>
<text x="30.4" y="168.7" font-family="Liberation Sans" font-weight="bold" font-size="8.2" text-anchor="middle" fill="#2c2c2c" stroke="#2c2c2c" stroke-width="0.22" transform="translate(30.4,0) scale(0.85,1) translate(-30.4,0)">U</text>
<line x1="19.3" y1="165.6" x2="24.5" y2="165.6" stroke="#8a8a8a" stroke-width="0.9"/>
<text x="33.6" y="168.3" font-family="Liberation Sans" font-size="8.0" fill="#505050" text-anchor="start">30</text>
<text x="14.2" y="178.9" font-family="Liberation Sans" font-weight="bold" font-size="8.2" text-anchor="middle" fill="#2c2c2c" stroke="#2c2c2c" stroke-width="0.22" transform="translate(14.2,0) scale(0.85,1) translate(-14.2,0)">A</text>
<text x="30.4" y="178.9" font-family="Liberation Sans" font-weight="bold" font-size="8.2" text-anchor="middle" fill="#2c2c2c" stroke="#2c2c2c" stroke-width="0.22" transform="translate(30.4,0) scale(0.85,1) translate(-30.4,0)">U</text>
<line x1="19.3" y1="175.8" x2="24.5" y2="175.8" stroke="#8a8a8a" stroke-width="0.9"/>
<text x="2.5" y="188.9" font-family="Liberation Sans" font-size="8.0" fill="#505050" text-anchor="start">15</text>
<text x="14.2" y="189.3" font-family="Liberation Sans" font-weight="bold" font-size="8.2" text-anchor="middle" fill="#2c2c2c" stroke="#2c2c2c" stroke-width="0.22" transform="translate(14.2,0) scale(0.85,1) translate(-14.2,0)">C</text>
<text x="30.4" y="189.3" font-family="Liberation Sans" font-weight="bold" font-size="8.2" text-anchor="middle" fill="#2c2c2c" stroke="#2c2c2c" stroke-width="0.22" transform="translate(30.4,0) scale(0.85,1) translate(-30.4,0)">G</text>
<line x1="19.3" y1="186.2" x2="24.5" y2="186.2" stroke="#8a8a8a" stroke-width="0.9"/>
<text x="14.3" y="199.6" font-family="Liberation Sans" font-weight="bold" font-size="8.2" text-anchor="middle" fill="#2c2c2c" stroke="#2c2c2c" stroke-width="0.22" transform="translate(14.3,0) scale(0.85,1) translate(-14.3,0)">C</text>
<text x="30.4" y="199.6" font-family="Liberation Sans" font-weight="bold" font-size="8.2" text-anchor="middle" fill="#2c2c2c" stroke="#2c2c2c" stroke-width="0.22" transform="translate(30.4,0) scale(0.85,1) translate(-30.4,0)">G</text>
<line x1="19.3" y1="196.5" x2="24.5" y2="196.5" stroke="#8a8a8a" stroke-width="0.9"/>
<text x="14.3" y="209.9" font-family="Liberation Sans" font-weight="bold" font-size="8.2" text-anchor="middle" fill="#2c2c2c" stroke="#2c2c2c" stroke-width="0.22" transform="translate(14.3,0) scale(0.85,1) translate(-14.3,0)">G</text>
<text x="30.4" y="209.9" font-family="Liberation Sans" font-weight="bold" font-size="8.2" text-anchor="middle" fill="#2c2c2c" stroke="#2c2c2c" stroke-width="0.22" transform="translate(30.4,0) scale(0.85,1) translate(-30.4,0)">U</text>
<circle cx="21.9" cy="206.8" r="1.25" fill="#2c2c2c"/>
<text x="14.4" y="219.7" font-family="Liberation Sans" font-weight="bold" font-size="8.2" text-anchor="middle" fill="#2c2c2c" stroke="#2c2c2c" stroke-width="0.22" transform="translate(14.4,0) scale(0.85,1) translate(-14.4,0)">G</text>
<text x="30.4" y="219.7" font-family="Liberation Sans" font-weight="bold" font-size="8.2" text-anchor="middle" fill="#2c2c2c" stroke="#2c2c2c" stroke-width="0.22" transform="translate(30.4,0) scale(0.85,1) translate(-30.4,0)">U</text>
<circle cx="21.9" cy="216.6" r="1.25" fill="#2c2c2c"/>
<text x="34.5" y="219.3" font-family="Liberation Sans" font-size="8.0" fill="#505050" text-anchor="start">25</text>
<text x="14.4" y="230.3" font-family="Liberation Sans" font-weight="bold" font-size="8.2" text-anchor="middle" fill="#2c2c2c" stroke="#2c2c2c" stroke-width="0.22" transform="translate(14.4,0) scale(0.85,1) translate(-14.4,0)">G</text>
<text x="30.4" y="230.3" font-family="Liberation Sans" font-weight="bold" font-size="8.2" text-anchor="middle" fill="#2c2c2c" stroke="#2c2c2c" stroke-width="0.22" transform="translate(30.4,0) scale(0.85,1) translate(-30.4,0)">C</text>
<line x1="19.3" y1="227.2" x2="24.5" y2="227.2" stroke="#8a8a8a" stroke-width="0.9"/>
<rect x="9.6" y="231.1" width="25.8" height="18" fill="none" stroke="#ee5a5e" stroke-width="0.9"/>
<text x="0.5" y="239.2" font-family="Liberation Sans" font-size="8.0" fill="#505050" text-anchor="start">20</text>
<text x="14.3" y="240.4" font-family="Liberation Sans" font-weight="bold" font-size="8.2" text-anchor="middle" fill="#e8262d" stroke="#e8262d" stroke-width="0.22" transform="translate(14.3,0) scale(0.85,1) translate(-14.3,0)">G</text>
<circle cx="21.8" cy="237.3" r="1.25" fill="#e8262d"/>
<text x="30.2" y="240.4" font-family="Liberation Sans" font-weight="bold" font-size="8.2" text-anchor="middle" fill="#e8262d" stroke="#e8262d" stroke-width="0.22" transform="translate(30.2,0) scale(0.85,1) translate(-30.2,0)">A</text>
<text x="18.7" y="247.5" font-family="Liberation Sans" font-weight="bold" font-size="8.2" text-anchor="middle" fill="#e8262d" stroke="#e8262d" stroke-width="0.22" transform="translate(18.7,0) scale(0.85,1) translate(-18.7,0)">A</text>
<text x="25.4" y="247.5" font-family="Liberation Sans" font-weight="bold" font-size="8.2" text-anchor="middle" fill="#e8262d" stroke="#e8262d" stroke-width="0.22" transform="translate(25.4,0) scale(0.85,1) translate(-25.4,0)">A</text>
<rect x="50.3" y="108.8" width="26.3" height="18.3" fill="none" stroke="#ee5a5e" stroke-width="0.9"/>
<text x="60.9" y="117.5" font-family="Liberation Sans" font-weight="bold" font-size="8.2" text-anchor="middle" fill="#e8262d" stroke="#e8262d" stroke-width="0.22" transform="translate(60.9,0) scale(0.85,1) translate(-60.9,0)">A</text>
<text x="66.9" y="117.5" font-family="Liberation Sans" font-weight="bold" font-size="8.2" text-anchor="middle" fill="#e8262d" stroke="#e8262d" stroke-width="0.22" transform="translate(66.9,0) scale(0.85,1) translate(-66.9,0)">A</text>
<text x="55.6" y="125.8" font-family="Liberation Sans" font-weight="bold" font-size="8.2" text-anchor="middle" fill="#e8262d" stroke="#e8262d" stroke-width="0.22" transform="translate(55.6,0) scale(0.85,1) translate(-55.6,0)">G</text>
<circle cx="63.0" cy="122.7" r="1.25" fill="#e8262d"/>
<text x="71.9" y="125.8" font-family="Liberation Sans" font-weight="bold" font-size="8.2" text-anchor="middle" fill="#e8262d" stroke="#e8262d" stroke-width="0.22" transform="translate(71.9,0) scale(0.85,1) translate(-71.9,0)">A</text>
<text x="42.0" y="126.2" font-family="Liberation Sans" font-size="8.0" fill="#505050" text-anchor="start">20</text>
<text x="55.8" y="136.0" font-family="Liberation Sans" font-weight="bold" font-size="8.2" text-anchor="middle" fill="#2c2c2c" stroke="#2c2c2c" stroke-width="0.22" transform="translate(55.8,0) scale(0.85,1) translate(-55.8,0)">G</text>
<text x="71.5" y="136.0" font-family="Liberation Sans" font-weight="bold" font-size="8.2" text-anchor="middle" fill="#2c2c2c" stroke="#2c2c2c" stroke-width="0.22" transform="translate(71.5,0) scale(0.85,1) translate(-71.5,0)">C</text>
<line x1="60.8" y1="132.9" x2="66.0" y2="132.9" stroke="#8a8a8a" stroke-width="0.9"/>
<text x="55.8" y="146.1" font-family="Liberation Sans" font-weight="bold" font-size="8.2" text-anchor="middle" fill="#2c2c2c" stroke="#2c2c2c" stroke-width="0.22" transform="translate(55.8,0) scale(0.85,1) translate(-55.8,0)">G</text>
<text x="71.5" y="146.1" font-family="Liberation Sans" font-weight="bold" font-size="8.2" text-anchor="middle" fill="#2c2c2c" stroke="#2c2c2c" stroke-width="0.22" transform="translate(71.5,0) scale(0.85,1) translate(-71.5,0)">U</text>
<circle cx="63.4" cy="143.0" r="1.25" fill="#2c2c2c"/>
<text x="75.6" y="145.7" font-family="Liberation Sans" font-size="8.0" fill="#505050" text-anchor="start">25</text>
<text x="55.8" y="156.3" font-family="Liberation Sans" font-weight="bold" font-size="8.2" text-anchor="middle" fill="#2c2c2c" stroke="#2c2c2c" stroke-width="0.22" transform="translate(55.8,0) scale(0.85,1) translate(-55.8,0)">G</text>
<text x="71.5" y="156.3" font-family="Liberation Sans" font-weight="bold" font-size="8.2" text-anchor="middle" fill="#2c2c2c" stroke="#2c2c2c" stroke-width="0.22" transform="translate(71.5,0) scale(0.85,1) translate(-71.5,0)">U</text>
<circle cx="63.4" cy="153.2" r="1.25" fill="#2c2c2c"/>
<text x="55.8" y="166.4" font-family="Liberation Sans" font-weight="bold" font-size="8.2" text-anchor="middle" fill="#2c2c2c" stroke="#2c2c2c" stroke-width="0.22" transform="translate(55.8,0) scale(0.85,1) translate(-55.8,0)">C</text>
<text x="71.5" y="166.4" font-family="Liberation Sans" font-weight="bold" font-size="8.2" text-anchor="middle" fill="#2c2c2c" stroke="#2c2c2c" stroke-width="0.22" transform="translate(71.5,0) scale(0.85,1) translate(-71.5,0)">G</text>
<line x1="60.8" y1="163.3" x2="66.0" y2="163.3" stroke="#8a8a8a" stroke-width="0.9"/>
<text x="43.8" y="176.2" font-family="Liberation Sans" font-size="8.0" fill="#505050" text-anchor="start">15</text>
<text x="55.8" y="176.6" font-family="Liberation Sans" font-weight="bold" font-size="8.2" text-anchor="middle" fill="#2c2c2c" stroke="#2c2c2c" stroke-width="0.22" transform="translate(55.8,0) scale(0.85,1) translate(-55.8,0)">C</text>
<text x="71.5" y="176.6" font-family="Liberation Sans" font-weight="bold" font-size="8.2" text-anchor="middle" fill="#2c2c2c" stroke="#2c2c2c" stroke-width="0.22" transform="translate(71.5,0) scale(0.85,1) translate(-71.5,0)">G</text>
<line x1="60.8" y1="173.5" x2="66.0" y2="173.5" stroke="#8a8a8a" stroke-width="0.9"/>
<text x="55.8" y="186.7" font-family="Liberation Sans" font-weight="bold" font-size="8.2" text-anchor="middle" fill="#2c2c2c" stroke="#2c2c2c" stroke-width="0.22" transform="translate(55.8,0) scale(0.85,1) translate(-55.8,0)">A</text>
<text x="71.5" y="186.7" font-family="Liberation Sans" font-weight="bold" font-size="8.2" text-anchor="middle" fill="#2c2c2c" stroke="#2c2c2c" stroke-width="0.22" transform="translate(71.5,0) scale(0.85,1) translate(-71.5,0)">U</text>
<line x1="60.8" y1="183.6" x2="66.0" y2="183.6" stroke="#8a8a8a" stroke-width="0.9"/>
<text x="55.8" y="196.6" font-family="Liberation Sans" font-weight="bold" font-size="8.2" text-anchor="middle" fill="#2c2c2c" stroke="#2c2c2c" stroke-width="0.22" transform="translate(55.8,0) scale(0.85,1) translate(-55.8,0)">A</text>
<text x="71.5" y="196.6" font-family="Liberation Sans" font-weight="bold" font-size="8.2" text-anchor="middle" fill="#2c2c2c" stroke="#2c2c2c" stroke-width="0.22" transform="translate(71.5,0) scale(0.85,1) translate(-71.5,0)">U</text>
<line x1="60.8" y1="193.5" x2="66.0" y2="193.5" stroke="#8a8a8a" stroke-width="0.9"/>
<text x="75.6" y="196.1" font-family="Liberation Sans" font-size="8.0" fill="#505050" text-anchor="start">30</text>
<text x="55.8" y="207.1" font-family="Liberation Sans" font-weight="bold" font-size="8.2" text-anchor="middle" fill="#2c2c2c" stroke="#2c2c2c" stroke-width="0.22" transform="translate(55.8,0) scale(0.85,1) translate(-55.8,0)">G</text>
<text x="71.5" y="207.1" font-family="Liberation Sans" font-weight="bold" font-size="8.2" text-anchor="middle" fill="#2c2c2c" stroke="#2c2c2c" stroke-width="0.22" transform="translate(71.5,0) scale(0.85,1) translate(-71.5,0)">C</text>
<line x1="60.8" y1="204.0" x2="66.0" y2="204.0" stroke="#8a8a8a" stroke-width="0.9"/>
<text x="55.8" y="217.9" font-family="Liberation Sans" font-weight="bold" font-size="8.2" text-anchor="middle" fill="#2c2c2c" stroke="#2c2c2c" stroke-width="0.22" transform="translate(55.8,0) scale(0.85,1) translate(-55.8,0)">A</text>
<text x="71.5" y="217.9" font-family="Liberation Sans" font-weight="bold" font-size="8.2" text-anchor="middle" fill="#2c2c2c" stroke="#2c2c2c" stroke-width="0.22" transform="translate(71.5,0) scale(0.85,1) translate(-71.5,0)">U</text>
<line x1="60.8" y1="214.8" x2="66.0" y2="214.8" stroke="#8a8a8a" stroke-width="0.9"/>
<text x="44.2" y="228.0" font-family="Liberation Sans" font-size="8.0" fill="#505050" text-anchor="start">10</text>
<text x="55.8" y="228.4" font-family="Liberation Sans" font-weight="bold" font-size="8.2" text-anchor="middle" fill="#2c2c2c" stroke="#2c2c2c" stroke-width="0.22" transform="translate(55.8,0) scale(0.85,1) translate(-55.8,0)">A</text>
<text x="71.5" y="228.4" font-family="Liberation Sans" font-weight="bold" font-size="8.2" text-anchor="middle" fill="#2c2c2c" stroke="#2c2c2c" stroke-width="0.22" transform="translate(71.5,0) scale(0.85,1) translate(-71.5,0)">U</text>
<line x1="60.8" y1="225.3" x2="66.0" y2="225.3" stroke="#8a8a8a" stroke-width="0.9"/>
<rect x="44.4" y="230.4" width="39" height="51.1" fill="none" stroke="#5cc46e" stroke-width="0.9"/>
<text x="55.8" y="239.1" font-family="Liberation Sans" font-weight="bold" font-size="8.2" text-anchor="middle" fill="#2aa84a" stroke="#2aa84a" stroke-width="0.22" transform="translate(55.8,0) scale(0.85,1) translate(-55.8,0)">G</text>
<text x="71.5" y="239.1" font-family="Liberation Sans" font-weight="bold" font-size="8.2" text-anchor="middle" fill="#2aa84a" stroke="#2aa84a" stroke-width="0.22" transform="translate(71.5,0) scale(0.85,1) translate(-71.5,0)">C</text>
<line x1="60.8" y1="236.0" x2="66.0" y2="236.0" stroke="#7cc88f" stroke-width="0.9"/>
<text x="55.8" y="248.5" font-family="Liberation Sans" font-weight="bold" font-size="8.2" text-anchor="middle" fill="#2aa84a" stroke="#2aa84a" stroke-width="0.22" transform="translate(55.8,0) scale(0.85,1) translate(-55.8,0)">G</text>
<text x="71.5" y="248.5" font-family="Liberation Sans" font-weight="bold" font-size="8.2" text-anchor="middle" fill="#2aa84a" stroke="#2aa84a" stroke-width="0.22" transform="translate(71.5,0) scale(0.85,1) translate(-71.5,0)">C</text>
<line x1="60.8" y1="245.4" x2="66.0" y2="245.4" stroke="#7cc88f" stroke-width="0.9"/>
<text x="75.6" y="246.9" font-family="Liberation Sans" font-size="8.0" fill="#505050" text-anchor="start">35</text>
<text x="49.2" y="253.5" font-family="Liberation Sans" font-weight="bold" font-size="8.2" text-anchor="middle" fill="#2aa84a" stroke="#2aa84a" stroke-width="0.22" transform="translate(49.2,0) scale(0.85,1) translate(-49.2,0)">U</text>
<text x="55.8" y="259.4" font-family="Liberation Sans" font-weight="bold" font-size="8.2" text-anchor="middle" fill="#2aa84a" stroke="#2aa84a" stroke-width="0.22" transform="translate(55.8,0) scale(0.85,1) translate(-55.8,0)">A</text>
<text x="71.5" y="259.4" font-family="Liberation Sans" font-weight="bold" font-size="8.2" text-anchor="middle" fill="#2aa84a" stroke="#2aa84a" stroke-width="0.22" transform="translate(71.5,0) scale(0.85,1) translate(-71.5,0)">U</text>
<circle cx="63.4" cy="256.3" r="1.25" fill="#2aa84a"/>
<line x1="55.6" y1="263.5" x2="55.6" y2="270.5" stroke="#7cc88f" stroke-width="0.9"/>
<text x="69.7" y="270.8" font-family="Liberation Sans" font-weight="bold" font-size="8.2" text-anchor="middle" fill="#2aa84a" stroke="#2aa84a" stroke-width="0.22" transform="translate(69.7,0) scale(0.85,1) translate(-69.7,0)">A</text>
<text x="76.3" y="267.3" font-family="Liberation Sans" font-weight="bold" font-size="8.2" text-anchor="middle" fill="#2aa84a" stroke="#2aa84a" stroke-width="0.22" transform="translate(76.3,0) scale(0.85,1) translate(-76.3,0)">A</text>
<text x="45.4" y="279.2" font-family="Liberation Sans" font-size="8.0" fill="#505050" text-anchor="start">5</text>
<text x="55.8" y="279.6" font-family="Liberation Sans" font-weight="bold" font-size="8.2" text-anchor="middle" fill="#2aa84a" stroke="#2aa84a" stroke-width="0.22" transform="translate(55.8,0) scale(0.85,1) translate(-55.8,0)">U</text>
<text x="71.5" y="279.6" font-family="Liberation Sans" font-weight="bold" font-size="8.2" text-anchor="middle" fill="#2aa84a" stroke="#2aa84a" stroke-width="0.22" transform="translate(71.5,0) scale(0.85,1) translate(-71.5,0)">G</text>
<circle cx="63.4" cy="276.5" r="1.25" fill="#2aa84a"/>
<text x="55.8" y="290.3" font-family="Liberation Sans" font-weight="bold" font-size="8.2" text-anchor="middle" fill="#2c2c2c" stroke="#2c2c2c" stroke-width="0.22" transform="translate(55.8,0) scale(0.85,1) translate(-55.8,0)">A</text>
<text x="71.5" y="290.3" font-family="Liberation Sans" font-weight="bold" font-size="8.2" text-anchor="middle" fill="#2c2c2c" stroke="#2c2c2c" stroke-width="0.22" transform="translate(71.5,0) scale(0.85,1) translate(-71.5,0)">U</text>
<line x1="60.8" y1="287.2" x2="66.0" y2="287.2" stroke="#8a8a8a" stroke-width="0.9"/>
<text x="75.6" y="289.9" font-family="Liberation Sans" font-size="8.0" fill="#505050" text-anchor="start">40</text>
<text x="55.8" y="300.3" font-family="Liberation Sans" font-weight="bold" font-size="8.2" text-anchor="middle" fill="#2c2c2c" stroke="#2c2c2c" stroke-width="0.22" transform="translate(55.8,0) scale(0.85,1) translate(-55.8,0)">G</text>
<text x="71.5" y="300.3" font-family="Liberation Sans" font-weight="bold" font-size="8.2" text-anchor="middle" fill="#2c2c2c" stroke="#2c2c2c" stroke-width="0.22" transform="translate(71.5,0) scale(0.85,1) translate(-71.5,0)">C</text>
<line x1="60.8" y1="297.2" x2="66.0" y2="297.2" stroke="#8a8a8a" stroke-width="0.9"/>
<text x="55.8" y="310.4" font-family="Liberation Sans" font-weight="bold" font-size="8.2" text-anchor="middle" fill="#2c2c2c" stroke="#2c2c2c" stroke-width="0.22" transform="translate(55.8,0) scale(0.85,1) translate(-55.8,0)">G</text>
<text x="71.5" y="310.4" font-family="Liberation Sans" font-weight="bold" font-size="8.2" text-anchor="middle" fill="#2c2c2c" stroke="#2c2c2c" stroke-width="0.22" transform="translate(71.5,0) scale(0.85,1) translate(-71.5,0)">C</text>
<line x1="60.8" y1="307.3" x2="66.0" y2="307.3" stroke="#8a8a8a" stroke-width="0.9"/>
<text x="55.8" y="321.3" font-family="Liberation Sans" font-weight="bold" font-size="8.2" text-anchor="middle" fill="#2c2c2c" stroke="#2c2c2c" stroke-width="0.22" transform="translate(55.8,0) scale(0.85,1) translate(-55.8,0)">G</text>
<text x="71.5" y="321.3" font-family="Liberation Sans" font-weight="bold" font-size="8.2" text-anchor="middle" fill="#2c2c2c" stroke="#2c2c2c" stroke-width="0.22" transform="translate(71.5,0) scale(0.85,1) translate(-71.5,0)">U</text>
<circle cx="63.4" cy="318.2" r="1.25" fill="#2c2c2c"/>
<text x="46.0" y="324.2" font-family="Liberation Sans" font-size="8.0" fill="#505050" text-anchor="start">5'</text>
<text x="74.5" y="324.2" font-family="Liberation Sans" font-size="8.0" fill="#505050" text-anchor="start">3'</text>
<line x1="159.8" y1="31.7" x2="159.8" y2="33.3" stroke="#222" stroke-width="1"/>
<line x1="159.8" y1="304.3" x2="159.8" y2="305.9" stroke="#222" stroke-width="1"/>
<line x1="176.0" y1="31.7" x2="176.0" y2="33.3" stroke="#222" stroke-width="1"/>
<line x1="176.0" y1="304.3" x2="176.0" y2="305.9" stroke="#222" stroke-width="1"/>
<line x1="192.2" y1="31.7" x2="192.2" y2="33.3" stroke="#222" stroke-width="1"/>
<line x1="192.2" y1="304.3" x2="192.2" y2="305.9" stroke="#222" stroke-width="1"/>
<line x1="208.3" y1="31.7" x2="208.3" y2="33.3" stroke="#222" stroke-width="1"/>
<line x1="208.3" y1="304.3" x2="208.3" y2="305.9" stroke="#222" stroke-width="1"/>
<line x1="224.5" y1="31.7" x2="224.5" y2="33.3" stroke="#222" stroke-width="1"/>
<line x1="224.5" y1="304.3" x2="224.5" y2="305.9" stroke="#222" stroke-width="1"/>
<line x1="240.7" y1="31.7" x2="240.7" y2="33.3" stroke="#222" stroke-width="1"/>
<line x1="240.7" y1="304.3" x2="240.7" y2="305.9" stroke="#222" stroke-width="1"/>
<line x1="256.9" y1="31.7" x2="256.9" y2="33.3" stroke="#222" stroke-width="1"/>
<line x1="256.9" y1="304.3" x2="256.9" y2="305.9" stroke="#222" stroke-width="1"/>
<line x1="273.0" y1="31.7" x2="273.0" y2="33.3" stroke="#222" stroke-width="1"/>
<line x1="273.0" y1="304.3" x2="273.0" y2="305.9" stroke="#222" stroke-width="1"/>
<line x1="289.2" y1="31.7" x2="289.2" y2="33.3" stroke="#222" stroke-width="1"/>
<line x1="289.2" y1="304.3" x2="289.2" y2="305.9" stroke="#222" stroke-width="1"/>
<line x1="305.4" y1="31.7" x2="305.4" y2="33.3" stroke="#222" stroke-width="1"/>
<line x1="305.4" y1="304.3" x2="305.4" y2="305.9" stroke="#222" stroke-width="1"/>
<line x1="321.6" y1="31.7" x2="321.6" y2="33.3" stroke="#222" stroke-width="1"/>
<line x1="321.6" y1="304.3" x2="321.6" y2="305.9" stroke="#222" stroke-width="1"/>
<line x1="337.8" y1="31.7" x2="337.8" y2="33.3" stroke="#222" stroke-width="1"/>
<line x1="337.8" y1="304.3" x2="337.8" y2="305.9" stroke="#222" stroke-width="1"/>
<line x1="353.9" y1="31.7" x2="353.9" y2="33.3" stroke="#222" stroke-width="1"/>
<line x1="353.9" y1="304.3" x2="353.9" y2="305.9" stroke="#222" stroke-width="1"/>
<line x1="370.1" y1="31.7" x2="370.1" y2="33.3" stroke="#222" stroke-width="1"/>
<line x1="370.1" y1="304.3" x2="370.1" y2="305.9" stroke="#222" stroke-width="1"/>
<line x1="386.3" y1="31.7" x2="386.3" y2="33.3" stroke="#222" stroke-width="1"/>
<line x1="386.3" y1="304.3" x2="386.3" y2="305.9" stroke="#222" stroke-width="1"/>
<line x1="141.7" y1="46.0" x2="143.3" y2="46.0" stroke="#222" stroke-width="1"/>
<line x1="141.7" y1="62.0" x2="143.3" y2="62.0" stroke="#222" stroke-width="1"/>
<line x1="141.7" y1="78.0" x2="143.3" y2="78.0" stroke="#222" stroke-width="1"/>
<line x1="141.7" y1="94.0" x2="143.3" y2="94.0" stroke="#222" stroke-width="1"/>
<line x1="141.7" y1="110.0" x2="143.3" y2="110.0" stroke="#222" stroke-width="1"/>
<line x1="141.7" y1="126.0" x2="143.3" y2="126.0" stroke="#222" stroke-width="1"/>
<line x1="141.7" y1="142.0" x2="143.3" y2="142.0" stroke="#222" stroke-width="1"/>
<line x1="141.7" y1="158.0" x2="143.3" y2="158.0" stroke="#222" stroke-width="1"/>
<line x1="141.7" y1="174.0" x2="143.3" y2="174.0" stroke="#222" stroke-width="1"/>
<line x1="141.7" y1="190.0" x2="143.3" y2="190.0" stroke="#222" stroke-width="1"/>
<line x1="141.7" y1="206.0" x2="143.3" y2="206.0" stroke="#222" stroke-width="1"/>
<line x1="141.7" y1="222.0" x2="143.3" y2="222.0" stroke="#222" stroke-width="1"/>
<line x1="141.7" y1="238.0" x2="143.3" y2="238.0" stroke="#222" stroke-width="1"/>
<line x1="141.7" y1="254.0" x2="143.3" y2="254.0" stroke="#222" stroke-width="1"/>
<line x1="141.7" y1="270.0" x2="143.3" y2="270.0" stroke="#222" stroke-width="1"/>
<line x1="141.7" y1="286.0" x2="143.3" y2="286.0" stroke="#222" stroke-width="1"/>
<line x1="141.7" y1="302.0" x2="143.3" y2="302.0" stroke="#222" stroke-width="1"/>
<line x1="426.1" y1="30.2" x2="426.1" y2="31.8" stroke="#222" stroke-width="1"/>
<line x1="426.1" y1="304.3" x2="426.1" y2="305.9" stroke="#222" stroke-width="1"/>
<line x1="442.0" y1="30.2" x2="442.0" y2="31.8" stroke="#222" stroke-width="1"/>
<line x1="442.0" y1="304.3" x2="442.0" y2="305.9" stroke="#222" stroke-width="1"/>
<line x1="457.9" y1="30.2" x2="457.9" y2="31.8" stroke="#222" stroke-width="1"/>
<line x1="457.9" y1="304.3" x2="457.9" y2="305.9" stroke="#222" stroke-width="1"/>
<line x1="473.8" y1="30.2" x2="473.8" y2="31.8" stroke="#222" stroke-width="1"/>
<line x1="473.8" y1="304.3" x2="473.8" y2="305.9" stroke="#222" stroke-width="1"/>
<line x1="489.8" y1="30.2" x2="489.8" y2="31.8" stroke="#222" stroke-width="1"/>
<line x1="489.8" y1="304.3" x2="489.8" y2="305.9" stroke="#222" stroke-width="1"/>
<line x1="505.7" y1="30.2" x2="505.7" y2="31.8" stroke="#222" stroke-width="1"/>
<line x1="505.7" y1="304.3" x2="505.7" y2="305.9" stroke="#222" stroke-width="1"/>
<line x1="521.6" y1="30.2" x2="521.6" y2="31.8" stroke="#222" stroke-width="1"/>
<line x1="521.6" y1="304.3" x2="521.6" y2="305.9" stroke="#222" stroke-width="1"/>
<line x1="537.5" y1="30.2" x2="537.5" y2="31.8" stroke="#222" stroke-width="1"/>
<line x1="537.5" y1="304.3" x2="537.5" y2="305.9" stroke="#222" stroke-width="1"/>
<line x1="553.5" y1="30.2" x2="553.5" y2="31.8" stroke="#222" stroke-width="1"/>
<line x1="553.5" y1="304.3" x2="553.5" y2="305.9" stroke="#222" stroke-width="1"/>
<line x1="569.4" y1="30.2" x2="569.4" y2="31.8" stroke="#222" stroke-width="1"/>
<line x1="569.4" y1="304.3" x2="569.4" y2="305.9" stroke="#222" stroke-width="1"/>
<line x1="585.3" y1="30.2" x2="585.3" y2="31.8" stroke="#222" stroke-width="1"/>
<line x1="585.3" y1="304.3" x2="585.3" y2="305.9" stroke="#222" stroke-width="1"/>
<line x1="601.2" y1="30.2" x2="601.2" y2="31.8" stroke="#222" stroke-width="1"/>
<line x1="601.2" y1="304.3" x2="601.2" y2="305.9" stroke="#222" stroke-width="1"/>
<line x1="617.2" y1="30.2" x2="617.2" y2="31.8" stroke="#222" stroke-width="1"/>
<line x1="617.2" y1="304.3" x2="617.2" y2="305.9" stroke="#222" stroke-width="1"/>
<line x1="633.1" y1="30.2" x2="633.1" y2="31.8" stroke="#222" stroke-width="1"/>
<line x1="633.1" y1="304.3" x2="633.1" y2="305.9" stroke="#222" stroke-width="1"/>
<line x1="649.0" y1="30.2" x2="649.0" y2="31.8" stroke="#222" stroke-width="1"/>
<line x1="649.0" y1="304.3" x2="649.0" y2="305.9" stroke="#222" stroke-width="1"/>
<line x1="665.0" y1="30.2" x2="665.0" y2="31.8" stroke="#222" stroke-width="1"/>
<line x1="665.0" y1="304.3" x2="665.0" y2="305.9" stroke="#222" stroke-width="1"/>
<line x1="666.4" y1="44.5" x2="668.0" y2="44.5" stroke="#222" stroke-width="1"/>
<line x1="666.4" y1="60.6" x2="668.0" y2="60.6" stroke="#222" stroke-width="1"/>
<line x1="666.4" y1="76.7" x2="668.0" y2="76.7" stroke="#222" stroke-width="1"/>
<line x1="666.4" y1="92.8" x2="668.0" y2="92.8" stroke="#222" stroke-width="1"/>
<line x1="666.4" y1="108.9" x2="668.0" y2="108.9" stroke="#222" stroke-width="1"/>
<line x1="666.4" y1="125.0" x2="668.0" y2="125.0" stroke="#222" stroke-width="1"/>
<line x1="666.4" y1="141.1" x2="668.0" y2="141.1" stroke="#222" stroke-width="1"/>
<line x1="666.4" y1="157.2" x2="668.0" y2="157.2" stroke="#222" stroke-width="1"/>
<line x1="666.4" y1="173.3" x2="668.0" y2="173.3" stroke="#222" stroke-width="1"/>
<line x1="666.4" y1="189.4" x2="668.0" y2="189.4" stroke="#222" stroke-width="1"/>
<line x1="666.4" y1="205.5" x2="668.0" y2="205.5" stroke="#222" stroke-width="1"/>
<line x1="666.4" y1="221.6" x2="668.0" y2="221.6" stroke="#222" stroke-width="1"/>
<line x1="666.4" y1="237.7" x2="668.0" y2="237.7" stroke="#222" stroke-width="1"/>
<line x1="666.4" y1="253.8" x2="668.0" y2="253.8" stroke="#222" stroke-width="1"/>
<line x1="666.4" y1="269.9" x2="668.0" y2="269.9" stroke="#222" stroke-width="1"/>
<line x1="666.4" y1="286.0" x2="668.0" y2="286.0" stroke="#222" stroke-width="1"/>
<line x1="666.4" y1="302.1" x2="668.0" y2="302.1" stroke="#222" stroke-width="1"/>
<text x="176.7" y="28.0" font-family="Liberation Sans" font-size="11.2" fill="#333" text-anchor="middle">6.0</text>
<text x="176.2" y="317.6" font-family="Liberation Sans" font-size="11.2" fill="#333" text-anchor="middle">6.0</text>
<text x="442.8" y="28.0" font-family="Liberation Sans" font-size="11.2" fill="#333" text-anchor="middle">6.0</text>
<text x="442.6" y="317.6" font-family="Liberation Sans" font-size="11.2" fill="#333" text-anchor="middle">6.0</text>
<text x="241.4" y="28.0" font-family="Liberation Sans" font-size="11.2" fill="#333" text-anchor="middle">5.8</text>
<text x="240.9" y="317.6" font-family="Liberation Sans" font-size="11.2" fill="#333" text-anchor="middle">5.8</text>
<text x="506.5" y="28.0" font-family="Liberation Sans" font-size="11.2" fill="#333" text-anchor="middle">5.8</text>
<text x="506.3" y="317.6" font-family="Liberation Sans" font-size="11.2" fill="#333" text-anchor="middle">5.8</text>
<text x="306.1" y="28.0" font-family="Liberation Sans" font-size="11.2" fill="#333" text-anchor="middle">5.6</text>
<text x="305.6" y="317.6" font-family="Liberation Sans" font-size="11.2" fill="#333" text-anchor="middle">5.6</text>
<text x="570.2" y="28.0" font-family="Liberation Sans" font-size="11.2" fill="#333" text-anchor="middle">5.6</text>
<text x="570.0" y="317.6" font-family="Liberation Sans" font-size="11.2" fill="#333" text-anchor="middle">5.6</text>
<text x="370.8" y="28.0" font-family="Liberation Sans" font-size="11.2" fill="#333" text-anchor="middle">5.4</text>
<text x="370.3" y="317.6" font-family="Liberation Sans" font-size="11.2" fill="#333" text-anchor="middle">5.4</text>
<text x="633.9" y="28.0" font-family="Liberation Sans" font-size="11.2" fill="#333" text-anchor="middle">5.4</text>
<text x="633.7" y="317.6" font-family="Liberation Sans" font-size="11.2" fill="#333" text-anchor="middle">5.4</text>
<text x="130.6" y="49.3" font-family="Liberation Sans" font-size="11.2" fill="#333" text-anchor="middle">4.0</text>
<text x="669.3" y="47.8" font-family="Liberation Sans" font-size="11.2" fill="#333">4.0</text>
<text x="130.6" y="113.3" font-family="Liberation Sans" font-size="11.2" fill="#333" text-anchor="middle">4.2</text>
<text x="669.3" y="112.2" font-family="Liberation Sans" font-size="11.2" fill="#333">4.2</text>
<text x="130.6" y="177.3" font-family="Liberation Sans" font-size="11.2" fill="#333" text-anchor="middle">4.4</text>
<text x="669.3" y="176.6" font-family="Liberation Sans" font-size="11.2" fill="#333">4.4</text>
<text x="130.6" y="241.3" font-family="Liberation Sans" font-size="11.2" fill="#333" text-anchor="middle">4.6</text>
<text x="669.3" y="241.0" font-family="Liberation Sans" font-size="11.2" fill="#333">4.6</text>
<text x="272.0" y="334.4" font-family="Liberation Sans" font-size="10.6" fill="#333" text-anchor="middle">ω<tspan font-size="7" dy="2.5">2</tspan><tspan dy="-2.5">-</tspan><tspan font-size="7" dy="-3.5">1</tspan><tspan dy="3.5">H&#160; (ppm)</tspan></text>
<text x="536.0" y="334.4" font-family="Liberation Sans" font-size="10.6" fill="#333" text-anchor="middle">ω<tspan font-size="7" dy="2.5">2</tspan><tspan dy="-2.5">-</tspan><tspan font-size="7" dy="-3.5">1</tspan><tspan dy="3.5">H&#160; (ppm)</tspan></text>
<g transform="translate(119.3,147.3) rotate(-90)"><text x="0" y="0" font-family="Liberation Sans" font-size="10.6" fill="#333" text-anchor="middle">ω<tspan font-size="7" dy="2.5">1</tspan><tspan dy="-2.5">-</tspan><tspan font-size="7" dy="-3.5">1</tspan><tspan dy="3.5">H&#160; (ppm)</tspan></text></g>
<rect x="143.3" y="33.3" width="259.2" height="271.0" fill="none" stroke="#222" stroke-width="1.2"/>
<rect x="410.4" y="31.8" width="256.0" height="272.5" fill="none" stroke="#222" stroke-width="1.2"/>
</svg>
</body></html>
